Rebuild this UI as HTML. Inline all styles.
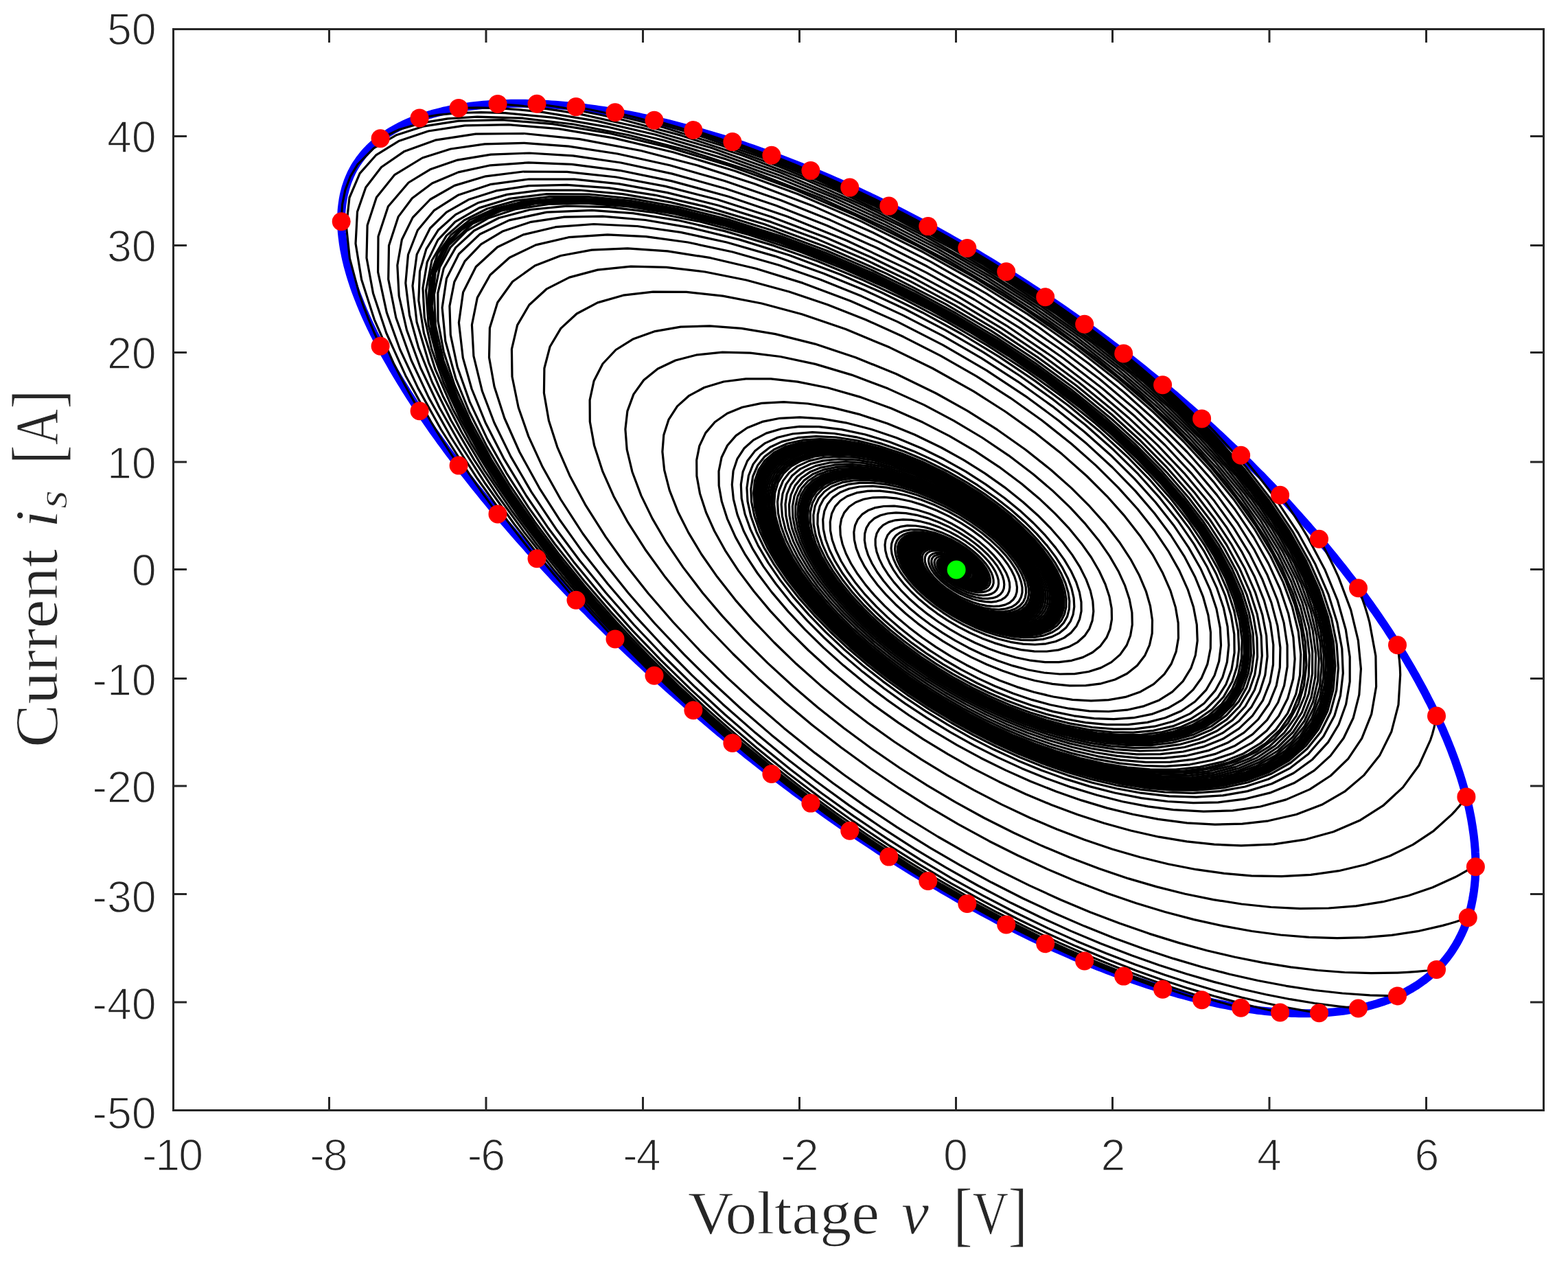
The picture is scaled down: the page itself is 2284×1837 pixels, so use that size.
<!DOCTYPE html>
<html lang="en"><head><meta charset="utf-8"><title>Phase portrait</title>
<style>html,body{margin:0;padding:0;background:#fff}body{width:2284px;height:1837px;overflow:hidden}svg{display:block}.t{font-family:"Liberation Sans",sans-serif;font-size:64.5px;fill:#262626;stroke:#fff;stroke-width:1.5px}.l{font-family:"Liberation Serif",serif;font-size:89px;fill:#262626;stroke:#fff;stroke-width:1px}</style></head><body>
<svg xmlns="http://www.w3.org/2000/svg" width="2284" height="1837" viewBox="0 0 2284 1837">
<rect width="2284" height="1837" fill="#fff"/>
<path d="M497.1,320.6l.1,-3.6 .1,-3.5 .1,-3.4 .2,-3.5 .3,-3.4 .4,-3.3 .4,-3.3 .5,-3.3 .5,-3.3 .6,-3.2 .6,-3.1 .8,-3.2 .8,-3.1 .8,-3.1 .9,-3 1,-3 1,-2.9 1.1,-2.9 1.2,-2.9 1.2,-2.9 1.3,-2.8 1.3,-2.8 1.4,-2.7 1.5,-2.7 1.5,-2.7 1.6,-2.6 1.7,-2.6 1.7,-2.5 1.8,-2.6 1.8,-2.4 1.9,-2.5 1.9,-2.4 2.1,-2.4 2,-2.3 2.2,-2.3 2.2,-2.3 2.2,-2.2 2.4,-2.2 2.3,-2.1 2.5,-2.1 2.5,-2.1 2.5,-2.1 2.6,-2 2.7,-1.9 2.7,-1.9 2.8,-1.9 2.9,-1.9 2.9,-1.8 2.9,-1.8 3,-1.7 3.1,-1.7 3.2,-1.7 3.1,-1.6 3.3,-1.6 3.3,-1.5 3.3,-1.5 3.5,-1.5 3.4,-1.4 3.5,-1.4 3.6,-1.4 3.7,-1.3 3.6,-1.3 3.8,-1.2 3.8,-1.2 3.8,-1.2 3.9,-1.1 4,-1.1 4,-1 4,-1 4.2,-1 4.1,-.9 4.2,-.9 4.3,-.8 4.3,-.9 4.4,-.7 4.4,-.7 4.4,-.7 4.6,-.7 4.5,-.6 4.6,-.5 4.7,-.6 4.7,-.4 4.7,-.5 4.8,-.4 4.9,-.3 4.9,-.3 4.9,-.3 5,-.2 5,-.2 5.1,-.2 5.1,-.1 5.2,-.1 5.2,0 5.3,0 5.3,.1 5.3,.1 5.4,.1 5.4,.2 5.5,.3 5.5,.2 5.5,.4 5.6,.3 5.6,.4 5.7,.5 5.7,.5 5.7,.5 5.8,.6 5.8,.6 5.8,.6 5.9,.7 6,.8 5.9,.8 6,.8 6,.9 6.1,.9 6.1,1 6.1,1 6.2,1.1 6.2,1.1 6.2,1.1 6.3,1.2 6.3,1.2 6.3,1.3 6.3,1.3 6.4,1.4 6.4,1.4 6.5,1.4 6.4,1.5 6.5,1.6 6.5,1.6 6.6,1.6 6.6,1.7 6.6,1.7 6.6,1.8 6.6,1.8 6.7,1.8 6.7,1.9 6.7,1.9 6.8,2 6.7,2 6.8,2.1 6.8,2.1 6.9,2.2 6.8,2.2 6.9,2.2 6.9,2.3 6.9,2.4 6.9,2.3 6.9,2.5 7,2.4 6.9,2.5 7,2.6 7,2.6 7.1,2.6 7,2.7 7,2.7 7.1,2.8 7.1,2.8 7,2.8 7.1,2.9 7.1,2.9 7.2,3 7.1,3 7.1,3.1 7.2,3.1 7.1,3.1 7.2,3.2 7.1,3.2 7.2,3.3 7.2,3.3 7.2,3.3 7.2,3.4 7.2,3.5 7.2,3.4 7.2,3.5 7.2,3.6 7.2,3.6 7.2,3.6 7.2,3.7 7.2,3.7 7.2,3.7 7.2,3.8 7.2,3.8 7.2,3.8 7.2,3.9 7.2,4 7.2,3.9 7.2,4 7.2,4.1 7.2,4.1 7.2,4.1 7.2,4.1 7.1,4.2 7.2,4.2 7.1,4.3 7.2,4.3 7.1,4.3 7.1,4.4 7.2,4.4 7.1,4.4 7.1,4.4 7,4.5 7.1,4.6 7.1,4.5 7,4.6 7,4.6 7.1,4.7 7,4.7 6.9,4.7 7,4.7 7,4.8 6.9,4.8 6.9,4.9 6.9,4.8 6.9,4.9 6.9,5 6.8,4.9 6.9,5 6.8,5 6.8,5 6.7,5.1 6.8,5.1 6.7,5.1 6.7,5.1 6.7,5.2 6.6,5.2 6.6,5.2 6.6,5.2 6.6,5.3 6.5,5.3 6.6,5.3 6.5,5.3 6.4,5.3 6.5,5.4 6.4,5.4 6.4,5.4 6.3,5.4 6.3,5.5 6.3,5.5 6.3,5.5 6.2,5.5 6.2,5.5 6.2,5.6 6.1,5.5 6.1,5.6 6.1,5.6 6,5.6 6,5.6 5.9,5.7 6,5.6 5.8,5.7 5.9,5.7 5.8,5.7 5.8,5.7 5.7,5.8 5.7,5.7 5.7,5.7 5.6,5.8 5.6,5.8 5.5,5.8 5.5,5.8 5.5,5.8 5.4,5.8 5.4,5.8 5.3,5.8 5.3,5.9 5.3,5.8 5.2,5.9 5.2,5.8 5.1,5.9 5.1,5.8 5,5.9 5,5.9 4.9,5.9 4.9,5.8 4.8,5.9 4.8,5.9 4.8,5.9 4.7,5.9 4.7,5.9 4.6,5.9 4.5,5.9 4.6,5.9 4.4,5.9 4.4,5.9 4.4,5.8 4.3,5.9 4.3,5.9 4.2,5.9 4.1,5.9 4.2,5.8 4,5.9 4,5.9 4,5.8 3.9,5.9 3.8,5.8 3.8,5.9 3.7,5.8 3.7,5.8 3.7,5.8 3.5,5.8 3.6,5.8 3.4,5.8 3.4,5.8 3.4,5.7 3.3,5.8 3.3,5.7 3.1,5.7 3.2,5.8 3,5.6 3.1,5.7 2.9,5.7 2.9,5.7 2.9,5.6 2.8,5.6 2.7,5.6 2.7,5.6 2.6,5.6 2.5,5.6 2.5,5.5 2.5,5.5 2.3,5.5 2.4,5.5 2.2,5.5 2.2,5.4 2.2,5.4 2,5.4 2,5.4 2,5.3 1.9,5.4 1.8,5.3 1.8,5.3 1.7,5.2 1.7,5.3 1.6,5.2 1.5,5.2 1.5,5.1 1.4,5.2 1.3,5.1 1.3,5 1.2,5.1 1.2,5 1.1,5 1,5 1,4.9 .9,4.9 .8,4.9 .8,4.9 .7,4.8 .7,4.8 .6,4.7 .5,4.7 .5,4.7 .4,4.7 .4,4.6 .2,4.6 .3,4.5 .1,4.6 .1,4.4 .1,4.5 -.1,4.4 -.1,4.4 -.1,4.3 -.3,4.3 -.2,4.3 -.4,4.2 -.4,4.2 -.5,4.2 -.5,4.1 -.6,4.1 -.7,4 -.7,4 -.8,3.9 -.8,4 -.9,3.8 -1,3.9 -1,3.7 -1.1,3.8 -1.2,3.7 -1.2,3.7 -1.3,3.6 -1.3,3.6 -1.4,3.5 -1.5,3.5 -1.5,3.4 -1.6,3.4 -1.7,3.4 -1.7,3.3 -1.8,3.3 -1.8,3.2 -1.9,3.2 -2,3.1 -2,3.1 -2,3 -2.2,3 -2.2,2.9 -2.2,2.9 -2.4,2.9 -2.3,2.8 -2.5,2.7 -2.5,2.7 -2.5,2.7 -2.6,2.6 -2.7,2.5 -2.7,2.5 -2.8,2.5 -2.9,2.4 -2.9,2.4 -2.9,2.3 -3.1,2.2 -3,2.2 -3.2,2.2 -3.1,2.1 -3.3,2 -3.3,2 -3.4,1.9 -3.4,1.9 -3.4,1.9 -3.6,1.8 -3.5,1.7 -3.7,1.7 -3.7,1.6 -3.7,1.6 -3.8,1.5 -3.8,1.5 -3.9,1.4 -4,1.3 -4,1.3 -4,1.3 -4.2,1.2 -4.1,1.1 -4.2,1.1 -4.3,1.1 -4.3,.9 -4.4,1 -4.4,.8 -4.4,.9 -4.6,.7 -4.5,.7 -4.6,.7 -4.7,.6 -4.7,.5 -4.8,.5 -4.8,.4 -4.8,.4 -4.9,.3 -4.9,.3 -5,.2 -5,.1 -5.1,.1 -5.1,.1 -5.2,0 -5.2,-.1 -5.3,-.1 -5.3,-.2 -5.3,-.3 -5.4,-.3 -5.4,-.3 -5.5,-.4 -5.5,-.5 -5.5,-.5 -5.6,-.6 -5.6,-.6 -5.7,-.7 -5.7,-.8 -5.7,-.8 -5.8,-.8 -5.8,-.9 -5.9,-1 -5.8,-1 -6,-1.1 -5.9,-1.1 -6,-1.2 -6,-1.2 -6.1,-1.3 -6.1,-1.4 -6.1,-1.4 -6.2,-1.5 -6.2,-1.5 -6.2,-1.5 -6.3,-1.7 -6.3,-1.7 -6.3,-1.7 -6.3,-1.8 -6.4,-1.8 -6.4,-1.9 -6.5,-2 -6.4,-2 -6.5,-2 -6.6,-2.1 -6.5,-2.2 -6.6,-2.2 -6.6,-2.3 -6.6,-2.3 -6.6,-2.4 -6.7,-2.4 -6.7,-2.5 -6.7,-2.5 -6.8,-2.6 -6.7,-2.6 -6.8,-2.7 -6.8,-2.7 -6.9,-2.8 -6.8,-2.9 -6.9,-2.9 -6.9,-2.9 -6.9,-3 -6.9,-3 -6.9,-3.1 -7,-3.1 -7,-3.2 -6.9,-3.2 -7,-3.3 -7.1,-3.3 -7,-3.4 -7,-3.4 -7.1,-3.5 -7.1,-3.5 -7,-3.6 -7.1,-3.6 -7.1,-3.6 -7.2,-3.7 -7.1,-3.8 -7.1,-3.8 -7.2,-3.8 -7.1,-3.9 -7.2,-3.9 -7.1,-4 -7.2,-4 -7.2,-4 -7.2,-4.1 -7.2,-4.2 -7.2,-4.1 -7.2,-4.3 -7.2,-4.2 -7.2,-4.3 -7.2,-4.3 -7.2,-4.4 -7.2,-4.4 -7.2,-4.5 -7.2,-4.5 -7.2,-4.5 -7.2,-4.6 -7.2,-4.6 -7.2,-4.7 -7.2,-4.6 -7.2,-4.8 -7.2,-4.7 -7.2,-4.8 -7.2,-4.8 -7.2,-4.9 -7.2,-4.9 -7.1,-4.9 -7.2,-5 -7.1,-5 -7.2,-5 -7.1,-5 -7.1,-5.1 -7.2,-5.2 -7.1,-5.1 -7.1,-5.2 -7,-5.2 -7.1,-5.2 -7.1,-5.3 -7,-5.3 -7,-5.3 -7.1,-5.3 -7,-5.4 -7,-5.4 -6.9,-5.4 -7,-5.5 -6.9,-5.5 -6.9,-5.4 -6.9,-5.6 -6.9,-5.5 -6.9,-5.6 -6.8,-5.6 -6.9,-5.6 -6.8,-5.6 -6.8,-5.6 -6.7,-5.7 -6.8,-5.7 -6.7,-5.7 -6.7,-5.7 -6.7,-5.8 -6.6,-5.7 -6.6,-5.8 -6.6,-5.8 -6.6,-5.8 -6.6,-5.8 -6.5,-5.8 -6.5,-5.9 -6.4,-5.8 -6.5,-5.9 -6.4,-5.9 -6.4,-5.9 -6.3,-5.9 -6.3,-5.9 -6.3,-5.9 -6.3,-5.9 -6.2,-6 -6.2,-5.9 -6.2,-6 -6.1,-5.9 -6.1,-6 -6.1,-6 -6,-5.9 -6,-6 -5.9,-6 -6,-6 -5.9,-6 -5.8,-6 -5.8,-6 -5.8,-6 -5.7,-6 -5.7,-6 -5.7,-5.9 -5.6,-6 -5.6,-6 -5.5,-6 -5.5,-6 -5.5,-6 -5.4,-6 -5.4,-5.9 -5.3,-6 -5.3,-5.9 -5.3,-6 -5.2,-5.9 -5.2,-6 -5.1,-5.9 -5.1,-5.9 -5,-5.9 -5,-6 -4.9,-5.8 -4.9,-5.9 -4.9,-5.9 -4.8,-5.9 -4.7,-5.8 -4.7,-5.8 -4.7,-5.8 -4.6,-5.9 -4.5,-5.7 -4.6,-5.8 -4.4,-5.8 -4.4,-5.7 -4.4,-5.7 -4.3,-5.8 -4.3,-5.6 -4.2,-5.7 -4.1,-5.7 -4.2,-5.6 -4,-5.6 -4,-5.6 -4,-5.6 -3.9,-5.6 -3.8,-5.5 -3.8,-5.5 -3.8,-5.5 -3.6,-5.5 -3.7,-5.4 -3.6,-5.4 -3.5,-5.4 -3.4,-5.4 -3.5,-5.4 -3.3,-5.3 -3.3,-5.3 -3.3,-5.3 -3.1,-5.2 -3.2,-5.3 -3.1,-5.2 -3,-5.1 -2.9,-5.2 -2.9,-5.1 -2.9,-5.1 -2.8,-5 -2.7,-5.1 -2.7,-5 -2.6,-4.9 -2.5,-5 -2.5,-4.9 -2.5,-4.9 -2.3,-4.8 -2.4,-4.8 -2.2,-4.8 -2.2,-4.8 -2.2,-4.7 -2,-4.7 -2.1,-4.7 -1.9,-4.6 -1.9,-4.6 -1.8,-4.6 -1.8,-4.5 -1.7,-4.5 -1.7,-4.5 -1.6,-4.4 -1.5,-4.4 -1.5,-4.4 -1.4,-4.4 -1.3,-4.3 -1.3,-4.2 -1.2,-4.3 -1.2,-4.2 -1.1,-4.1 -1,-4.2 -1,-4.1 -.9,-4 -.8,-4.1 -.8,-4 -.8,-3.9 -.6,-3.9 -.6,-3.9 -.5,-3.9 -.5,-3.8 -.4,-3.8 -.4,-3.7 -.3,-3.7 -.2,-3.7 -.1,-3.7 -.1,-3.6z" fill="none" stroke="#0000ff" stroke-width="12" stroke-linejoin="round"/>
<g fill="none" stroke="#000" stroke-width="3.2" stroke-linejoin="round" stroke-linecap="butt">
<path d="M497.1,320.6l1.5,-22.8 4.3,-21.2 7.4,-19.4 10.6,-17.5 23.5,-23.9 32.3,-18.7 41.1,-13.3 50.1,-7.6 64,-1.5 73,5.9 81,13.2 87,20.6 89.7,27 91.9,33.5 92.2,39.4 90.6,44.5 79.4,44.1 75.6,47.1 70.8,49.3 65.2,50.9 50.3,43.7 45.5,43.9 40.4,43.7 35.1,43.1 29.4,41.4 24.2,40.1 19,38.6 14,36.7 9.3,36.2 4.1,33.6 -.8,30.9 -5.5,28.1 -11.7,28.4 -16.9,24.3 -21.5,20.3 -25.7,16.1 -29.7,12.1 -32.8,8 -35.3,4.1 -37.3,.2 -33.5,-2.6 -34.2,-5.3 -34.6,-7.5 -34.7,-9.8 -32.7,-11.1 -32.3,-12.7 -31.7,-14.1 -30.9,-15.4 -30.9,-17.1 -29.7,-18.1 -28.5,-18.8 -26.9,-19.6 -26.9,-21.2 -24.9,-21.6 -22.9,-21.7 -20.7,-21.6 -19.8,-23.1 -17.2,-22.5 -14.3,-21.9 -11.6,-20.9 -9.4,-21.5 -6.1,-20.1 -2.8,-18.5 .3,-16.7 4,-15.9 7.4,-13.7 10.8,-11.2 13.8,-8.6 19,-6.7 22,-3.5 24.5,-.2 26.4,2.7 27.9,5.7 28.6,8.3 28.8,10.7 28.3,12.7 24.7,13 23.5,14.2 21.9,15 20.1,15.6 16.5,14.5 14.7,14.5 12.7,14.4 10.6,14.1 8.5,13.6 6.4,12.9 4.3,12.2 2.2,11.2 .3,10.8 -1.9,9.5 -3.9,8.3 -5.6,6.8 -8.8,6.2 -10.8,4.3 -12.4,2.2 -13.7,.4 -14.3,-1.4 -14.8,-3.1 -15.1,-4.4 -14.9,-5.8 -13.3,-6.1 -12.8,-7 -12.1,-7.5 -11.2,-7.9 -10,-8 -8.9,-8.1 -7.8,-8.1 -6.6,-7.9 -5.5,-8 -4.2,-7.5 -2.9,-7.1 -1.6,-6.5 -.3,-6.3 1.2,-5.4 2.4,-4.5 3.7,-3.6 5.5,-3 6.8,-1.7 7.7,-.4 8.4,.7 9.2,1.9 9.5,3 9.3,3.9 9,4.6 7.7,4.7 7,5 6.3,5.2 5.4,5.3 4.2,4.9 3.3,4.7 2.4,4.4 1.5,4.2 .6,3.8 -.3,3.4 -1,2.8 -1.9,2.3 -3,1.9 -3.7,1.1 -4.3,.3 -4.6,-.4 -5.4,-1.1 -5.4,-1.8 -5.3,-2.4 -5.1,-2.8 -4.2,-2.8 -3.7,-2.9 -3.2,-3.1 -2.6,-3 -1.9,-2.7 -1.3,-2.6 -.8,-2.3 -.1,-2.1 .4,-1.8 1,-1.5 1.5,-1.1 1.9,-.6 2.8,-.2 3.1,.3 3.2,.9 3.2,1.3 3.1,1.6 2.7,1.8 2.4,1.9 2,2 1.3,1.6 .9,1.6 .5,1.4 .1,1.3 -.3,1 -.7,.8"/>
<path d="M554.1,201.7l27.4,-12.9 32.7,-9.7 38,-6.3 43.1,-2.7 65.9,2.1 73.9,8.8 80.4,15.7 85.5,22.3 95.6,31.1 97.3,37.9 96.7,44.1 94.1,49.5 75.5,44.8 71.4,47.3 66.4,49 60.8,50.2 47.5,43.8 42.6,43.7 37.5,43.3 32.3,42.6 26.8,41.1 21.5,39.6 16.5,37.9 11.3,35.9 6.7,35.5 1.4,32.7 -3.5,29.8 -8.1,26.8 -15,27.5 -20.3,23.1 -25,18.6 -29.1,14.1 -31.8,9.6 -34.5,5.6 -36.6,1.7 -38.3,-1.9 -33.5,-4.4 -34,-6.7 -34.2,-8.9 -34.1,-10.8 -32.6,-12.2 -32.1,-13.8 -31.4,-15 -30.5,-16.3 -30.5,-17.9 -29.3,-18.9 -27.8,-19.5 -26.3,-20.1 -26.1,-21.8 -24,-22.1 -21.9,-22 -19.5,-21.8 -18.6,-23.2 -15.7,-22.5 -12.8,-21.7 -10,-20.7 -7.5,-21 -4.2,-19.4 -.8,-17.7 2.5,-15.8 6.1,-14.9 9.7,-12.3 13,-9.8 16,-7.2 21.5,-4.9 24.5,-1.5 26.9,1.8 28.5,4.9 28.3,7.5 28.6,9.9 28.3,12 27.5,13.8 23.4,13.6 22.1,14.5 20.3,15.1 18.5,15.5 15.3,14.6 13.4,14.4 11.3,14.2 9.2,13.8 7.2,13.3 5.1,12.6 3,11.7 .9,10.6 -1.1,10.3 -3.3,8.9 -5.1,7.5 -7,5.9 -10.4,5.3 -12.2,3.1 -13.7,1 -14.7,-.9 -14.7,-2.5 -15.1,-4.1 -15,-5.3 -14.7,-6.5 -12.8,-6.7 -12.2,-7.3 -11.5,-7.8 -10.4,-8.1 -9.3,-8.1 -8.2,-8.2 -7,-8 -5.8,-7.9 -4.7,-7.8 -3.4,-7.4 -2,-6.7 -.6,-6.2 .7,-5.8 2.1,-4.9 3.4,-4 4.6,-2.9 6.6,-2.3 7.9,-.8 8.6,.4 9.2,1.7 9.4,2.7 9.4,3.7 9.1,4.4 8.5,5.1 7.1,4.9 6.3,5 5.5,5.2 4.6,5.2 3.5,4.7 2.7,4.6 1.7,4.2 .9,3.9 -.1,3.6 -.9,3 -1.7,2.5 -2.4,1.8 -3.7,1.4 -4.4,.6 -4.9,-.3 -5.2,-1 -5.4,-1.7 -5.3,-2.2 -5.1,-2.7 -4.7,-3 -3.7,-2.9 -3.3,-3 -2.7,-3 -2.1,-2.8 -1.4,-2.7 -.9,-2.4 -.2,-2.2 .2,-1.8 .9,-1.6 1.5,-1.2 1.9,-.7 2.2,-.3 3.2,.2 3.3,.8 3.4,1.3 3.3,1.6 2.8,1.8 2.5,1.9 2,2 1.5,1.9 .9,1.6 .5,1.4 .1,1.3 -.2,1 -.7,.8"/>
<path d="M611.1,171.9l27.2,-4.6 29.9,-2.8 32.6,-.9 35.1,1 70.8,6.8 77.8,13.4 83.3,20 87.1,26.3 78.2,28 78.7,32.3 78.1,36.2 76.4,39.6 73.7,42.5 70.1,45 65.8,46.7 60.8,48.1 50.4,44.2 45.4,44.3 40.4,44.1 35.1,43.4 29.4,41.9 24.2,40.6 19,39 13.8,37.1 9.1,36.5 3.9,34 -1.2,31.2 -5.8,28.3 -12.2,28.7 -17.4,24.6 -22.2,20.3 -26.4,16.2 -30.2,12 -33.3,8 -35.8,3.9 -37.8,.1 -33.7,-2.8 -34.4,-5.3 -34.9,-7.7 -34.9,-9.8 -33,-11.2 -32.5,-12.8 -32,-14.3 -31.2,-15.5 -31.2,-17.2 -30.1,-18.3 -28.7,-19 -27.2,-19.7 -27.3,-21.5 -25.2,-21.8 -23.2,-21.9 -21.1,-21.9 -20.2,-23.3 -17.4,-22.9 -14.8,-22.1 -11.9,-21.3 -9.7,-21.8 -6.4,-20.4 -3,-18.8 .1,-17 3.8,-16.3 7.2,-14 10.7,-11.5 13.8,-8.9 18.8,-7 22,-3.8 24.5,-.5 26.6,2.5 28.2,5.5 29.1,8.2 29.2,10.6 28.8,12.8 25.3,13.1 24,14.4 22.5,15.2 20.7,15.8 17,14.7 15,14.8 13.1,14.6 11,14.3 8.8,13.8 6.7,13.2 4.7,12.4 2.5,11.4 .5,11.1 -1.7,9.8 -3.6,8.5 -5.5,7.1 -8.6,6.5 -10.6,4.6 -12.2,2.5 -13.5,.7 -14.4,-1.2 -15,-2.8 -15.2,-4.3 -15.2,-5.6 -13.6,-6.1 -13.1,-6.9 -12.4,-7.5 -11.6,-8 -10.2,-8 -9.3,-8.2 -8.1,-8.2 -6.9,-8 -5.9,-8.1 -4.6,-7.8 -3.2,-7.3 -1.9,-6.7 -.6,-6.5 .8,-5.6 2.2,-4.8 3.4,-3.8 5.2,-3.3 6.5,-2 7.5,-.7 8.3,.4 9.3,1.6 9.6,2.8 9.5,3.7 9.3,4.5 8,4.7 7.4,5.1 6.6,5.3 5.8,5.4 4.5,4.9 3.5,4.9 2.7,4.6 1.8,4.2 .9,4.1 0,3.5 -.8,3 -1.7,2.5 -2.7,2.1 -3.5,1.3 -4.1,.6 -4.6,-.2 -5.4,-.9 -5.5,-1.6 -5.4,-2.3 -5.2,-2.7 -4.5,-2.8 -4,-3 -3.4,-3.1 -2.9,-3.1 -2.1,-2.8 -1.6,-2.7 -.9,-2.4 -.3,-2.2 .2,-2 .8,-1.6 1.4,-1.2 1.7,-.8 2.6,-.4 3,.2 3.1,.6 3.2,1.1 3.2,1.5 2.9,1.8 2.6,1.9 2.2,2 1.5,1.7 1.1,1.7 .7,1.5 .3,1.4 -.1,1.1 -.5,1 -.8,.6"/>
<path d="M668.1,157.4l27.9,-.5 29.7,.8 31.5,2.1 33,3.6 79.5,13 85.4,19.9 89.7,26.7 92.2,33 76.2,31.5 75.6,35.1 74,38.3 71.6,41 68.3,43.3 64.3,45.1 59.8,46.3 54.8,47.1 46.3,44.3 41.3,44.1 36.1,43.6 30.9,42.7 25.4,41.4 20.2,39.8 15,37.9 9.9,35.9 5,35.4 -.1,32.5 -5.2,29.6 -9.8,26.4 -16.9,26.7 -22.2,22.2 -26.7,17.7 -30.8,13.2 -33,8.5 -35.7,4.5 -37.6,.7 -39.1,-2.9 -33.8,-5.2 -34.1,-7.3 -34.3,-9.5 -34.1,-11.4 -32.9,-12.8 -32.3,-14.2 -31.5,-15.6 -30.7,-16.7 -30.7,-18.5 -29.4,-19.3 -27.9,-20 -26.3,-20.5 -26.1,-22.3 -24,-22.4 -21.8,-22.4 -19.4,-22.2 -18.4,-23.5 -15.4,-22.8 -12.6,-21.9 -9.6,-20.8 -7,-21.2 -3.6,-19.5 -.3,-17.7 3.1,-15.7 6.9,-14.8 10.5,-12.1 13.8,-9.5 16.8,-6.8 22.6,-4.5 25.6,-1 27.8,2.4 29.4,5.6 28.9,8 29,10.5 28.6,12.6 27.8,14.3 23.4,13.9 22,14.7 20.3,15.4 18.3,15.7 15.2,14.8 13.2,14.7 11.2,14.3 9.1,13.9 7,13.5 4.8,12.6 2.8,11.8 .6,10.7 -1.4,10.3 -3.6,8.8 -5.6,7.5 -7.3,5.9 -10.7,5 -12.5,2.9 -14,.9 -15,-1.1 -15,-2.7 -15.2,-4.2 -15.2,-5.5 -14.9,-6.7 -13,-6.8 -12.3,-7.4 -11.5,-7.9 -10.6,-8.2 -9.4,-8.3 -8.2,-8.3 -7.1,-8.2 -5.8,-7.9 -4.8,-8 -3.3,-7.4 -2,-6.9 -.6,-6.2 .7,-5.9 2.2,-5 3.5,-4 4.6,-3 6.8,-2.2 8,-.9 8.8,.5 9.3,1.7 9.6,2.7 9.5,3.8 9.2,4.5 8.7,5.1 7.2,4.9 6.4,5.2 5.7,5.3 4.7,5.2 3.6,4.8 2.7,4.7 1.8,4.3 .9,3.9 0,3.7 -.9,3.1 -1.7,2.5 -2.4,1.9 -3.7,1.5 -4.4,.6 -5,-.2 -5.2,-1 -5.5,-1.6 -5.4,-2.3 -5.2,-2.7 -4.8,-3 -3.9,-3 -3.3,-3 -2.8,-3 -2.2,-2.9 -1.5,-2.7 -1,-2.5 -.3,-2.2 .2,-1.9 .8,-1.7 1.4,-1.2 1.9,-.8 2.2,-.4 3.2,.1 3.4,.8 3.5,1.2 3.3,1.6 2.9,1.8 2.6,2 2.1,2 1.6,1.9 1,1.6 .5,1.5 .2,1.3 -.2,1.1 -.5,.9 -1,.6"/>
<path d="M725,151.4l28.9,2.2 30.1,3.3 31.4,4.4 32.6,5.6 91.6,20.4 96.8,28.2 99.9,35.7 100.5,42.5 73.4,35.2 71.6,38.1 69.1,40.7 65.8,42.6 62.1,44.2 57.6,45.4 52.9,46 47.6,46.2 40.7,44.1 35.5,43.6 30.3,42.6 24.9,41.3 20,40.3 14.5,38.4 9.4,36.2 4.4,33.7 -.7,33.6 -6,30.3 -10.9,26.9 -15.5,23.4 -22.1,22 -26.6,17.6 -30.5,13.2 -33.9,8.8 -34.5,4.5 -36.5,.8 -37.9,-2.5 -38.8,-5.7 -33.6,-7.2 -33.8,-9.3 -33.6,-11.1 -33.3,-12.8 -32.7,-14.3 -32,-15.7 -31.1,-16.9 -29.9,-17.8 -30.1,-19.7 -28.6,-20.3 -26.9,-20.9 -25.1,-21.3 -24.8,-23 -22.5,-22.9 -20.1,-22.7 -17.7,-22.4 -16.2,-23.5 -13.1,-22.5 -10.1,-21.5 -7,-20.2 -4.2,-20.2 -.6,-18.4 2.9,-16.3 6.2,-14.1 10.4,-12.9 13.8,-10.1 17.1,-7.2 19.9,-4.4 25.9,-1.6 28.5,2 30.2,5.4 31.3,8.6 28.9,10.3 28.5,12.4 27.7,14.1 26.3,15.5 21.5,14.5 20,15.1 18.1,15.4 16,15.6 13.4,14.7 11.3,14.5 9.2,14 7,13.3 5.1,13 2.9,12 .7,10.9 -1.3,9.8 -3.6,9.4 -5.7,7.8 -7.6,6.1 -9.2,4.5 -12.2,3.2 -13.7,1.2 -14.7,-.7 -15.4,-2.6 -15.3,-3.9 -15.3,-5.4 -15,-6.5 -14.6,-7.5 -12.3,-7.3 -11.6,-7.9 -10.7,-8.1 -9.6,-8.4 -8.5,-8.4 -7.3,-8.3 -6.1,-8.1 -4.8,-7.7 -3.6,-7.7 -2.2,-7.1 -.8,-6.5 .5,-5.7 2,-5.3 3.4,-4.2 4.7,-3.2 5.8,-2.2 8.2,-1.2 9.2,.3 9.9,1.7 10.2,2.9 9.5,3.7 9.3,4.5 8.7,5.1 7.9,5.5 6.4,5.1 5.5,5.2 4.6,5.2 3.7,5 2.8,4.7 1.8,4.3 .9,4 0,3.5 -.9,3.3 -1.8,2.6 -2.6,1.9 -3.2,1.3 -4.8,.7 -5.4,-.2 -5.7,-1.2 -5.8,-1.8 -5.4,-2.4 -5.2,-2.8 -4.7,-3.1 -4.1,-3.3 -3.2,-3 -2.6,-3 -2,-2.8 -1.4,-2.7 -.8,-2.5 -.2,-2.2 .4,-1.8 .9,-1.5 1.6,-1.2 2.1,-.7 2.4,-.2 2.7,.2 3.4,.7 3.4,1.3 3.3,1.6 3,1.8 2.4,1.9 2,1.9 1.6,1.8 1.1,1.8 .6,1.5 .2,1.3 -.1,1.1 -.5,.9 -.9,.7"/>
<path d="M782,151.3l29.8,4.3 30.9,5.3 31.8,6.3 32.6,7.3 85.3,22.9 88.5,28.9 90,34.6 89.9,39.8 88.2,44.4 85,48.2 80.6,51.5 75,53.7 57.1,45.6 52.2,46.1 47,46.3 41.6,46 34.8,43.7 29.5,42.6 24.2,41.3 18.9,39.7 14.1,38.9 8.6,36.6 3.6,34 -1.4,31.3 -7.1,31.4 -12.3,27.7 -17.2,23.8 -21.6,20 -27.2,16.8 -30.9,12.6 -34.1,8.3 -36.7,4.1 -34.4,.5 -35.5,-2.6 -36.3,-5.3 -36.9,-7.9 -33.6,-9.2 -33.4,-11.1 -33.2,-12.8 -32.5,-14.2 -32.5,-15.9 -31.5,-17.1 -30.4,-18.1 -29.1,-18.9 -29.3,-20.8 -27.5,-21.4 -25.7,-21.7 -23.7,-21.9 -23.2,-23.5 -20.7,-23.3 -18.1,-22.9 -15.5,-22.3 -13.7,-23.3 -10.5,-22.1 -7.3,-20.7 -4.1,-19.3 -.8,-18.9 2.8,-16.9 6.2,-14.6 9.6,-12.2 14.1,-10.6 17.5,-7.7 20.5,-4.6 23.1,-1.6 27.7,1.5 29.4,4.9 30.6,7.8 30.9,10.6 28.6,12.1 27.8,13.8 26.5,15.2 24.8,16.4 19.9,14.9 18.2,15.2 16.1,15.4 14.1,15.3 11.7,14.6 9.5,14.2 7.4,13.6 5.2,12.8 3.3,12.4 1,11.3 -1.1,10.2 -3,8.8 -5.6,8.4 -7.7,6.7 -9.6,4.9 -11,3.1 -13.4,1.5 -14.5,-.4 -15.3,-2.2 -15.6,-3.8 -14.9,-5 -14.6,-6 -14.2,-7 -13.6,-7.8 -11.8,-7.7 -10.9,-8.1 -10,-8.3 -8.8,-8.4 -7.8,-8.4 -6.5,-8.3 -5.3,-8 -3.9,-7.5 -2.6,-7.5 -1.3,-6.8 .1,-6 1.5,-5.2 3.1,-4.7 4.4,-3.7 5.7,-2.5 6.6,-1.4 8.8,-.3 9.6,1.1 10,2.4 10.1,3.5 9.4,4.2 9,4.9 8.4,5.4 7.5,5.7 5.8,5.1 5,5.2 4,5 3.2,4.9 2.2,4.6 1.3,4.2 .3,3.7 -.5,3.3 -1.4,2.9 -2.4,2.3 -3,1.6 -3.7,.9 -5.1,.2 -5.5,-.7 -5.8,-1.5 -5.8,-2.1 -5.3,-2.6 -5,-3 -4.5,-3.2 -3.8,-3.4 -2.9,-3 -2.4,-2.9 -1.7,-2.8 -1.1,-2.6 -.5,-2.3 .1,-2.1 .7,-1.7 1.2,-1.3 1.9,-1 2.3,-.5 2.7,0 2.9,.5 3.4,1 3.4,1.4 3.1,1.7 2.9,1.9 2.2,1.9 1.8,1.9 1.3,1.8 1,1.6 .4,1.5 .1,1.3 -.3,1 -.7,.8 -1,.6"/>
<path d="M839,155.6l30.8,6.2 31.7,7.1 32.3,8 33,8.9 82.9,25.7 84.7,30.9 85.2,35.6 84.2,40 82.2,43.7 78.8,46.9 74.4,49.4 69.3,51.3 55.6,45.6 50.7,46.2 45.4,46.1 40.1,45.7 33.6,43.8 28.3,42.6 22.9,41.2 17.7,39.4 12.8,38.8 7.4,36.3 2.2,33.7 -2.7,30.9 -8.6,31.1 -13.9,27.2 -18.8,23.2 -23.1,19.2 -28.4,15.8 -31.9,11.4 -35,7.3 -37.4,3.1 -34.4,-.4 -35.5,-3.2 -36.2,-5.9 -36.6,-8.4 -33.7,-9.8 -33.5,-11.5 -33.1,-13.2 -32.6,-14.6 -32.5,-16.3 -31.5,-17.4 -30.3,-18.5 -29,-19.2 -29.2,-21.2 -27.4,-21.6 -25.5,-22 -23.4,-22 -23,-23.8 -20.3,-23.5 -17.8,-23 -15,-22.4 -13.3,-23.3 -9.9,-22 -6.7,-20.7 -3.5,-19.1 -.1,-18.8 3.5,-16.6 7,-14.2 10.4,-11.9 14.9,-10.2 18.4,-7.1 21.3,-4.1 23.9,-1 28.1,2.2 29.7,5.4 30.8,8.4 31,11 28.6,12.5 27.8,14.2 26.4,15.5 24.6,16.7 19.6,15 17.9,15.3 15.8,15.4 13.8,15.3 11.3,14.7 9.2,14.2 7.1,13.5 4.9,12.8 2.8,12.3 .7,11.3 -1.4,10 -3.5,8.7 -6,8.2 -8.2,6.5 -10,4.6 -11.5,2.9 -13.6,1.1 -14.8,-.7 -15.3,-2.5 -15.8,-4.1 -14.8,-5.1 -14.6,-6.2 -14.1,-7.1 -13.4,-7.8 -11.8,-7.9 -10.8,-8.1 -9.9,-8.4 -8.7,-8.4 -7.7,-8.5 -6.4,-8.3 -5.1,-8 -3.7,-7.6 -2.6,-7.4 -1.1,-6.8 .4,-5.9 1.6,-5.2 3.3,-4.7 4.6,-3.5 5.9,-2.4 6.8,-1.3 9,-.1 9.6,1.3 10.1,2.5 10.1,3.6 9.5,4.3 9,4.9 8.3,5.5 7.5,5.7 5.7,5.2 4.9,5.2 4,5.1 3.1,4.8 2.2,4.6 1.1,4.2 .3,3.8 -.6,3.2 -1.5,2.9 -2.4,2.3 -3.2,1.5 -3.8,.8 -5.1,.2 -5.6,-.8 -5.8,-1.5 -5.8,-2.2 -5.3,-2.7 -5,-3 -4.5,-3.2 -3.8,-3.4 -2.9,-3 -2.3,-3 -1.7,-2.7 -1.1,-2.6 -.4,-2.4 .1,-2.1 .7,-1.6 1.2,-1.3 1.9,-1 2.4,-.5 2.8,0 2.9,.5 3.4,1 3.4,1.5 3.2,1.7 2.8,2 2.2,1.8 1.8,1.9 1.4,1.8 .9,1.7 .4,1.5 .1,1.2 -.3,1.1 -.7,.7 -1.1,.6"/>
<path d="M896,163.7l31.9,7.9 32.5,8.8 33,9.6 33.5,10.5 81.9,28.7 82.8,33.3 82.2,37.5 80.7,41.2 78,44.4 74.3,47 69.8,49 64.5,50.5 52.8,45.8 47.8,46 42.5,45.8 37,45.2 31.1,43.5 25.7,42.2 20.3,40.6 15,38.8 10.1,38 4.8,35.6 -.4,32.7 -5.3,29.7 -11.7,30.2 -17,26 -22,21.7 -26.3,17.5 -30.5,13.4 -33.8,9.1 -36.5,5 -38.5,1 -34.5,-2.1 -35.3,-4.7 -35.7,-7.2 -36,-9.5 -33.7,-10.8 -33.5,-12.5 -32.9,-14 -32.2,-15.4 -32.3,-17.1 -31.3,-18.2 -29.9,-19.2 -28.5,-19.8 -28.7,-21.7 -26.7,-22.2 -24.8,-22.4 -22.6,-22.4 -22,-24 -19.3,-23.6 -16.5,-23.1 -13.8,-22.3 -11.7,-23 -8.4,-21.7 -5.1,-20.2 -1.7,-18.5 1.8,-18 5.4,-15.6 9,-13.2 12.2,-10.7 17.1,-8.8 20.5,-5.7 23.3,-2.5 25.6,.7 28.9,3.8 30.1,6.9 30.8,9.7 30.7,12.1 27.8,13.1 26.6,14.6 25.2,15.8 23.3,16.6 18.9,15.2 16.9,15.4 14.9,15.3 12.8,15.2 10.5,14.6 8.3,14 6.2,13.3 3.9,12.5 2,12.1 -.3,10.8 -2.3,9.6 -4.3,8.2 -7.2,7.8 -9.3,5.8 -11,4 -12.5,2 -14.2,.3 -15.1,-1.5 -15.6,-3.2 -15.8,-4.8 -14.6,-5.5 -14.2,-6.6 -13.7,-7.3 -13,-8 -11.4,-8 -10.5,-8.4 -9.4,-8.4 -8.3,-8.5 -7.3,-8.5 -5.9,-8.3 -4.6,-7.9 -3.2,-7.4 -2,-7.2 -.5,-6.6 .9,-5.7 2.2,-4.8 3.9,-4.4 5.2,-3.1 6.5,-2 7.3,-.8 9.2,.4 9.9,1.7 10.1,2.9 10,3.9 9.3,4.6 8.7,5.1 8.1,5.5 7.1,5.8 5.5,5.2 4.6,5.2 3.7,5 2.8,4.8 1.8,4.5 .9,4.1 0,3.6 -.9,3.1 -1.9,2.8 -2.7,2 -3.4,1.3 -4.1,.6 -5.2,-.1 -5.7,-1 -5.8,-1.7 -5.7,-2.4 -5.2,-2.7 -4.9,-3.1 -4.3,-3.2 -3.7,-3.4 -2.7,-3 -2.2,-2.9 -1.5,-2.8 -1,-2.5 -.3,-2.3 .3,-2 .8,-1.6 1.3,-1.3 2.1,-.9 2.5,-.3 2.9,.1 3,.6 3.4,1.1 3.4,1.5 3.1,1.8 2.8,2 2.1,1.9 1.7,1.9 1.2,1.7 .9,1.7 .3,1.4 0,1.3 -.4,1 -.7,.7 -1.2,.5"/>
<path d="M953,175.2l32.9,9.5 33.4,10.3 33.7,11.2 34.1,12 94.4,37.2 93.9,42.6 91.8,47.4 88.2,51.4 71.2,46.4 66.7,48.1 61.7,49.4 56,50 45.8,45.6 40.6,45.3 35.3,44.6 29.8,43.5 24.5,42.3 19,40.6 13.6,38.6 8.4,36.3 3.5,36 -1.9,32.9 -7,29.7 -11.8,26.4 -18.8,26.2 -24,21.5 -28.6,17 -32.4,12.4 -34.6,7.9 -37.1,3.7 -39,0 -40.5,-3.8 -34.3,-5.7 -34.7,-7.9 -34.8,-10 -34.5,-11.8 -33.6,-13.3 -32.9,-14.8 -32.2,-16.1 -31.2,-17.2 -31.4,-19 -30.1,-19.9 -28.5,-20.6 -26.8,-21.1 -26.8,-22.9 -24.6,-23.1 -22.4,-23.1 -20,-22.8 -18.8,-24.2 -16,-23.5 -13,-22.6 -9.9,-21.5 -7.4,-21.9 -3.8,-20.2 -.4,-18.3 3.1,-16.3 7,-15.2 10.7,-12.7 14.1,-9.9 17.1,-7.1 23.1,-4.8 26.1,-1.2 28.5,2.2 30.2,5.6 29.8,8.1 30.1,10.6 29.8,12.8 28.8,14.7 24.5,14.3 23,15.3 21.3,15.8 19.2,16.3 16,15.3 14,15.2 11.8,14.9 9.7,14.4 7.6,14 5.4,13.2 3.1,12.3 1.1,11.2 -1.1,10.8 -3.3,9.4 -5.3,7.9 -7.1,6.4 -10.7,5.7 -12.7,3.4 -14.1,1.3 -15.3,-.7 -15.4,-2.4 -15.7,-4 -15.7,-5.4 -15.4,-6.6 -13.6,-6.9 -12.9,-7.5 -12.1,-8 -11.2,-8.4 -10,-8.5 -8.9,-8.5 -7.7,-8.5 -6.4,-8.3 -5.4,-8.2 -3.9,-7.9 -2.5,-7.2 -1.2,-6.7 .2,-6.4 1.7,-5.4 3.1,-4.5 4.3,-3.5 6.4,-2.7 7.6,-1.4 8.5,-.1 9.2,1.1 9.9,2.4 9.9,3.4 9.7,4.3 9.3,5.1 7.9,5 7.1,5.3 6.4,5.4 5.4,5.5 4.2,5.1 3.3,5 2.4,4.6 1.4,4.3 .5,4 -.3,3.5 -1.3,2.9 -2.1,2.3 -3.2,2 -4,1.1 -4.6,.2 -5,-.4 -5.7,-1.3 -5.7,-1.9 -5.5,-2.5 -5.3,-3 -4.4,-2.9 -3.9,-3.1 -3.4,-3.2 -2.7,-3.1 -2.1,-2.9 -1.4,-2.8 -.8,-2.5 -.2,-2.2 .4,-1.9 1,-1.6 1.5,-1.2 1.9,-.7 2.8,-.3 3.2,.3 3.4,.8 3.4,1.2 3.2,1.7 3,1.8 2.6,2 2.2,2.1 1.5,1.8 1.1,1.7 .6,1.6 .2,1.3 -.1,1.2 -.6,.9 -.9,.7 -1.1,.4"/>
<path d="M1009.9,189.5l34,11.1 34.3,12 34.6,12.8 34.6,13.5 88.5,38.2 87.3,42.5 84.7,46.4 80.9,49.7 67.8,46.2 63.3,47.7 58.3,48.6 52.7,49.1 43.9,45.6 38.7,45.1 33.2,44.3 27.8,43.1 22.5,42.1 17.1,40.1 11.8,38 6.5,35.7 1.5,35.3 -4,32.2 -9,28.9 -13.7,25.4 -20.7,24.6 -25.6,20 -29.9,15.4 -33.5,10.9 -35.3,6.5 -37.6,2.5 -39.3,-1.3 -40.5,-4.7 -34.3,-6.5 -34.6,-8.6 -34.5,-10.5 -34.3,-12.4 -33.5,-13.8 -32.9,-15.3 -32,-16.5 -31,-17.7 -31.3,-19.5 -29.8,-20.3 -28.3,-20.9 -26.4,-21.4 -26.4,-23.2 -24.2,-23.3 -21.8,-23.2 -19.4,-22.9 -18.2,-24.3 -15.2,-23.5 -12.1,-22.5 -9.1,-21.4 -6.4,-21.6 -2.8,-19.8 .7,-17.9 4.1,-15.8 8.2,-14.6 11.9,-12 15.2,-9.1 18.3,-6.4 24.5,-3.8 27.5,-.2 29.7,3.4 31.3,6.7 30,9.1 30,11.4 29.5,13.5 28.4,15.2 23.8,14.6 22.2,15.4 20.5,15.9 18.4,16.3 15.3,15.3 13.3,15.1 11.1,14.8 8.9,14.3 6.9,13.8 4.6,13 2.5,12 .3,10.9 -1.9,10.5 -4,9.1 -6.1,7.5 -7.9,5.9 -11.3,4.9 -13.1,2.8 -14.5,.7 -15.5,-1.2 -15.5,-2.9 -15.7,-4.4 -15.8,-5.8 -15.3,-6.9 -13.4,-7.1 -12.7,-7.7 -11.9,-8.1 -10.9,-8.5 -9.7,-8.5 -8.6,-8.6 -7.3,-8.5 -6.1,-8.2 -5,-8.3 -3.5,-7.7 -2.2,-7.2 -.8,-6.5 .7,-6.1 2.1,-5.3 3.5,-4.2 4.7,-3.2 6.9,-2.5 8,-1 9,.3 9.6,1.6 9.9,2.7 9.9,3.7 9.6,4.6 9.2,5.2 7.6,5.1 6.8,5.3 6,5.5 5.1,5.4 4,5.1 3,4.9 2.1,4.5 1.2,4.2 .2,3.9 -.7,3.4 -1.5,2.7 -2.3,2.2 -3.6,1.7 -4.3,.8 -4.8,.1 -5.3,-.7 -5.7,-1.5 -5.6,-2.2 -5.5,-2.6 -5.2,-3.1 -4.2,-3 -3.7,-3.1 -3.2,-3.2 -2.5,-3.1 -1.9,-2.8 -1.2,-2.7 -.6,-2.4 -.1,-2.1 .6,-1.9 1.2,-1.5 1.7,-1 2.1,-.6 3,-.1 3.4,.4 3.5,1 3.5,1.5 3.1,1.7 2.9,2 2.5,2 1.9,2.1 1.3,1.7 .9,1.7 .5,1.5 .1,1.2 -.4,1.1 -.7,.9 -1,.5 -1.2,.3"/>
<path d="M1066.9,206.6l35.1,12.8 35.2,13.6 35.3,14.4 35.2,15.1 84.1,39.4 82.2,43.1 79.1,46.3 75,48.8 64.3,46.3 59.7,47.4 54.5,48.1 49,48.2 41.3,45.5 35.9,44.8 30.5,43.8 25,42.4 20,41.5 14.4,39.4 9.1,37.1 3.9,34.7 -1.2,34.4 -6.7,31.1 -11.8,27.6 -16.3,23.9 -23.1,22.4 -27.7,17.7 -31.6,13.3 -34.9,8.9 -35,4.5 -37,.9 -38.3,-2.5 -39.3,-5.6 -34.3,-7.3 -34.3,-9.2 -34.3,-11.2 -33.9,-12.8 -33.5,-14.4 -32.8,-15.8 -31.8,-17.1 -30.8,-18 -31,-19.9 -29.6,-20.7 -27.8,-21.3 -26.1,-21.7 -25.9,-23.4 -23.6,-23.6 -21.2,-23.3 -18.7,-23 -17.5,-24.3 -14.3,-23.4 -11.3,-22.4 -8.1,-21.1 -5.3,-21.2 -1.6,-19.4 1.8,-17.4 5.3,-15.2 9.5,-14 13.1,-11.1 16.5,-8.4 19.4,-5.4 26.2,-2.8 29,1.1 31.2,4.7 32.4,8.1 30,10 29.9,12.3 29,14.2 27.9,15.8 22.9,14.8 21.4,15.5 19.5,16 17.4,16.1 14.5,15.3 12.4,15.1 10.2,14.6 8.1,14 6,13.7 3.8,12.7 1.5,11.6 -.5,10.6 -2.8,10.1 -5,8.5 -6.9,7 -8.8,5.3 -11.9,4.1 -13.6,2.1 -14.8,0 -15.7,-1.9 -15.7,-3.5 -15.8,-4.9 -15.7,-6.2 -15.2,-7.3 -13.1,-7.3 -12.4,-7.9 -11.5,-8.3 -10.5,-8.5 -9.4,-8.6 -8.1,-8.6 -7,-8.5 -5.6,-8.1 -4.5,-8.2 -3.1,-7.6 -1.6,-7 -.3,-6.2 1.2,-6 2.7,-4.9 4,-3.9 5.1,-2.9 7.6,-2 8.7,-.6 9.5,.9 10.1,2.1 9.9,3.2 9.8,4.1 9.4,4.8 8.9,5.5 7.2,5.2 6.5,5.3 5.5,5.4 4.7,5.4 3.6,5 2.6,4.8 1.7,4.4 .7,4 -.1,3.8 -1.1,3.1 -1.9,2.5 -2.7,1.9 -4,1.4 -4.7,.6 -5.2,-.4 -5.5,-1.1 -5.8,-1.8 -5.6,-2.4 -5.3,-2.8 -4.9,-3.2 -4,-3.1 -3.4,-3.1 -2.8,-3.1 -2.3,-3.1 -1.5,-2.8 -1,-2.5 -.3,-2.3 .2,-2 .9,-1.7 1.5,-1.3 1.9,-.8 2.3,-.4 3.3,.1 3.6,.8 3.6,1.3 3.5,1.6 3,1.9 2.7,2 2.2,2.1 1.7,2 1.1,1.7 .6,1.6 .2,1.3 -.1,1.2 -.6,1 -.9,.6 -1.2,.4"/>
<path d="M1123.9,226.3l36.1,14.5 36.1,15.3 36.1,16 35.8,16.8 80.2,40.7 77.7,43.8 74.2,46.5 69.9,48.4 60.6,46.4 55.8,47.3 50.6,47.5 45.1,47.4 38.1,45.3 32.7,44.3 27.3,43 21.8,41.6 16.9,40.6 11.3,38.5 6,36 1,33.3 -4.6,33.3 -10,29.7 -15,25.9 -19.5,22.2 -25.8,19.6 -29.9,15.2 -33.4,10.7 -36.4,6.4 -35,2.3 -36.4,-.9 -37.5,-4 -38.2,-6.8 -34.2,-8.2 -34.2,-10.2 -34,-12 -33.5,-13.6 -33.4,-15.2 -32.5,-16.6 -31.6,-17.6 -30.3,-18.7 -30.6,-20.5 -29,-21.2 -27.3,-21.7 -25.4,-22 -25.1,-23.8 -22.7,-23.8 -20.2,-23.4 -17.6,-23 -16.2,-24.2 -13,-23.2 -9.8,-22 -6.6,-20.7 -3.6,-20.6 0,-18.7 3.7,-16.5 7,-14.3 11.4,-12.8 15,-9.9 18.3,-7 21.1,-4.1 27.3,-1 29.8,2.6 31.5,6.1 32.5,9.3 29.8,11 29.5,13 28.5,14.8 27,16.3 22.1,15 20.4,15.7 18.4,15.9 16.4,16 13.6,15.2 11.5,15 9.3,14.4 7.1,13.8 5.1,13.3 2.8,12.4 .7,11.3 -1.4,10 -3.8,9.7 -6,8 -7.9,6.3 -9.7,4.7 -12.6,3.2 -14.1,1.2 -15.1,-.7 -15.9,-2.6 -15.8,-4 -15.8,-5.5 -15.5,-6.7 -15,-7.6 -12.8,-7.6 -12,-8 -11.1,-8.4 -10.1,-8.6 -8.9,-8.7 -7.7,-8.6 -6.4,-8.4 -5.1,-8 -4,-8 -2.5,-7.4 -1,-6.8 .3,-6 1.8,-5.6 3.3,-4.6 4.6,-3.5 5.7,-2.4 8.3,-1.5 9.5,0 10.2,1.5 10.5,2.9 9.9,3.6 9.7,4.5 9.1,5.2 8.4,5.6 6.8,5.3 5.9,5.4 5.1,5.3 4,5.2 3.1,5 2.1,4.6 1.2,4.2 .3,3.8 -.7,3.5 -1.5,2.8 -2.4,2.2 -3.1,1.6 -4.6,1 -5.3,0 -5.7,-.8 -5.9,-1.7 -5.7,-2.2 -5.4,-2.7 -5.1,-3.1 -4.6,-3.3 -3.5,-3.1 -3,-3.1 -2.4,-3 -1.8,-2.9 -1.1,-2.7 -.5,-2.4 .1,-2.1 .6,-1.7 1.3,-1.5 1.9,-1 2.2,-.5 2.7,0 3.4,.5 3.5,1 3.5,1.5 3.3,1.8 2.8,1.9 2.3,2 2,2 1.4,2 .9,1.6 .4,1.5 0,1.2 -.3,1.1 -.7,.8 -1.1,.6 -1.3,.2"/>
<path d="M1180.9,248.5l37.1,16.2 37.1,17.1 36.7,17.8 36.4,18.5 76.5,42 73.4,44.5 69.6,46.7 65,48.3 56.7,46.5 51.8,47 46.5,47 41,46.6 34.6,44.7 29.2,43.6 23.7,42.2 18.4,40.4 13.3,39.7 7.9,37.3 2.6,34.6 -2.4,31.7 -8.3,32 -13.8,28.1 -18.8,24 -23.2,19.9 -28.6,16.6 -32.2,12.1 -35.4,7.8 -37.9,3.7 -34.9,0 -35.9,-2.9 -36.8,-5.7 -37.1,-8.1 -34.2,-9.6 -34,-11.4 -33.7,-13 -33.1,-14.5 -33.1,-16.2 -32.2,-17.5 -31,-18.4 -29.7,-19.4 -30,-21.2 -28.2,-21.8 -26.4,-22.2 -24.3,-22.4 -24,-24.1 -21.4,-24 -18.8,-23.5 -16.1,-22.9 -14.4,-23.9 -11.1,-22.8 -7.8,-21.5 -4.6,-19.9 -1.3,-19.7 2.4,-17.6 6,-15.2 9.4,-12.9 14,-11.2 17.5,-8.2 20.6,-5.1 23.3,-2.1 28.3,1.1 30.4,4.5 31.5,7.8 32.2,10.7 29.5,12.1 28.8,14 27.6,15.6 25.9,16.7 20.8,15.3 19.1,15.7 17.1,15.9 14.9,15.8 12.4,15.1 10.2,14.6 8,14.1 5.9,13.4 3.8,12.9 1.5,11.9 -.6,10.7 -2.7,9.4 -5.2,8.9 -7.4,7.2 -9.2,5.4 -10.9,3.7 -13.4,2.1 -14.7,0 -15.5,-1.7 -16,-3.5 -15.4,-4.7 -15.3,-6 -14.8,-7 -14.3,-7.8 -12.4,-7.8 -11.5,-8.2 -10.6,-8.5 -9.5,-8.6 -8.4,-8.7 -7.1,-8.5 -5.8,-8.3 -4.5,-7.9 -3.3,-7.9 -1.8,-7.1 -.4,-6.5 1,-5.6 2.5,-5.3 4,-4.1 5.3,-3.1 6.3,-1.9 8.8,-.8 9.6,.6 10.3,2.1 10.5,3.2 9.8,4 9.4,4.8 8.9,5.3 8.1,5.8 6.4,5.3 5.5,5.3 4.7,5.3 3.7,5.2 2.7,4.8 1.7,4.5 .8,4 -.1,3.6 -1,3.3 -2,2.7 -2.7,1.9 -3.4,1.3 -5,.7 -5.6,-.3 -5.9,-1.2 -6,-2 -5.6,-2.5 -5.3,-2.9 -4.8,-3.2 -4.3,-3.4 -3.3,-3.1 -2.7,-3 -2.1,-3 -1.5,-2.8 -.9,-2.5 -.2,-2.3 .3,-2 1,-1.5 1.5,-1.3 2.2,-.8 2.5,-.3 2.8,.2 3.4,.7 3.6,1.3 3.4,1.6 3.1,1.9 2.6,1.9 2.1,1.9 1.7,2 1.3,1.8 .7,1.6 .3,1.4 -.1,1.2 -.5,1 -.8,.8 -1.2,.4"/>
<path d="M1237.8,273.1l38.3,18.1 37.8,18.9 37.5,19.6 36.8,20.3 72.7,43.2 69.3,45.3 65,47 60.2,48 52.7,46.5 47.6,46.7 42.2,46.3 36.7,45.7 30.8,44.1 25.3,42.8 19.9,41 14.5,39.1 9.6,38.5 4.1,35.9 -1.1,33 -6,29.9 -12.7,30.5 -18.1,26.1 -23.2,21.8 -27.6,17.3 -31.4,13 -34.7,8.7 -37.2,4.6 -39.4,.6 -34.8,-2.5 -35.5,-5 -36,-7.5 -36.2,-9.7 -34.1,-11.1 -33.7,-12.7 -33.3,-14.3 -32.5,-15.6 -32.7,-17.5 -31.6,-18.5 -30.2,-19.4 -28.9,-20.1 -29,-22.1 -27.1,-22.5 -25.1,-22.7 -23,-22.7 -22.3,-24.4 -19.6,-24 -16.8,-23.5 -14.1,-22.6 -11.9,-23.4 -8.6,-22.1 -5.2,-20.6 -1.9,-18.9 1.7,-18.3 5.5,-15.9 9,-13.5 12.3,-10.9 17.3,-9.1 20.7,-5.8 23.5,-2.6 26,.5 29.4,3.7 30.7,7 31.4,9.7 31.4,12.3 28.3,13.3 27.3,14.8 25.8,16.1 23.9,17 19.3,15.4 17.4,15.7 15.3,15.6 13.1,15.5 10.8,14.8 8.6,14.4 6.4,13.5 4.2,12.8 2.2,12.3 -.1,11.2 -2.2,9.8 -4.2,8.5 -7.1,8 -9.2,6.1 -11,4.2 -12.5,2.3 -14.3,.5 -15.2,-1.4 -15.9,-3 -16,-4.7 -14.9,-5.5 -14.6,-6.5 -14,-7.4 -13.3,-8.1 -11.8,-8.1 -10.8,-8.4 -9.8,-8.5 -8.6,-8.6 -7.6,-8.7 -6.2,-8.5 -4.9,-8 -3.6,-7.7 -2.2,-7.5 -.8,-6.7 .6,-6 2,-5.1 3.6,-4.6 5.1,-3.4 6.2,-2.3 7.3,-1 9.2,.1 9.9,1.5 10.3,2.7 10.3,3.9 9.6,4.5 9.1,5.1 8.5,5.6 7.5,6 5.7,5.3 4.9,5.2 4,5.2 3,4.9 2.1,4.7 1.1,4.2 .2,3.8 -.7,3.3 -1.7,2.9 -2.5,2.2 -3.3,1.5 -3.9,.9 -5.3,0 -5.7,-.8 -5.9,-1.6 -5.9,-2.3 -5.5,-2.7 -5,-3.1 -4.6,-3.3 -4,-3.5 -2.9,-3 -2.3,-3 -1.7,-2.9 -1.1,-2.6 -.5,-2.5 .1,-2.1 .7,-1.7 1.3,-1.3 1.9,-1 2.5,-.5 2.7,0 3.1,.4 3.4,1.1 3.5,1.4 3.2,1.8 3,2 2.2,1.9 1.9,1.9 1.4,1.9 1,1.7 .5,1.5 .1,1.3 -.3,1.1 -.6,.8 -1.1,.7 -1.4,.3"/>
<path d="M1294.8,300.1l39.3,20.2 38.7,20.8 38,21.6 37.2,22.2 68.9,44.3 64.9,45.9 60.4,47.1 55.4,47.8 48.3,46.3 43.2,46.2 37.7,45.5 32.3,44.6 26.7,43.3 21.2,41.7 15.7,39.8 10.5,37.5 5.5,37.2 0,34.2 -5.1,31.1 -10,27.8 -17.2,28.2 -22.7,23.5 -27.5,18.8 -31.6,14.2 -34.1,9.5 -36.7,5.2 -38.9,1.3 -40.5,-2.4 -34.7,-4.8 -35.1,-7.1 -35.3,-9.3 -35.2,-11.2 -34,-12.7 -33.4,-14.2 -32.7,-15.6 -31.9,-16.8 -32.1,-18.6 -30.8,-19.6 -29.3,-20.3 -27.8,-21 -27.8,-22.8 -25.7,-23.1 -23.5,-23.1 -21.2,-23 -20.3,-24.6 -17.5,-23.9 -14.5,-23.1 -11.5,-22.2 -9.2,-22.7 -5.6,-21.1 -2.1,-19.3 1.2,-17.4 5.2,-16.6 8.8,-14 12.4,-11.3 15.6,-8.7 21,-6.4 24.2,-3 26.9,.4 28.9,3.6 30,6.6 30.8,9.4 30.7,11.9 30.3,13.9 26.1,14.1 24.8,15.2 23.2,16.1 21.2,16.7 17.5,15.5 15.4,15.5 13.4,15.4 11.2,14.9 9,14.5 6.7,13.8 4.6,13 2.4,12 .3,11.5 -2,10.3 -4,8.8 -6,7.4 -9.3,6.8 -11.4,4.7 -13.2,2.6 -14.4,.6 -15.2,-1.3 -15.7,-3 -16,-4.6 -15.9,-5.8 -14.2,-6.4 -13.7,-7.2 -13,-7.9 -12.2,-8.3 -10.9,-8.4 -9.8,-8.6 -8.6,-8.6 -7.5,-8.5 -6.4,-8.6 -5,-8.2 -3.6,-7.7 -2.2,-7.1 -.9,-7 .6,-6.1 2,-5.2 3.3,-4.3 5.2,-3.6 6.5,-2.4 7.6,-1.1 8.4,.1 9.7,1.4 10.1,2.6 10.2,3.7 9.9,4.6 8.7,4.8 8.1,5.3 7.4,5.6 6.4,5.7 5,5.3 4.2,5.1 3.1,5 2.3,4.6 1.3,4.4 .4,3.9 -.6,3.4 -1.3,2.9 -2.5,2.4 -3.3,1.8 -4,.9 -4.5,.2 -5.5,-.6 -5.8,-1.4 -5.8,-2 -5.7,-2.7 -5,-2.8 -4.5,-3.2 -4,-3.2 -3.4,-3.4 -2.6,-3 -1.9,-2.9 -1.4,-2.7 -.7,-2.5 -.1,-2.3 .5,-1.9 1,-1.5 1.6,-1.1 2.3,-.7 2.8,-.2 3,.3 3.2,.8 3.5,1.3 3.3,1.7 3,1.9 2.7,2 2,1.9 1.5,1.9 1.2,1.7 .7,1.6 .2,1.4 -.1,1.2 -.6,1 -.8,.6 -1.3,.5"/>
<path d="M1351.8,329.6l40.3,22.2 39.5,23.1 38.5,23.7 37.5,24.2 64.7,45.2 60.3,46.3 55.6,47.2 50.4,47.4 43.8,46 38.5,45.5 33.1,44.6 27.5,43.3 22.3,42.3 16.8,40.4 11.4,38.2 6.2,35.8 1,35.5 -4.4,32.3 -9.5,28.9 -14.2,25.5 -21.2,24.4 -26.1,19.8 -30.3,15.3 -34,10.7 -35.4,6.3 -37.6,2.3 -39.3,-1.3 -40.5,-4.8 -34.4,-6.5 -34.7,-8.7 -34.7,-10.6 -34.4,-12.4 -33.8,-13.9 -33.1,-15.3 -32.2,-16.6 -31.2,-17.8 -31.5,-19.5 -30.1,-20.5 -28.4,-21 -26.7,-21.5 -26.7,-23.4 -24.4,-23.5 -22.1,-23.4 -19.6,-23.1 -18.5,-24.5 -15.5,-23.7 -12.4,-22.7 -9.3,-21.6 -6.7,-21.9 -3,-20 .5,-18.2 4,-16 8,-15 11.7,-12.2 15.2,-9.4 18.2,-6.5 24.4,-4.1 27.4,-.4 29.8,3.2 31.3,6.5 30.2,8.9 30.4,11.3 29.9,13.5 28.9,15.3 24.2,14.6 22.7,15.5 20.8,16.1 18.9,16.4 15.6,15.5 13.6,15.3 11.5,15 9.3,14.4 7.1,14.1 4.9,13.2 2.7,12.2 .6,11.1 -1.6,10.7 -3.9,9.3 -5.9,7.7 -7.7,6.2 -11.1,5.2 -13.1,3.1 -14.5,.9 -15.6,-1 -15.6,-2.8 -15.9,-4.3 -15.8,-5.6 -15.6,-6.9 -13.6,-7 -12.9,-7.7 -12.1,-8.2 -11.1,-8.5 -10,-8.6 -8.8,-8.6 -7.6,-8.6 -6.4,-8.3 -5.2,-8.4 -3.8,-7.8 -2.4,-7.4 -1,-6.6 .5,-6.4 1.9,-5.4 3.2,-4.4 4.5,-3.4 6.7,-2.7 7.9,-1.3 8.8,.1 9.5,1.3 9.9,2.6 10.1,3.5 9.8,4.5 9.3,5.1 7.9,5.1 7.1,5.4 6.3,5.5 5.4,5.6 4.2,5.1 3.2,5 2.3,4.7 1.4,4.3 .5,4 -.5,3.5 -1.3,2.9 -2.2,2.3 -3.4,1.9 -4.1,1.1 -4.7,.2 -5.1,-.5 -5.7,-1.3 -5.8,-2 -5.6,-2.6 -5.3,-3 -4.4,-3 -4,-3.1 -3.3,-3.2 -2.8,-3.2 -2,-2.9 -1.5,-2.8 -.8,-2.5 -.2,-2.2 .5,-2 1,-1.6 1.5,-1.2 2,-.7 2.9,-.3 3.2,.3 3.4,.8 3.5,1.3 3.3,1.6 3,1.9 2.6,2.1 2.2,2.1 1.5,1.8 1.1,1.7 .7,1.6 .2,1.4 -.2,1.2 -.5,.9 -.9,.7 -1.1,.4"/>
<path d="M1408.8,361.4l38.7,23.1 37.8,23.8 36.7,24.3 35.6,24.7 60.9,45.7 56.3,46.6 51.3,47 46,47 39.8,45.5 34.3,44.8 28.9,43.6 23.4,42.2 18.4,41.2 12.8,39.1 7.5,36.7 2.3,34 -3,34 -8.5,30.5 -13.5,26.9 -18.2,23.1 -24.6,21 -28.9,16.5 -32.7,12 -35.9,7.6 -35,3.4 -36.8,-.1 -37.9,-3.2 -38.8,-6.2 -34.3,-7.8 -34.4,-9.7 -34.2,-11.6 -33.8,-13.2 -33.6,-14.8 -32.7,-16.2 -31.9,-17.4 -30.6,-18.3 -31,-20.3 -29.4,-21 -27.7,-21.6 -25.9,-21.9 -25.7,-23.7 -23.3,-23.7 -20.9,-23.5 -18.4,-23.1 -17,-24.4 -13.8,-23.4 -10.7,-22.4 -7.6,-21 -4.6,-21.1 -1,-19.2 2.6,-17.1 6,-14.9 10.3,-13.6 13.9,-10.7 17.3,-7.9 20.2,-4.9 26.9,-2.1 29.6,1.7 31.6,5.4 32.7,8.7 30.1,10.5 29.9,12.6 29,14.6 27.6,16 22.7,15 21.1,15.7 19.1,16 17.1,16.2 14.2,15.3 12.1,15.1 9.9,14.6 7.8,14 5.6,13.6 3.4,12.7 1.2,11.5 -.8,10.4 -3.2,10 -5.4,8.4 -7.4,6.8 -9.1,5.1 -12.3,3.8 -13.8,1.7 -15,-.3 -15.9,-2.1 -15.8,-3.7 -15.9,-5.2 -15.6,-6.4 -15.3,-7.4 -13,-7.4 -12.3,-8 -11.5,-8.4 -10.4,-8.6 -9.2,-8.6 -8.1,-8.7 -6.8,-8.4 -5.5,-8.2 -4.3,-8.2 -2.9,-7.6 -1.5,-6.9 -.1,-6.2 1.4,-5.9 2.9,-4.8 4.2,-3.9 5.4,-2.7 7.8,-1.9 8.9,-.4 9.8,1.1 10.3,2.3 9.9,3.4 9.9,4.2 9.4,5 8.7,5.5 7.2,5.2 6.3,5.4 5.5,5.4 4.5,5.4 3.5,5 2.5,4.8 1.5,4.4 .7,3.9 -.3,3.7 -1.2,3.1 -2.1,2.5 -2.8,1.8 -4.1,1.3 -4.9,.4 -5.4,-.4 -5.6,-1.3 -5.8,-1.9 -5.6,-2.5 -5.3,-2.9 -4.9,-3.3 -3.8,-3 -3.4,-3.2 -2.7,-3.1 -2.2,-3 -1.5,-2.8 -.8,-2.5 -.3,-2.3 .4,-1.9 1,-1.7 1.5,-1.2 2,-.8 2.4,-.3 3.4,.2 3.5,.8 3.6,1.3 3.5,1.8 3,1.8 2.7,2.1 2.1,2.1 1.7,2 1,1.7 .6,1.5 .2,1.4 -.2,1.1 -.6,1 -.9,.6 -1.3,.4"/>
<path d="M1465.7,395.8l34.8,22.3 33.7,22.8 32.8,23.1 31.6,23.6 57.6,46 52.7,46.7 47.7,46.8 42.3,46.4 36.2,45.1 30.7,44.1 25.3,42.7 19.9,41 14.9,40.2 9.4,37.9 4,35.3 -1,32.5 -6.7,32.6 -12.1,28.9 -17.2,24.9 -21.7,21 -27.4,17.9 -31.4,13.4 -34.6,9.2 -37.3,4.9 -35,.9 -36.2,-2 -37.1,-4.9 -37.6,-7.6 -34.3,-9 -34.1,-10.8 -33.9,-12.6 -33.3,-14.1 -33.3,-15.8 -32.4,-17 -31.4,-18.1 -30,-19.1 -30.4,-20.9 -28.7,-21.6 -26.8,-22 -24.9,-22.3 -24.6,-24 -22.1,-23.9 -19.5,-23.6 -17,-23 -15.2,-24.2 -12.1,-23 -8.9,-21.8 -5.6,-20.4 -2.4,-20.2 1.2,-18.2 4.9,-15.9 8.3,-13.6 12.7,-12 16.3,-9.1 19.5,-6.1 22.3,-3.1 27.9,.1 30.2,3.6 31.7,7 32.4,10 29.8,11.6 29.2,13.6 28.1,15.2 26.6,16.6 21.5,15.2 19.8,15.7 17.8,15.9 15.7,16 13.1,15.2 10.9,14.9 8.7,14.3 6.5,13.6 4.5,13.2 2.2,12.1 0,11.1 -2,9.7 -4.5,9.4 -6.7,7.6 -8.5,6 -10.3,4.2 -13,2.6 -14.4,.7 -15.4,-1.2 -16,-3 -15.6,-4.4 -15.6,-5.7 -15.3,-6.8 -14.6,-7.8 -12.7,-7.7 -11.8,-8.1 -10.9,-8.5 -9.8,-8.6 -8.7,-8.7 -7.5,-8.6 -6.2,-8.4 -4.9,-8 -3.6,-7.9 -2.2,-7.4 -.8,-6.6 .6,-5.9 2.1,-5.5 3.6,-4.4 4.9,-3.3 6,-2.2 8.5,-1.2 9.6,.3 10.2,1.7 10.6,3 9.9,3.8 9.6,4.6 9.1,5.3 8.3,5.7 6.6,5.3 5.8,5.4 4.9,5.3 3.9,5.2 3,4.9 2,4.6 1,4.2 .1,3.7 -.8,3.4 -1.7,2.8 -2.5,2.1 -3.3,1.5 -4.8,.9 -5.4,-.1 -5.9,-1.1 -6,-1.8 -5.7,-2.3 -5.4,-2.8 -5,-3.2 -4.4,-3.3 -3.5,-3.1 -2.8,-3.1 -2.3,-3 -1.6,-2.9 -1.1,-2.6 -.4,-2.4 .3,-2 .7,-1.7 1.5,-1.4 1.9,-.9 2.4,-.4 2.7,.1 3.5,.6 3.5,1.1 3.5,1.5 3.2,1.9 2.7,1.9 2.3,2 1.8,2 1.4,1.9 .8,1.6 .4,1.5 0,1.2 -.4,1 -.8,.9 -1.1,.5"/>
<path d="M1522.7,432.7l31,21.5 30,21.8 28.9,22.1 28,22.3 54,46.4 49.1,46.7 43.7,46.5 38.3,45.9 32.3,44.5 26.9,43.2 21.4,41.6 16,39.7 11.1,39.1 5.6,36.4 .4,33.7 -4.7,30.7 -10.9,31.1 -16.4,27 -21.5,22.7 -25.8,18.4 -30.4,14.4 -33.8,10.1 -36.6,5.9 -38.8,1.8 -34.9,-1.5 -35.7,-4.2 -36.3,-6.7 -36.6,-9.1 -34.2,-10.4 -33.9,-12.2 -33.5,-13.8 -32.8,-15.2 -32.9,-16.9 -31.8,-18.1 -30.7,-19.1 -29.3,-19.8 -29.4,-21.8 -27.7,-22.2 -25.7,-22.5 -23.6,-22.7 -23,-24.3 -20.5,-24.1 -17.7,-23.5 -15,-22.8 -13,-23.7 -9.7,-22.5 -6.4,-21 -3,-19.3 .4,-19 4.1,-16.7 7.7,-14.3 11.1,-11.8 15.9,-10 19.3,-6.9 22.3,-3.7 24.9,-.7 29,2.7 30.7,5.9 31.5,8.9 31.8,11.6 29.3,13 28.3,14.7 26.9,16.1 25,17.1 19.9,15.4 18.1,15.7 16,15.8 13.9,15.6 11.4,15 9.3,14.5 7,13.8 4.9,13 2.7,12.7 .6,11.4 -1.6,10.2 -3.6,8.9 -6.4,8.4 -8.4,6.5 -10.4,4.7 -11.8,2.9 -14,1.1 -15.1,-.8 -15.7,-2.6 -16.1,-4.2 -15.1,-5.2 -14.9,-6.3 -14.4,-7.2 -13.7,-8 -12,-8 -11.2,-8.3 -10.1,-8.6 -9,-8.6 -7.9,-8.7 -6.7,-8.5 -5.3,-8.2 -3.9,-7.8 -2.7,-7.6 -1.3,-7 .2,-6.2 1.6,-5.3 3.2,-4.9 4.6,-3.8 5.8,-2.5 6.9,-1.5 9,-.3 9.9,1.2 10.3,2.4 10.4,3.6 9.7,4.3 9.3,5 8.6,5.5 7.8,5.9 6.1,5.3 5.2,5.3 4.3,5.3 3.3,5 2.3,4.7 1.4,4.4 .5,3.9 -.4,3.4 -1.4,3.1 -2.3,2.5 -3.1,1.7 -3.7,1 -5.1,.3 -5.7,-.6 -5.9,-1.4 -6,-2.1 -5.5,-2.6 -5.2,-3 -4.7,-3.3 -4.1,-3.5 -3.1,-3.1 -2.5,-3 -1.9,-2.9 -1.3,-2.7 -.7,-2.5 0,-2.2 .5,-1.8 1.1,-1.5 1.8,-1.1 2.3,-.7 2.7,-.1 2.9,.3 3.5,.9 3.5,1.4 3.3,1.7 3,1.9 2.4,1.9 2,2 1.6,1.9 1.1,1.8 .6,1.5 .2,1.4 -.2,1.1 -.5,.9 -1,.7 -1.3,.4"/>
<path d="M1579.7,472.3l27.3,20.7 26.4,20.9 25.5,21 24.5,21.1 50.2,46.7 45,46.6 39.6,46.2 34,45.2 28.1,43.7 22.7,42.2 17.2,40.3 11.9,38.2 6.9,37.7 1.5,34.8 -3.8,31.9 -8.6,28.6 -15.9,29.5 -21.6,24.7 -26.5,20.1 -30.9,15.3 -33.4,10.5 -36.3,6.2 -38.5,2.3 -40.3,-1.6 -34.8,-4.2 -35.3,-6.5 -35.5,-8.8 -35.6,-10.8 -34,-12.2 -33.6,-13.8 -32.9,-15.2 -32.1,-16.5 -32.4,-18.3 -31.1,-19.3 -29.6,-20.1 -28.2,-20.8 -28.2,-22.6 -26.2,-23 -24.1,-23 -21.8,-23 -21,-24.6 -18.2,-24 -15.2,-23.3 -12.4,-22.4 -10.1,-23 -6.5,-21.5 -3.2,-19.7 .3,-18 4.1,-17.1 7.8,-14.7 11.3,-12 14.6,-9.4 19.9,-7.3 23.2,-3.9 25.8,-.6 28.1,2.6 29.9,5.8 30.9,8.6 31.1,11.2 30.7,13.5 26.9,13.9 25.7,15.1 24,16.1 22.1,16.8 18.1,15.5 16.2,15.7 14,15.5 11.9,15.1 9.6,14.7 7.4,14 5.2,13.2 3.1,12.3 .9,11.9 -1.3,10.6 -3.5,9.2 -5.3,7.7 -8.6,7.3 -10.6,5.2 -12.4,3.2 -13.8,1.2 -14.9,-.7 -15.6,-2.4 -16,-4 -16,-5.5 -14.5,-6.1 -14.1,-7 -13.4,-7.7 -12.6,-8.2 -11.2,-8.3 -10.2,-8.6 -9.1,-8.6 -7.9,-8.6 -6.9,-8.6 -5.5,-8.3 -4.1,-7.9 -2.7,-7.4 -1.4,-7.2 0,-6.3 1.5,-5.6 2.8,-4.6 4.6,-4 6,-2.8 7.1,-1.5 8,-.4 9.6,.9 10.1,2.2 10.2,3.4 10.1,4.3 9.1,4.7 8.5,5.3 7.8,5.6 6.9,5.8 5.3,5.3 4.5,5.2 3.5,5.1 2.5,4.7 1.7,4.5 .7,4.1 -.3,3.6 -1.1,3 -2.1,2.7 -3,1.9 -3.7,1.2 -4.3,.5 -5.4,-.3 -5.8,-1.2 -5.9,-1.9 -5.8,-2.5 -5.2,-2.8 -4.7,-3.1 -4.3,-3.3 -3.6,-3.4 -2.8,-3 -2.1,-3 -1.5,-2.8 -.9,-2.5 -.3,-2.4 .3,-2 .9,-1.6 1.4,-1.2 2.2,-.9 2.6,-.3 3,.1 3.1,.7 3.5,1.2 3.3,1.5 3.2,1.9 2.8,2 2.1,1.9 1.7,1.9 1.3,1.8 .8,1.7 .4,1.4 0,1.3 -.4,1 -.8,.8 -1.2,.5"/>
<path d="M1636.7,514.9l23.8,19.8 23,19.8 22.1,20 21.2,19.9 46.1,46.9 40.7,46.5 35,45.7 29.4,44.5 23.6,42.7 18.1,40.9 12.7,38.8 7.4,36.5 2.4,36.2 -3.2,33 -8.2,29.7 -13.1,26.2 -20.1,25.7 -25.3,21 -29.6,16.3 -33.4,11.9 -35.6,7.2 -38,3.2 -39.9,-.6 -41.2,-4.3 -34.6,-6.2 -35,-8.3 -35,-10.3 -34.7,-12.2 -33.9,-13.6 -33.3,-15.2 -32.5,-16.4 -31.4,-17.5 -31.8,-19.4 -30.3,-20.3 -28.8,-21 -27.1,-21.4 -27.1,-23.3 -24.9,-23.5 -22.5,-23.4 -20.2,-23.2 -19.1,-24.6 -16,-23.9 -13.1,-23 -10,-21.8 -7.4,-22.2 -3.7,-20.5 -.3,-18.5 3.2,-16.6 7.3,-15.4 11,-12.8 14.4,-10 17.6,-7.2 23.5,-4.8 26.6,-1.1 29,2.3 30.7,5.7 30.4,8.3 30.7,10.9 30.3,13.1 29.5,14.9 24.9,14.6 23.4,15.5 21.7,16.2 19.6,16.5 16.3,15.6 14.2,15.4 12.1,15.2 9.9,14.7 7.8,14.2 5.5,13.5 3.3,12.5 1.1,11.4 -1,11.1 -3.3,9.6 -5.3,8.2 -7.1,6.5 -10.8,5.9 -12.8,3.6 -14.3,1.5 -15.5,-.7 -15.5,-2.3 -16,-4 -16,-5.4 -15.7,-6.6 -13.8,-6.9 -13.2,-7.5 -12.4,-8.2 -11.5,-8.5 -10.3,-8.5 -9.2,-8.7 -7.9,-8.6 -6.7,-8.5 -5.6,-8.4 -4.2,-8 -2.8,-7.5 -1.3,-6.9 0,-6.5 1.5,-5.7 2.9,-4.7 4.1,-3.7 6.3,-3 7.5,-1.6 8.4,-.3 9.2,.9 10,2.2 10.1,3.3 10,4.3 9.6,4.9 8.1,5.1 7.5,5.4 6.7,5.6 5.7,5.6 4.5,5.2 3.6,5.1 2.6,4.7 1.7,4.5 .8,4.2 -.2,3.6 -1.1,3.2 -1.9,2.5 -3.1,2.1 -3.8,1.3 -4.5,.5 -4.9,-.3 -5.7,-1.1 -5.8,-1.8 -5.7,-2.4 -5.5,-2.9 -4.7,-2.9 -4.1,-3.2 -3.7,-3.2 -3,-3.3 -2.2,-3 -1.6,-2.8 -1.1,-2.6 -.4,-2.3 .2,-2.2 .9,-1.7 1.3,-1.3 1.8,-.9 2.7,-.5 3.1,.1 3.3,.7 3.3,1.1 3.4,1.5 3.2,1.8 2.8,2 2.4,2.1 1.7,1.8 1.3,1.8 .9,1.7 .4,1.5 0,1.3 -.4,1 -.7,.8 -1,.6 -1.5,.2"/>
<path d="M1693.6,560.7l20.6,18.8 19.7,18.8 18.9,18.8 18,18.8 41.6,47.1 35.9,46.2 30.2,45.1 24.4,43.6 18.6,41.6 13.1,39.4 7.8,37 2.5,34.5 -2.8,34.4 -8.3,30.9 -13.4,27.2 -18,23.5 -24.6,21.4 -29,16.9 -32.8,12.3 -35.9,8 -35.3,3.6 -36.9,.1 -38.2,-3 -39.1,-6.1 -34.5,-7.6 -34.5,-9.6 -34.5,-11.5 -34,-13.1 -33.8,-14.8 -33,-16.2 -32.1,-17.3 -31,-18.4 -31.3,-20.2 -29.7,-21.1 -28.1,-21.6 -26.2,-22 -26.1,-23.8 -23.8,-23.9 -21.3,-23.6 -18.8,-23.3 -17.5,-24.6 -14.4,-23.8 -11.2,-22.6 -8,-21.3 -5.2,-21.5 -1.5,-19.6 2.1,-17.5 5.5,-15.4 9.9,-14 13.5,-11.2 16.8,-8.3 19.9,-5.4 26.7,-2.6 29.7,1.2 31.7,4.9 33,8.4 30.5,10.3 30.3,12.5 29.5,14.5 28.2,16.1 23.2,15.1 21.6,15.7 19.7,16.2 17.6,16.4 14.7,15.5 12.5,15.2 10.4,14.9 8.1,14.2 6.1,13.9 3.8,12.8 1.6,11.9 -.5,10.6 -2.9,10.3 -5,8.7 -7.1,7.1 -8.8,5.4 -12.1,4.2 -13.8,2.1 -15,.1 -15.9,-1.9 -15.8,-3.5 -16.1,-4.9 -15.9,-6.3 -15.4,-7.3 -13.3,-7.4 -12.6,-7.9 -11.7,-8.4 -10.7,-8.6 -9.6,-8.8 -8.4,-8.7 -7.1,-8.6 -5.8,-8.3 -4.7,-8.3 -3.2,-7.7 -1.8,-7.1 -.4,-6.5 1.1,-6.1 2.5,-5.1 3.9,-4 5.2,-3 7.4,-2.2 8.7,-.7 9.5,.7 10.1,2 10,3 10,4.1 9.7,4.8 9.1,5.4 7.4,5.3 6.7,5.4 5.9,5.5 4.9,5.5 3.7,5.1 2.9,4.9 1.8,4.6 1,4.1 0,3.9 -.9,3.3 -1.8,2.7 -2.5,2 -3.9,1.6 -4.6,.7 -5.2,-.2 -5.4,-.9 -5.8,-1.7 -5.8,-2.3 -5.5,-2.8 -5.1,-3.2 -4.1,-3.1 -3.7,-3.2 -3,-3.2 -2.5,-3.1 -1.7,-2.8 -1.2,-2.7 -.5,-2.4 .1,-2.1 .8,-1.9 1.3,-1.4 1.8,-.9 2.2,-.6 3.2,0 3.6,.6 3.7,1.2 3.5,1.6 3.2,1.8 2.8,2 2.4,2.1 1.9,2.1 1.2,1.8 .8,1.6 .4,1.4 0,1.3 -.5,1.1 -.8,.8 -1.1,.4 -1.3,.3"/>
<path d="M1750.6,609.9l17.3,17.8 16.5,17.8 15.8,17.6 15,17.6 36.6,47.2 30.8,45.9 24.8,44.4 18.9,42.4 13.2,40.2 7.6,37.7 2.3,34.9 -2.7,32.1 -8.8,32.5 -14.3,28.5 -19.5,24.3 -23.9,20.2 -29.2,16.6 -32.9,12.2 -36.1,7.8 -38.5,3.6 -35.2,-.1 -36.3,-2.9 -37.1,-5.7 -37.4,-8.2 -34.6,-9.6 -34.4,-11.5 -34,-13.1 -33.5,-14.6 -33.5,-16.3 -32.6,-17.6 -31.5,-18.6 -30.2,-19.5 -30.5,-21.5 -28.7,-22.1 -26.9,-22.4 -24.9,-22.7 -24.5,-24.5 -22,-24.3 -19.4,-23.9 -16.7,-23.3 -15,-24.4 -11.7,-23.3 -8.4,-22 -5.1,-20.4 -1.8,-20.3 1.9,-18.1 5.6,-15.8 9,-13.5 13.6,-11.8 17.3,-8.7 20.4,-5.7 23.2,-2.6 28.7,.7 30.9,4.2 32.2,7.5 32.9,10.6 30.2,12.1 29.6,14 28.4,15.7 26.7,16.9 21.6,15.6 19.7,15.9 17.8,16.2 15.6,16.1 13,15.5 10.8,15 8.6,14.5 6.3,13.7 4.3,13.3 2,12.3 -.2,11.1 -2.3,9.8 -4.8,9.3 -7,7.7 -8.9,5.8 -10.7,4.2 -13.3,2.5 -14.7,.5 -15.7,-1.4 -16.2,-3.2 -15.8,-4.5 -15.7,-5.8 -15.3,-6.9 -14.8,-7.9 -12.8,-7.8 -12,-8.2 -11,-8.6 -9.9,-8.8 -8.8,-8.8 -7.6,-8.7 -6.3,-8.5 -4.9,-8.2 -3.8,-8.1 -2.2,-7.4 -.8,-6.8 .6,-6 2.1,-5.5 3.6,-4.5 5,-3.4 6,-2.3 8.7,-1.3 9.7,.3 10.4,1.7 10.7,3 10.1,3.9 9.7,4.6 9.3,5.4 8.5,5.7 6.7,5.4 6,5.5 5,5.4 4.1,5.3 3,5 2.1,4.7 1.1,4.3 .3,3.8 -.8,3.5 -1.7,2.9 -2.5,2.2 -3.2,1.5 -4.8,1 -5.4,0 -5.9,-.9 -6,-1.8 -5.8,-2.3 -5.5,-2.7 -5.2,-3.2 -4.6,-3.4 -3.6,-3.2 -3,-3.1 -2.4,-3.1 -1.8,-2.9 -1.1,-2.7 -.5,-2.5 .1,-2.1 .6,-1.8 1.4,-1.5 1.9,-1 2.3,-.5 2.7,0 3.4,.5 3.7,1 3.5,1.5 3.4,1.9 2.8,1.9 2.4,2.1 2,2 1.5,2 .9,1.6 .4,1.6 .1,1.3 -.3,1 -.7,.9 -1.1,.6 -1.4,.3"/>
<path d="M1807.6,663.2l14.1,16.7 13.4,16.6 12.8,16.5 12,16.3 31.1,47.2 25,45.6 18.9,43.5 12.8,41.1 7.1,38.4 1.5,35.6 -3.8,32.5 -8.6,29.3 -16.1,30.3 -21.8,25.5 -26.9,20.8 -31.4,15.9 -34,11 -36.9,6.7 -39.2,2.6 -41.1,-1.3 -35.3,-3.9 -35.8,-6.3 -36.1,-8.6 -36.2,-10.7 -34.6,-12.2 -34.2,-13.7 -33.6,-15.2 -32.7,-16.5 -33.1,-18.4 -31.9,-19.4 -30.5,-20.2 -28.9,-21 -29.2,-22.9 -27.2,-23.3 -25,-23.4 -22.9,-23.4 -22.1,-25.2 -19.3,-24.6 -16.4,-24 -13.5,-23 -11.3,-23.9 -7.8,-22.4 -4.3,-20.7 -.8,-18.9 2.9,-18.2 6.8,-15.7 10.4,-13.2 13.8,-10.4 19,-8.5 22.4,-5 25.2,-1.7 27.7,1.5 30.5,4.8 31.8,7.9 32.2,10.8 32.1,13.2 28.5,14 27.4,15.3 25.8,16.6 23.8,17.4 19.3,15.9 17.4,16 15.2,16 13.1,15.8 10.7,15.2 8.4,14.6 6.1,13.9 4,12.9 1.8,12.5 -.5,11.3 -2.7,10 -4.6,8.5 -7.7,8 -9.8,6.1 -11.7,4 -13.2,2.1 -14.9,.2 -15.7,-1.6 -16.2,-3.4 -16.5,-4.9 -15.2,-5.7 -14.8,-6.8 -14.2,-7.6 -13.5,-8.3 -12,-8.3 -11,-8.6 -10,-8.8 -8.8,-8.8 -7.7,-8.9 -6.4,-8.7 -5,-8.3 -3.6,-7.9 -2.3,-7.6 -.8,-7 .6,-6.1 2.1,-5.3 3.7,-4.7 5.2,-3.5 6.4,-2.4 7.4,-1.1 9.5,.1 10.2,1.5 10.6,2.8 10.6,3.9 9.9,4.6 9.4,5.2 8.6,5.8 7.8,6.1 6,5.4 5.2,5.4 4.1,5.4 3.2,5.1 2.3,4.8 1.2,4.4 .3,3.9 -.6,3.4 -1.6,3.1 -2.5,2.4 -3.3,1.7 -3.9,.9 -5.3,.2 -5.9,-.7 -6,-1.5 -6.1,-2.3 -5.6,-2.7 -5.3,-3.1 -4.8,-3.4 -4.2,-3.6 -3.1,-3.1 -2.6,-3.1 -1.9,-3 -1.2,-2.8 -.7,-2.5 0,-2.3 .6,-1.8 1.1,-1.5 1.9,-1.2 2.3,-.6 2.8,-.1 3,.3 3.6,.9 3.6,1.4 3.4,1.8 3.1,2 2.5,1.9 2,2 1.7,2 1.1,1.8 .7,1.6 .2,1.4 -.2,1.2 -.5,1 -1,.7 -1.3,.4"/>
<path d="M1864.6,721.3l11,15.5 10.4,15.3 9.7,15.3 9.1,15 25,47.3 18.5,45 12,42.5 5.9,39.5 0,36.3 -5.6,33 -10.6,29.5 -15.5,25.9 -22.6,24.8 -27.6,20.1 -31.8,15.5 -35.4,10.8 -36.1,6.2 -38.2,2.3 -39.9,-1.2 -40.9,-4.7 -35.3,-6.4 -35.5,-8.6 -35.6,-10.6 -35.2,-12.4 -34.8,-14 -34.2,-15.4 -33.3,-16.8 -32.3,-18 -32.8,-19.9 -31.3,-20.8 -29.8,-21.5 -28.1,-22 -28.2,-24 -26,-24.3 -23.6,-24.2 -21.3,-23.9 -20.2,-25.6 -17.2,-24.9 -14.2,-23.9 -11,-22.8 -8.4,-23.4 -4.7,-21.5 -1.1,-19.7 2.5,-17.6 6.6,-16.6 10.5,-13.8 14.1,-11.1 17.4,-8.1 23.2,-5.7 26.5,-2.1 29.1,1.4 31,4.9 31.7,7.8 32.2,10.5 32,13.1 31.3,15.1 26.7,14.9 25.3,16.1 23.5,16.8 21.5,17.4 17.7,16.2 15.7,16.1 13.4,16 11.2,15.5 8.9,15 6.7,14.3 4.3,13.4 2.1,12.3 -.1,12 -2.4,10.5 -4.5,9 -6.5,7.6 -10.2,6.9 -12.4,4.7 -14.1,2.5 -15.5,.3 -15.8,-1.6 -16.4,-3.3 -16.6,-4.9 -16.6,-6.2 -14.7,-6.7 -14.1,-7.5 -13.5,-8.2 -12.5,-8.7 -11.3,-8.7 -10.2,-8.9 -9,-9 -7.8,-8.9 -6.7,-8.9 -5.2,-8.6 -3.8,-8.1 -2.4,-7.5 -1,-7.2 .5,-6.5 2,-5.5 3.3,-4.5 5.3,-3.9 6.6,-2.6 7.8,-1.3 8.7,0 10.1,1.3 10.5,2.6 10.7,3.7 10.4,4.6 9.2,5 8.7,5.5 7.8,5.8 6.9,6 5.5,5.6 4.5,5.4 3.5,5.2 2.6,4.9 1.6,4.7 .6,4.2 -.3,3.7 -1.3,3.1 -2.3,2.7 -3.1,2 -3.9,1.2 -4.5,.5 -5.7,-.4 -6,-1.2 -6.1,-2 -6,-2.6 -5.4,-2.9 -5,-3.2 -4.4,-3.4 -3.8,-3.5 -2.9,-3.2 -2.3,-3.1 -1.6,-2.9 -1,-2.7 -.4,-2.5 .3,-2.1 .8,-1.8 1.4,-1.3 2.2,-1 2.6,-.4 3,.1 3.2,.6 3.7,1.1 3.5,1.6 3.4,1.9 3,2.1 2.3,1.9 1.9,2 1.4,1.9 1,1.8 .5,1.6 .1,1.4 -.3,1.1 -.7,.9 -1.1,.6 -1.5,.3"/>
<path d="M1921.5,785.2l8,14.2 7.3,14 6.8,13.9 6.2,13.6 17.9,47.7 10.7,44.6 4,41.3 -2.6,37.6 -8.5,33.6 -14.1,29.6 -19.1,25.6 -23.6,21.5 -29.7,18.4 -33.6,13.8 -37,9.2 -39.7,5 -36.3,.8 -37.4,-2.1 -38.3,-4.9 -38.8,-7.6 -35.6,-9.1 -35.6,-11 -35.3,-12.7 -34.7,-14.3 -35,-16.1 -34.1,-17.5 -33.1,-18.6 -31.8,-19.6 -32.4,-21.6 -30.7,-22.4 -28.9,-22.9 -27.1,-23.3 -26.9,-25.3 -24.5,-25.2 -21.9,-25 -19.2,-24.6 -17.9,-25.9 -14.7,-25 -11.2,-23.8 -8,-22.4 -4.9,-22.6 -.9,-20.4 2.8,-18.3 6.5,-15.9 11,-14.4 14.9,-11.5 18.5,-8.3 21.6,-5.3 28.7,-2.3 31.8,1.8 33.9,5.7 35.3,9.2 32.4,11.2 32.2,13.5 31.3,15.6 29.9,17.2 24.6,16 22.8,16.8 20.8,17.1 18.6,17.4 15.5,16.5 13.3,16.1 11,15.8 8.7,15.1 6.5,14.7 4.1,13.7 1.8,12.6 -.4,11.4 -2.8,11 -5.2,9.3 -7.3,7.7 -9.1,5.9 -12.6,4.8 -14.3,2.5 -15.7,.3 -16.6,-1.6 -16.7,-3.4 -17,-4.9 -16.8,-6.3 -16.4,-7.5 -14.2,-7.6 -13.6,-8.2 -12.6,-8.8 -11.7,-9 -10.4,-9.2 -9.3,-9.2 -8,-9.1 -6.7,-8.9 -5.5,-8.9 -4,-8.4 -2.6,-7.8 -1,-7.1 .4,-6.8 2,-5.8 3.5,-4.8 4.7,-3.7 7,-2.9 8.4,-1.5 9.3,0 10.1,1.3 10.6,2.6 10.8,3.7 10.5,4.6 10.1,5.4 8.6,5.4 7.8,5.8 6.9,5.9 6,5.9 4.7,5.5 3.7,5.4 2.8,5.1 1.7,4.7 .8,4.4 -.2,4 -1.1,3.3 -2,2.6 -3.3,2.3 -4,1.4 -4.8,.6 -5.2,-.2 -6,-1.1 -6.2,-1.8 -6.1,-2.5 -5.8,-3 -5,-3.1 -4.6,-3.4 -3.9,-3.4 -3.3,-3.5 -2.6,-3.2 -1.9,-3 -1.2,-2.8 -.6,-2.6 0,-2.4 .7,-1.9 1.3,-1.5 1.8,-1.1 2.6,-.7 3.1,-.1 3.4,.5 3.5,.9 3.6,1.5 3.5,1.8 3.2,2.1 2.8,2.2 2,2 1.6,1.9 1.2,1.9 .7,1.7 .3,1.5 -.2,1.2 -.6,1 -.9,.8 -1.4,.4 -1.6,.2"/>
<path d="M1978.5,856.8l4.9,12.7 4.3,12.6 3.9,12.4 3.3,12.1 9,49 .7,44.7 -6.9,40.1 -14,35.3 -19.9,29.6 -25.5,24.7 -30.4,19.9 -34.6,15 -37.4,10.1 -40.3,5.8 -42.4,1.4 -44.1,-2.5 -36.8,-4.8 -37.1,-7.2 -37.4,-9.4 -37.3,-11.4 -36.2,-12.9 -35.8,-14.6 -35.1,-16 -34.3,-17.3 -34.9,-19.4 -33.6,-20.5 -32.2,-21.3 -30.7,-22.1 -31.2,-24.2 -29.1,-24.7 -26.9,-24.9 -24.7,-24.9 -24.2,-26.9 -21.3,-26.4 -18.3,-25.7 -15.2,-24.9 -13.2,-25.9 -9.5,-24.5 -5.7,-22.7 -2.1,-20.9 1.8,-20.2 5.9,-17.7 9.8,-15 13.6,-12.2 18.8,-10 22.5,-6.6 25.7,-3.1 28.4,.2 32.9,4 34.6,7.4 35.4,10.7 35.5,13.7 32.2,14.7 31,16.6 29.4,18 27.3,19 21.8,17.1 19.7,17.4 17.5,17.4 15.1,17.3 12.5,16.5 10.1,16 7.8,15.3 5.3,14.4 3.2,14 .7,12.7 -1.7,11.4 -3.8,9.9 -6.7,9.5 -9.2,7.5 -11.1,5.5 -12.8,3.5 -15.2,1.6 -16.3,-.4 -17.2,-2.4 -17.6,-4.1 -16.5,-5.3 -16.4,-6.6 -16,-7.5 -15.3,-8.5 -13.6,-8.5 -12.7,-9 -11.7,-9.3 -10.5,-9.4 -9.5,-9.6 -8.1,-9.5 -6.7,-9.2 -5.3,-8.8 -4,-8.8 -2.4,-8.1 -.9,-7.3 .6,-6.6 2.3,-6.1 3.9,-4.9 5.3,-3.8 6.5,-2.5 9.3,-1.6 10.5,.2 11.3,1.7 11.7,3.1 10.9,4 10.8,5 10.2,5.7 9.4,6.2 7.6,5.8 6.7,5.9 5.8,6 4.8,5.8 3.6,5.5 2.6,5.2 1.6,4.8 .6,4.4 -.4,4 -1.4,3.4 -2.3,2.7 -3.1,2 -4.7,1.5 -5.4,.5 -6,-.5 -6.3,-1.4 -6.3,-2 -6.2,-2.7 -5.9,-3.2 -5.4,-3.6 -4.3,-3.3 -3.9,-3.5 -3.1,-3.4 -2.6,-3.4 -1.8,-3.1 -1.1,-2.9 -.5,-2.6 .1,-2.3 .9,-2 1.4,-1.5 2,-1.1 2.5,-.5 3.6,0 3.9,.6 4,1.3 4,1.7 3.5,2 3.1,2.2 2.6,2.3 2.2,2.3 1.4,1.9 1,1.8 .5,1.7 0,1.4 -.3,1.2 -.8,1 -1.1,.6 -1.4,.3 -2,0"/>
<path d="M2035.5,939.7l1.7,11.1 1.2,10.9 .9,10.6 .4,10.5 -2.7,43.8 -10.1,39.1 -16.9,34.2 -23,29.2 -28.4,24.1 -33.2,19.1 -37.2,14.2 -40.7,9.3 -37.9,4.4 -39.7,.9 -40.9,-2.3 -41.9,-5.4 -37.1,-7.1 -37.4,-9.2 -37.3,-11.2 -37,-12.9 -37.2,-14.8 -36.6,-16.3 -35.8,-17.7 -34.8,-18.9 -35.6,-21.2 -34.3,-22.1 -32.6,-22.9 -31,-23.5 -31.6,-26 -29.3,-26.2 -26.9,-26.3 -24.5,-26.2 -24,-28.3 -20.8,-27.6 -17.6,-26.8 -14.4,-25.8 -12,-26.8 -8,-25 -4.1,-23.1 -.2,-21 4.1,-20.2 8.4,-17.3 12.5,-14.4 16.4,-11.3 21.9,-8.9 25.7,-5.1 29,-1.5 31.6,2.1 35.3,5.9 36.7,9.4 37.2,12.6 37,15.5 32.6,16 31.3,17.6 29.5,19 27.3,19.8 22,18 19.8,18.3 17.5,18.2 15,17.9 12.4,17.3 9.9,16.6 7.4,15.8 4.9,14.9 2.6,14.4 .1,13.1 -2.4,11.6 -4.6,10.1 -7.8,9.7 -10.2,7.5 -12.4,5.4 -14.1,3.3 -16.1,1.2 -17.3,-.9 -18,-2.8 -18.4,-4.6 -17.1,-5.7 -17,-7 -16.4,-7.9 -15.8,-8.8 -14.1,-9 -13.3,-9.4 -12.1,-9.7 -11,-9.8 -9.8,-10.1 -8.5,-9.9 -7.1,-9.7 -5.6,-9.3 -4.2,-9.2 -2.7,-8.5 -1,-7.8 .6,-6.9 2.3,-6.5 3.9,-5.3 5.4,-4 6.8,-2.9 9.6,-1.7 10.9,-.1 11.8,1.7 12.3,3.1 11.6,4.1 11.3,5.1 10.8,5.9 10.1,6.4 8.2,6.1 7.2,6.2 6.3,6.3 5.3,6.2 4.1,5.8 3,5.6 1.9,5.1 .9,4.7 -.1,4.4 -1.2,3.8 -2.1,3 -3,2.3 -4.5,1.8 -5.4,.9 -6,-.2 -6.3,-1.1 -6.7,-1.9 -6.5,-2.5 -6.4,-3.2 -5.9,-3.5 -4.9,-3.5 -4.3,-3.6 -3.7,-3.7 -3.1,-3.6 -2.2,-3.4 -1.6,-3.1 -.9,-2.9 -.2,-2.6 .4,-2.4 1.2,-1.8 1.7,-1.4 2.3,-.9 3.3,-.4 3.7,.2 4,.9 4,1.4 3.8,1.8 3.7,2.1 3.2,2.3 2.7,2.5 1.9,2.1 1.5,2 1,2 .5,1.7 .1,1.5 -.4,1.3 -.7,.9 -1.2,.7 -1.7,.4 -1.9,0"/>
<path d="M2092.5,1043l-1.7,9 -2.1,8.9 -2.3,8.6 -2.7,8.3 -16.8,37.2 -23.3,31.9 -29,26.8 -34.1,21.6 -38.3,16.4 -41.9,11.5 -45,6.6 -47.3,2 -39.3,-1.6 -40,-4.3 -40.6,-6.7 -40.9,-9.2 -38.8,-10.7 -38.6,-12.5 -38.3,-14.3 -37.7,-15.8 -38.7,-18 -37.8,-19.4 -36.6,-20.6 -35.5,-21.6 -36.6,-24.2 -35,-25 -33,-25.6 -31.2,-26 -31.7,-28.8 -29.1,-28.8 -26.5,-28.6 -23.7,-28.3 -22.8,-30.4 -19.3,-29.6 -15.7,-28.3 -12.1,-27 -9,-27.6 -4.6,-25.5 -.2,-23.2 4.1,-20.6 9,-19 13.6,-15.8 17.9,-12.5 22,-9 28.2,-5.9 32.1,-1.7 35,2.3 37.4,6.1 39,9.8 39.7,13.2 39.7,16.2 38.7,18.7 32.6,18.2 31,19.4 28.9,20.5 26.4,21.1 21.7,19.5 19.3,19.5 16.8,19.3 14.1,18.9 11.5,18.3 8.7,17.4 6.2,16.4 3.5,15.3 1,14.9 -1.7,13.4 -4.2,11.7 -6.5,9.9 -10.5,9.6 -13,7 -15.2,4.6 -17,2.1 -18.1,-.1 -19,-2.3 -19.5,-4.1 -19.8,-5.9 -17.8,-6.7 -17.5,-7.9 -17,-8.8 -16.1,-9.6 -14.7,-9.8 -13.7,-10.2 -12.6,-10.5 -11.2,-10.6 -10.2,-10.8 -8.6,-10.6 -7.2,-10.4 -5.5,-9.8 -4.2,-9.8 -2.3,-9.1 -.7,-8.2 1,-7.2 2.8,-6.8 4.6,-5.5 6.2,-4.1 7.6,-2.8 10.6,-1.7 11.9,.3 12.7,1.9 13.2,3.5 12.5,4.5 12.1,5.5 11.7,6.3 10.9,7 8.7,6.5 7.9,6.8 6.8,6.7 5.8,6.7 4.4,6.3 3.4,6 2.2,5.6 1.1,5.2 .1,4.8 -1.1,4.1 -2.2,3.4 -3,2.7 -4.7,2.1 -5.5,1.1 -6.3,.1 -6.7,-.9 -7.1,-1.8 -7.1,-2.6 -6.9,-3.2 -6.6,-3.7 -5.5,-3.6 -4.9,-3.9 -4.3,-4 -3.6,-3.9 -2.8,-3.7 -2,-3.5 -1.4,-3.3 -.6,-2.9 .1,-2.8 .9,-2.2 1.5,-1.8 2.1,-1.3 3.1,-.8 3.6,-.1 4,.5 4.1,1 4.3,1.7 4.1,2 3.8,2.4 3.4,2.5 2.6,2.4 2,2.3 1.6,2.2 1,2.1 .6,1.8 0,1.7 -.4,1.3 -.9,1 -1.3,.8 -1.7,.4 -2,0 -2.2,-.4"/>
<path d="M2135.9,1160.9l-4.9,6.7 -5.1,6.5 -5.4,6.2 -5.6,6.1 -26.5,23.9 -30.1,20.1 -33.4,16.4 -36.1,12.7 -38.8,9.2 -40.8,5.7 -42.5,2.3 -43.8,-.9 -39.9,-3.4 -40.5,-5.7 -40.9,-7.9 -40.9,-10 -40.7,-11.8 -40.5,-13.7 -40,-15.3 -39.5,-16.8 -41.1,-19.3 -40.1,-20.7 -38.9,-21.8 -37.8,-23 -39.5,-25.9 -37.7,-26.8 -35.9,-27.4 -33.9,-27.9 -35,-31.1 -32.4,-31.3 -29.7,-31.1 -26.8,-30.8 -26.5,-33.8 -22.9,-32.8 -19,-31.6 -15.2,-30.2 -12.4,-31.6 -7.5,-29.3 -2.8,-26.8 1.9,-24.2 7.3,-22.7 12.4,-19.2 17.4,-15.6 22,-11.8 28.2,-8.5 32.5,-4.2 36.1,.1 39.1,4.2 44.4,8.9 45.9,13.1 46.4,16.9 45.8,20.3 39,20 37.2,21.8 35,23.2 32.3,24.2 25.8,21.7 23.2,21.9 20.6,21.8 17.6,21.5 14.6,20.6 11.6,20 8.8,19 5.9,17.8 3.3,17.4 .3,15.9 -2.5,14.2 -5.1,12.5 -8.9,12.1 -11.7,9.6 -14.1,7.1 -16.3,4.7 -18.6,2.3 -20,0 -21,-2.4 -21.6,-4.5 -20.1,-5.8 -20,-7.2 -19.7,-8.5 -19.1,-9.6 -17.4,-10 -16.5,-10.6 -15.4,-11.1 -14.3,-11.4 -13.2,-11.8 -11.7,-11.9 -10.2,-11.7 -8.6,-11.4 -7.4,-11.6 -5.4,-11 -3.7,-10.2 -1.8,-9.5 -.1,-9.1 1.9,-8 3.8,-6.7 5.4,-5.4 8.1,-4.6 9.9,-2.8 11.2,-1 12.4,.6 13.6,2.3 14,3.7 14.1,5.2 13.9,6.3 12.1,6.6 11.5,7.2 10.4,7.6 9.4,7.9 7.5,7.4 6.4,7.2 5.2,7.1 4,6.7 2.8,6.5 1.6,5.9 .3,5.3 -.8,4.7 -2.1,4.3 -3.2,3.4 -4.3,2.4 -5.1,1.5 -6.9,.7 -7.6,-.5 -8,-1.6 -8.1,-2.5 -7.8,-3.3 -7.4,-3.8 -6.9,-4.3 -6.3,-4.5 -5,-4.3 -4.2,-4.2 -3.6,-4.2 -2.7,-4.1 -2,-3.8 -1.2,-3.6 -.4,-3.1 .4,-2.8 1.2,-2.4 2,-1.9 2.6,-1.2 3.2,-.7 4.4,0 4.9,.8 5,1.4 5,2.1 4.4,2.4 4.1,2.7 3.5,2.8 3,2.9 2,2.5 1.6,2.4 .9,2.2 .5,2 -.1,1.7 -.6,1.5 -1,1.1 -1.4,.7 -2.1,.4 -2.5,0 -2.6,-.5 -2.6,-.9"/>
<path d="M2149.5,1260.1l-7.2,4.7 -7.4,4.5 -7.5,4.3 -7.7,4.2 -32.9,15 -35.2,11.9 -37.2,9 -38.9,6.1 -40.2,3.2 -41.5,.6 -42.3,-2.1 -43.1,-4.5 -40.9,-6.4 -41.2,-8.4 -41.3,-10.3 -41.1,-12 -42.6,-14.3 -42.2,-16 -41.6,-17.5 -40.8,-18.8 -43.3,-21.8 -42,-23.1 -40.9,-24.2 -39.5,-25.2 -41.8,-28.7 -39.9,-29.5 -37.9,-30 -35.7,-30.5 -37.5,-34.4 -34.5,-34.3 -31.6,-34.2 -28.6,-33.7 -28.5,-37.3 -24.5,-36.2 -20.3,-34.8 -16.2,-33.3 -13.1,-34.9 -7.7,-32.4 -2.3,-29.5 3,-26.4 9,-24.5 14.8,-20.6 20.4,-16.5 25.8,-12.3 31.8,-8.2 36.6,-3.7 40.5,1 43.8,5.4 51,10.9 52.8,15.7 53.1,20 52.5,23.8 43.3,22.9 41.3,24.7 38.7,26.1 35.7,27.2 28.3,24.1 25.4,24.3 22.4,24.2 19.3,23.8 15.9,22.9 12.8,22.1 9.6,21 6.5,19.8 3.7,19.4 .4,17.7 -2.7,15.9 -5.4,14 -9.6,13.6 -12.7,11 -15.4,8.3 -17.8,5.6 -20.1,3.1 -21.8,.4 -22.8,-2 -23.6,-4.3 -22,-5.8 -21.9,-7.4 -21.6,-8.8 -21.1,-10 -19.4,-10.5 -18.5,-11.3 -17.5,-11.9 -16.3,-12.3 -15.4,-12.8 -13.8,-13 -12.3,-12.9 -10.6,-12.8 -9.4,-13 -7.4,-12.5 -5.6,-11.8 -3.5,-11.1 -1.8,-10.8 .4,-9.7 2.4,-8.5 4.4,-7.1 6.9,-6.4 9,-4.5 10.6,-2.8 12.1,-1.1 14.5,.8 15.4,2.6 15.8,4.3 15.9,5.9 14.8,6.7 14.2,7.7 13.3,8.4 12.2,8.9 9.6,8.1 8.5,8.2 7.2,8.1 6,7.9 4.5,7.6 3.3,7.1 1.9,6.6 .6,5.9 -.6,5.7 -2,4.7 -3.2,3.9 -4.3,2.9 -6.4,2.3 -7.5,1 -8.3,-.3 -8.7,-1.6 -8.7,-2.4 -8.6,-3.3 -8.4,-4.1 -7.9,-4.5 -6.5,-4.5 -6,-4.7 -5.2,-4.8 -4.4,-4.7 -3.5,-4.6 -2.7,-4.4 -1.9,-4 -1,-3.8 -.2,-3.5 .7,-3 1.6,-2.4 2.2,-1.8 3.4,-1.4 4,-.6 4.6,.1 4.9,.9 5.3,1.6 5.2,2.2 5.1,2.6 4.6,3 3.6,2.8 3.2,2.9 2.6,2.9 1.9,2.8 1.3,2.5 .8,2.3 .1,2 -.3,1.7 -1,1.5 -1.5,1.1 -1.8,.6 -2.2,.2 -3,-.3 -3.2,-.8 -3.2,-1.2"/>
<path d="M2138.3,1336.8l-9.1,3.2 -9.1,3 -9.3,2.8 -9.5,2.6 -36.4,8.3 -37.9,5.7 -39.1,3.3 -40.2,1 -40.8,-1.3 -41.5,-3.4 -41.9,-5.5 -42.2,-7.6 -42.1,-9.3 -42.2,-11.1 -42,-12.7 -41.6,-14.3 -44.2,-16.9 -43.6,-18.5 -42.9,-19.8 -42,-21.1 -45,-24.6 -43.8,-25.7 -42.3,-26.7 -40.9,-27.7 -43.7,-31.7 -41.6,-32.4 -39.4,-32.9 -37.1,-33.2 -39.2,-37.8 -36,-37.5 -32.8,-37.3 -29.6,-36.6 -29.6,-40.9 -25.2,-39.5 -20.6,-37.8 -16,-36 -12.3,-37.8 -6.3,-34.8 -.2,-31.5 6,-27.8 12.8,-25 19.3,-20.5 25.5,-15.8 31.5,-11.1 37.3,-6.4 42.2,-1.3 46.2,3.5 49.5,8.2 57.8,14.5 59.1,19.6 59.2,24.1 58,28.2 45.9,25.7 43.6,27.5 40.7,28.8 37.4,29.7 29.7,26.4 26.5,26.6 23.3,26.2 19.9,25.8 16.3,24.9 12.9,24 9.6,22.7 6.2,21.4 3,20.9 -.3,19.1 -3.7,17 -6.7,15 -11.3,14.8 -14.7,11.8 -17.7,8.7 -20.2,5.8 -22.2,2.9 -23.8,.1 -24.9,-2.4 -25.6,-4.9 -23.5,-6.3 -23.4,-7.9 -23.1,-9.3 -22.6,-10.6 -21,-11.3 -20.2,-12 -19.1,-12.8 -17.9,-13.2 -16.9,-13.9 -15.5,-14 -13.8,-14.1 -12.1,-13.9 -10.8,-14.3 -8.8,-13.8 -6.8,-13.2 -4.7,-12.3 -2.8,-12.3 -.6,-11 1.7,-9.8 3.8,-8.4 6.4,-7.7 8.7,-5.8 10.6,-4 12.2,-2.1 15.3,-.3 16.6,1.9 17.4,3.9 17.6,5.6 16.7,6.8 16.2,7.9 15.3,8.9 14.3,9.6 11.4,8.8 10.3,9 8.9,9 7.6,8.9 6,8.6 4.7,8.1 3.2,7.6 1.8,7 .4,6.8 -1,5.8 -2.3,5 -3.6,4 -5.5,3.5 -6.8,2.2 -7.7,1 -8.5,-.4 -9.3,-1.5 -9.5,-2.5 -9.5,-3.6 -9.2,-4.3 -8,-4.4 -7.5,-4.9 -6.8,-5.2 -6.1,-5.3 -5,-5.1 -4.2,-5 -3.3,-4.8 -2.4,-4.6 -1.5,-4.4 -.6,-3.9 .3,-3.5 1.2,-2.9 2.2,-2.5 3.1,-1.8 3.8,-1 4.3,-.3 5.6,.5 5.9,1.3 5.9,2.1 5.8,2.7 5.2,2.9 4.6,3.2 4.1,3.4 3.4,3.4 2.5,3 1.8,2.9 1.2,2.7 .6,2.4 0,2.1 -.7,1.8 -1.1,1.5 -1.6,1 -2.5,.6 -2.8,.1 -3.1,-.4 -3.2,-.9 -3.3,-1.4 -3.2,-1.6 -2.9,-1.9 -2.5,-2 -1.8,-1.9 -1.5,-1.7 -1,-1.7 -.6,-1.6 -.2,-1.3 .2,-1.2 .6,-.8 .9,-.6 1.4,-.4"/>
<path d="M2092.5,1412.4l-14.1,1.6 -14.3,1.3 -14.3,1 -14.5,.8 -38,.6 -38.7,-1.2 -39.1,-3 -39.5,-4.7 -40.5,-6.4 -40.7,-8.1 -40.6,-9.6 -40.6,-11.1 -43.7,-13.5 -43.2,-15 -42.9,-16.4 -42.3,-17.7 -46.2,-21.1 -45.4,-22.5 -44.3,-23.7 -43.2,-24.7 -47.2,-29 -45.5,-30.1 -43.9,-30.9 -42,-31.6 -45.6,-36.5 -43,-37.1 -40.5,-37.2 -37.8,-37.3 -40.2,-42.8 -36.6,-42.3 -32.8,-41.5 -29,-40.6 -29,-45.7 -23.5,-43.7 -18,-41.4 -12.4,-38.6 -7,-40.2 .5,-36 8.2,-31.5 15.8,-26.6 23.2,-21.4 30.4,-16.1 37.3,-10.7 43.5,-5.1 48.5,.3 53,5.7 56.5,10.9 58.8,15.8 63.8,21.8 63.9,26.5 62.5,30.4 60,33.7 46,29.3 43,30.6 39.7,31.5 36,31.9 29.4,29.3 25.9,29.1 22.2,28.5 18.5,27.7 14.8,27 11.2,25.6 7.4,24.2 3.8,22.5 .3,22.2 -3.4,19.8 -6.9,17.6 -10.2,15.1 -15.5,14.5 -19.1,11.1 -22.1,7.7 -24.6,4.3 -25.5,1.2 -27,-1.6 -27.8,-4.3 -28.3,-6.7 -25.1,-7.7 -25,-9.3 -24.5,-10.7 -23.8,-11.9 -22.7,-12.6 -21.6,-13.5 -20.5,-14.1 -19.1,-14.6 -18.3,-15.4 -16.7,-15.6 -14.9,-15.5 -13,-15.3 -11.7,-15.8 -9.6,-15.3 -7.3,-14.5 -5.1,-13.7 -3,-13.5 -.5,-12.3 1.9,-10.8 4.1,-9.3 7.2,-8.6 9.5,-6.5 11.7,-4.5 13.5,-2.5 17,-.4 18.4,1.8 19.3,4.1 19.8,6.1 18.6,7.3 18.1,8.7 17.3,9.7 16.2,10.5 13.1,9.8 11.8,10 10.4,10 9,10 7.2,9.6 5.7,9.2 4.2,8.6 2.6,8.1 1.2,7.8 -.4,6.9 -1.9,5.9 -3.3,5 -5.2,4.5 -6.7,3.1 -7.8,1.8 -8.7,.5 -9.9,-.8 -10.4,-2.1 -10.6,-3.2 -10.4,-4.2 -9.4,-4.5 -8.9,-5.2 -8.3,-5.5 -7.5,-5.8 -6.3,-5.7 -5.5,-5.6 -4.5,-5.5 -3.6,-5.4 -2.7,-5.2 -1.7,-4.8 -.7,-4.3 .3,-3.8 1.3,-3.5 2.4,-2.8 3.2,-2 3.9,-1.2 5.7,-.5 6.3,.5 6.7,1.5 6.8,2.4 6.2,2.8 5.9,3.3 5.3,3.7 4.7,3.8 3.5,3.4 2.9,3.4 2.2,3.3 1.6,3 .8,2.8 .2,2.5 -.5,2.1 -1,1.7 -1.8,1.4 -2.3,.8 -2.8,.4 -3,-.2 -3.8,-.8 -3.7,-1.2 -3.7,-1.7 -3.5,-2.1 -2.8,-2 -2.4,-2.1 -2,-2.1 -1.5,-2 -1,-1.8 -.5,-1.6 0,-1.5 .3,-1.1 .7,-1 1.2,-.6 1.4,-.4 1.7,0"/>
<path d="M2035.5,1450.9l-39.9,-1 -40.3,-2.9 -40.7,-4.5 -41,-6.2 -41.2,-7.8 -41.2,-9.3 -41.1,-10.7 -41,-12.1 -43.7,-14.4 -43.3,-15.8 -42.8,-17.1 -42.2,-18.3 -47.1,-22.1 -46.1,-23.4 -45.1,-24.6 -43.9,-25.6 -48.6,-30.2 -46.9,-31.3 -45.2,-32.1 -43.3,-32.8 -47.5,-38.3 -44.8,-38.7 -42.3,-39 -39.6,-39 -42.7,-45.2 -38.9,-44.7 -35.1,-44 -31.3,-42.8 -32,-49.5 -26.4,-47.2 -20.5,-44.7 -14.6,-41.9 -9.2,-44.9 -.6,-40.2 8.2,-35 17.2,-29.4 25.1,-23 33.4,-17.1 41.2,-11 48.4,-4.9 51.7,1.2 56.3,6.6 60.1,12 62.6,17 55.6,18.8 55.8,22 55.3,25 54,27.6 52.1,29.8 49.5,31.6 46.3,33 42.7,34 35.7,31.6 32.1,31.7 28.3,31.4 24.3,30.9 20.2,29.9 16.3,28.8 12.3,27.5 8.4,25.9 4.8,25.5 .9,23.4 -2.9,21.2 -6.5,18.8 -11.6,18.9 -15.6,15.5 -19,12.1 -22.1,8.7 -24.8,5.6 -26.8,2.3 -28.3,-.7 -29.5,-3.6 -27,-5.4 -27.1,-7.4 -27.1,-9.2 -26.8,-10.7 -25.1,-11.6 -24.4,-12.7 -23.4,-13.7 -22.4,-14.4 -21.7,-15.4 -20.2,-15.9 -18.7,-16.2 -16.9,-16.2 -15.9,-17 -13.9,-16.8 -11.7,-16.3 -9.6,-15.8 -7.7,-16 -5.3,-15 -2.7,-13.8 -.3,-12.5 2.3,-12 5,-10.3 7.5,-8.4 9.8,-6.5 13.8,-5.1 16.2,-2.6 18,-.2 19.4,2.3 20,4.3 20.5,6.3 20.4,8.1 19.9,9.4 17.2,9.7 16.3,10.4 15,10.9 13.5,11.3 11.2,10.5 9.6,10.5 8,10.3 6.5,9.9 4.9,9.6 3.2,9 1.6,8.2 0,7.3 -1.7,7 -3.2,5.9 -4.7,4.7 -6,3.6 -8.6,2.6 -9.9,1.1 -10.8,-.6 -11.4,-1.9 -11.1,-3.1 -11.1,-4.2 -10.8,-5 -10.2,-5.7 -8.7,-5.6 -8,-5.9 -7.1,-6 -6.2,-6.2 -5.3,-6 -4.3,-5.8 -3.2,-5.5 -2.2,-5.2 -1.2,-5 -.1,-4.5 .9,-3.8 1.8,-3.1 3.2,-2.7 4.1,-1.8 4.9,-1 5.5,0 6.7,.9 7,1.8 7,2.6 6.7,3.2 6,3.5 5.4,3.8 4.7,3.9 4,4 3,3.5 2.3,3.5 1.6,3.2 .9,2.9 .2,2.7 -.5,2.3 -1.2,1.8 -1.7,1.4 -2.6,1 -3.1,.4 -3.5,-.2 -3.6,-.7 -4,-1.3 -3.9,-1.8 -3.7,-2.1 -3.3,-2.3 -2.6,-2.1 -2.1,-2.2 -1.7,-2.2 -1.2,-2 -.6,-1.8 -.3,-1.6 .3,-1.3 .6,-1 1.1,-.9 1.5,-.4 1.8,-.2 2,.3"/>
<path d="M1978.5,1469l-7,-.6 -7.1,-.7 -7.1,-.8 -7.1,-.8 -35.3,-4.6 -35.4,-5.8 -35.6,-7 -35.5,-8 -40.2,-10.3 -40,-11.6 -39.8,-12.8 -39.5,-13.9 -45,-17.3 -44.4,-18.7 -43.8,-19.8 -43,-21 -48.4,-25.3 -47.2,-26.6 -45.9,-27.6 -44.6,-28.6 -49.6,-33.8 -47.5,-34.6 -45.6,-35.3 -43.5,-35.9 -47.7,-41.9 -44.8,-42.1 -41.8,-42.1 -38.8,-41.8 -41.9,-48.9 -37.7,-47.9 -33.2,-46.7 -28.8,-45.1 -28.9,-52.6 -22,-49.5 -14.8,-46 -7.5,-42.2 .9,-43.1 11.3,-37 21.9,-30.4 32.6,-23.3 37.5,-14.5 45.2,-8.4 52.2,-2.3 58.3,4 62.6,9.9 66.1,15.6 68.5,21.1 69.4,26.1 68.1,30.1 66.4,34 63.6,37.1 59.7,39.5 44.9,33.3 41.4,34.1 37.4,34.4 33.4,34.4 27.7,32.3 23.7,31.8 19.7,30.8 15.5,29.6 11.8,28.9 7.6,27.2 3.6,25.3 -.2,23.2 -4.5,23 -8.6,20.2 -12.3,17.2 -15.7,14.4 -20.8,12.3 -23.9,8.8 -26.5,5.3 -28.6,2 -28.6,-1.1 -29.5,-3.8 -30.1,-6.2 -30.4,-8.6 -27,-9.4 -26.7,-10.9 -26.2,-12.2 -25.3,-13.3 -24.6,-14.4 -23.4,-15.1 -22.1,-15.8 -20.6,-16.2 -20,-17.2 -18.1,-17.4 -16.2,-17.2 -14.2,-17.1 -12.8,-17.6 -10.4,-17 -8,-16.2 -5.6,-15.2 -3.3,-15.2 -.6,-13.7 2.1,-12.2 4.6,-10.5 7.9,-9.6 10.5,-7.4 12.9,-5.2 15,-3 19,-.8 20.7,1.9 21.8,4.3 22.3,6.6 21,8 20.6,9.5 19.7,10.7 18.6,11.7 15.1,10.8 13.8,11.2 12.3,11.4 10.6,11.3 8.7,10.8 7.1,10.5 5.4,9.9 3.7,9.4 2.1,9 .4,8.2 -1.3,7.2 -2.7,6.1 -4.9,5.7 -6.4,4.3 -7.8,2.8 -8.9,1.5 -10.6,.1 -11.3,-1.3 -11.7,-2.7 -11.8,-3.9 -11,-4.6 -10.5,-5.3 -10.1,-5.9 -9.2,-6.4 -7.9,-6.1 -7,-6.3 -6.1,-6.3 -5.1,-6.2 -4.1,-6.1 -3.1,-5.7 -1.9,-5.4 -.9,-4.8 .2,-4.6 1.3,-3.9 2.4,-3.2 3.2,-2.3 4.9,-1.8 5.7,-.7 6.4,.2 6.9,1.3 7.2,2.1 7.1,2.8 6.9,3.5 6.4,3.9 5.2,3.8 4.6,4 3.9,3.9 3.1,3.9 2.3,3.5 1.6,3.4 .8,3 .1,2.7 -.6,2.4 -1.3,1.9 -1.9,1.5 -2.4,.9 -3.5,.4 -4.1,-.3 -4.2,-.9 -4.3,-1.6 -4,-1.9 -3.7,-2.2 -3.4,-2.4 -2.8,-2.5 -2.1,-2.2 -1.6,-2.2 -1.1,-2 -.6,-1.8 -.1,-1.7 .3,-1.4 .8,-1 1.1,-.8 1.7,-.5 2,0 2.3,.3"/>
<path d="M1921.5,1475.8l-3.1,-.5 -3.1,-.5 -3.2,-.5 -3.1,-.5 -15.8,-2.7 -15.7,-2.9 -15.8,-3.1 -15.7,-3.3 -37.5,-8.8 -37.5,-9.8 -37.2,-10.9 -37.1,-12 -43.3,-15.2 -42.9,-16.5 -42.4,-17.7 -41.8,-18.8 -47.8,-23.1 -46.8,-24.3 -45.7,-25.4 -44.6,-26.5 -50.1,-31.6 -48.3,-32.6 -46.6,-33.4 -44.8,-34.1 -49.5,-40.2 -46.9,-40.6 -44.3,-40.9 -41.6,-40.9 -45.6,-48 -41.7,-47.5 -37.9,-46.7 -34,-45.6 -36.1,-54.1 -30.1,-51.7 -24,-49.1 -17.5,-46 -12.5,-51.1 -2.5,-45.5 7.9,-39.6 18.7,-33.1 28.2,-25.2 38.2,-18.4 47.8,-11.2 56.6,-3.9 56.1,2.8 61.1,8.4 65,14 67.6,19.3 60.3,20.9 60.4,24.4 59.8,27.5 58.5,30.2 56.2,32.5 53.5,34.5 50,35.8 46.2,36.9 38.5,34.2 34.7,34.4 30.5,34.1 26.4,33.5 21.8,32.4 17.7,31.2 13.4,29.8 9.4,28.2 5.4,27.8 1.2,25.5 -2.8,23.2 -6.6,20.7 -12,20.8 -16.3,17.2 -20.1,13.7 -23.4,10.1 -26.1,6.6 -28.4,3.3 -30.2,0 -31.4,-3.1 -28.5,-5.1 -28.9,-7.2 -28.9,-9 -28.6,-10.8 -27,-11.8 -26.3,-13 -25.4,-14 -24.4,-14.9 -23.9,-16.1 -22.4,-16.7 -20.9,-17 -19.2,-17.2 -18.4,-18.3 -16.3,-18.1 -14.1,-17.8 -11.8,-17.2 -10.3,-17.8 -7.6,-16.7 -5,-15.8 -2.4,-14.4 .3,-14.1 3,-12.4 5.8,-10.6 8.4,-8.6 12.1,-7.4 14.8,-4.9 17,-2.3 18.8,0 21.2,2.5 22.1,4.9 22.6,7 22.5,8.9 20.4,9.7 19.6,10.9 18.4,11.8 17,12.4 13.7,11.4 12.2,11.5 10.6,11.5 8.9,11.2 7.2,10.9 5.3,10.3 3.7,9.6 1.9,8.9 .3,8.6 -1.5,7.5 -3.1,6.4 -4.6,5.2 -7.2,4.7 -8.7,3 -10,1.4 -10.9,-.1 -11.6,-1.6 -12,-2.9 -12.1,-4.1 -11.8,-5.1 -10.5,-5.3 -9.9,-5.9 -9.2,-6.4 -8.4,-6.6 -7.2,-6.4 -6.2,-6.5 -5.3,-6.4 -4.2,-6.1 -3.2,-6.1 -2,-5.6 -1,-5.1 .2,-4.5 1.3,-4.2 2.5,-3.3 3.4,-2.6 4.4,-1.6 6.3,-1 7.1,.3 7.7,1.4 7.8,2.4 7.3,3.1 7,3.6 6.5,4 5.9,4.4 4.5,3.9 3.8,4 3.1,3.9 2.3,3.7 1.6,3.5 .8,3.1 0,2.7 -.6,2.4 -1.4,2 -2.1,1.5 -2.7,.9 -3,.4 -4.2,-.3 -4.3,-.9 -4.5,-1.5 -4.3,-2 -3.8,-2.2 -3.4,-2.5 -3,-2.5 -2.4,-2.6 -1.7,-2.2 -1.1,-2.1 -.7,-1.9 -.2,-1.7 .3,-1.5 .7,-1.1 1.2,-.9 1.5,-.4 2.2,-.2 2.4,.3"/>
<path d="M1864.6,1474.9l-2.4,-.5 -2.4,-.5 -2.4,-.5 -2.4,-.5 -11.9,-2.7 -12,-2.7 -11.9,-2.9 -12,-3 -38.2,-10.3 -38,-11.4 -37.8,-12.4 -37.5,-13.3 -44.4,-17.2 -43.8,-18.4 -43.2,-19.5 -42.5,-20.6 -48.8,-25.3 -47.6,-26.4 -46.4,-27.6 -45.1,-28.4 -50.7,-34.1 -48.8,-34.9 -46.8,-35.6 -44.8,-36.2 -49.7,-42.6 -46.8,-43 -43.9,-43 -41,-42.8 -45,-50.5 -40.8,-49.7 -36.6,-48.6 -32.2,-47.3 -33.2,-54.9 -26.6,-52.2 -19.9,-48.9 -12.8,-45.4 -5.9,-51.1 6.2,-44.3 18.6,-36.9 31.3,-28.8 37.7,-18.1 47.1,-11.2 55.7,-4.2 63.3,3 63.1,8.9 67.2,14.6 69.9,20.1 71.4,25.3 59.8,24.6 59.1,27.5 57.6,30.1 55.6,32.3 52.9,34.1 49.7,35.4 46,36.4 41.9,37 35.5,34.9 31.4,34.7 27.1,34.2 22.9,33.3 18.6,32.3 14.3,30.9 10,29.3 5.8,27.5 1.8,27 -2.5,24.6 -6.5,21.9 -10.4,19.2 -16.4,18.9 -20.6,15.1 -24.2,11.2 -27.3,7.4 -28.7,3.6 -30.5,.4 -31.9,-2.7 -32.7,-5.6 -28.8,-7.1 -28.8,-8.8 -28.6,-10.6 -28.1,-12.1 -27,-13.1 -26.1,-14.2 -25.1,-15.2 -23.9,-15.8 -23.4,-17.2 -21.8,-17.5 -20.1,-17.8 -18.3,-17.8 -17.4,-18.8 -15,-18.5 -12.8,-18 -10.4,-17.4 -8.6,-17.7 -5.8,-16.6 -3,-15.3 -.4,-13.9 2.4,-13.4 5.4,-11.4 8.2,-9.5 10.6,-7.4 15,-5.9 17.5,-3.1 19.6,-.5 21.3,2.1 22.2,4.4 22.8,6.7 22.9,8.6 22.4,10.2 19.7,10.6 18.5,11.4 17.3,12.1 15.7,12.6 12.9,11.7 11.4,11.7 9.6,11.6 7.9,11.2 6.1,10.8 4.3,10.2 2.6,9.4 .9,8.7 -.9,8.2 -2.7,7.1 -4.2,5.9 -5.8,4.6 -8.7,4 -10.3,2.1 -11.5,.4 -12.4,-1.3 -12.1,-2.6 -12.3,-3.9 -12.2,-4.9 -11.8,-5.8 -10.1,-5.8 -9.5,-6.3 -8.7,-6.6 -7.8,-6.8 -6.7,-6.6 -5.6,-6.6 -4.7,-6.4 -3.5,-6.1 -2.5,-6 -1.3,-5.4 -.2,-4.9 .9,-4.2 2.1,-3.8 3.3,-3 4.3,-2 5.1,-1.1 6.9,-.3 7.5,1 7.9,1.9 7.9,2.9 7.4,3.4 6.9,4 6.3,4.3 5.6,4.5 4.2,4.1 3.5,4 2.7,3.9 2,3.6 1.1,3.4 .5,3 -.4,2.7 -1,2.1 -1.8,1.9 -2.5,1.3 -3,.6 -3.4,.1 -4.4,-.6 -4.4,-1.2 -4.5,-1.7 -4.3,-2.2 -3.6,-2.3 -3.3,-2.5 -2.8,-2.6 -2.2,-2.5 -1.6,-2.2 -1,-2.1 -.6,-1.9 0,-1.6 .4,-1.5 .9,-1.1 1.3,-.8 1.6,-.4 2.4,0 2.6,.4"/>
<path d="M1807.6,1468.2l-2.5,-.7 -2.4,-.6 -2.5,-.6 -2.4,-.7 -12.3,-3.3 -12.2,-3.4 -12.2,-3.6 -12.3,-3.6 -40.4,-12.9 -40.1,-14 -39.8,-15 -39.4,-16.1 -46.2,-20.3 -45.6,-21.5 -44.7,-22.6 -43.8,-23.7 -50.1,-28.8 -48.6,-29.9 -47.1,-30.9 -45.7,-31.7 -51,-37.6 -48.8,-38.4 -46.6,-39 -44.2,-39.2 -48.9,-46.3 -45.7,-46.2 -42.3,-46 -39,-45.3 -42.8,-54.1 -37.8,-52.6 -32.7,-50.8 -27.5,-48.7 -25.8,-54.7 -18,-50.9 -9.9,-46.7 -1.4,-41.9 6.9,-35.1 15.2,-30.1 23.6,-24.8 32.2,-19.2 40.6,-13.4 48.6,-7.2 55.8,-.9 62.3,5.3 66.7,11.4 70.6,17.2 73,22.9 74.1,28 60,26.2 59,29 57.2,31.3 55,33.4 52,35 48.7,36.1 44.8,36.9 40.6,37.3 34.5,35.5 30.4,35.1 26,34.5 21.6,33.4 17.4,32.6 13,31 8.6,29.3 4.5,27.3 .3,27 -4.1,24.3 -8.1,21.6 -12,18.8 -17.9,17.9 -22,14.1 -25.5,10.3 -28.3,6.4 -29.7,2.8 -31.4,-.5 -32.6,-3.5 -33.4,-6.4 -29.1,-7.7 -29,-9.4 -28.8,-11.1 -28.2,-12.5 -27.2,-13.7 -26.3,-14.7 -25.2,-15.5 -24,-16.3 -23.5,-17.6 -21.9,-17.9 -20.1,-18.1 -18.2,-18.2 -17.3,-19.2 -14.9,-18.8 -12.6,-18.2 -10.2,-17.6 -8.2,-17.9 -5.4,-16.7 -2.7,-15.4 0,-14 3.1,-13.3 6,-11.4 8.7,-9.3 11.3,-7.2 15.8,-5.7 18.4,-2.8 20.5,0 22,2.5 22.7,5 23.3,7.1 23.2,9 22.7,10.6 19.8,10.9 18.6,11.7 17.3,12.3 15.7,12.8 12.9,11.9 11.3,12 9.6,11.7 7.8,11.3 6.1,11 4.2,10.3 2.4,9.6 .7,8.6 -1.1,8.3 -2.9,7.2 -4.5,5.9 -6,4.6 -9,3.9 -10.5,2 -11.8,.3 -12.5,-1.4 -12.4,-2.7 -12.5,-4 -12.4,-5 -11.9,-5.9 -10.3,-6 -9.6,-6.4 -8.8,-6.7 -7.9,-6.8 -6.8,-6.8 -5.8,-6.7 -4.7,-6.5 -3.6,-6.2 -2.6,-6.1 -1.4,-5.6 -.2,-4.9 .9,-4.3 2.2,-4 3.3,-3 4.3,-2.1 5.1,-1.2 7.1,-.3 7.6,.9 8,2 8.1,2.9 7.5,3.5 7,3.9 6.5,4.4 5.8,4.6 4.3,4.2 3.6,4 2.9,4 2,3.7 1.3,3.5 .5,3.1 -.2,2.8 -1,2.2 -1.8,2 -2.4,1.3 -3,.8 -3.5,.1 -4.3,-.5 -4.6,-1.2 -4.6,-1.7 -4.3,-2.2 -3.8,-2.3 -3.4,-2.5 -2.9,-2.6 -2.4,-2.6 -1.7,-2.3 -1.1,-2.2 -.7,-1.9 -.1,-1.7 .4,-1.6 .8,-1.1 1.3,-.9 1.6,-.5 2.3,-.1 2.5,.4 2.7,.8"/>
<path d="M1750.6,1456.7l-2.8,-.9 -2.9,-.9 -2.8,-.8 -2.8,-.9 -14.2,-4.5 -14.1,-4.7 -14.1,-4.7 -14.1,-5 -43.1,-15.9 -42.7,-17.2 -42.1,-18.2 -41.6,-19.2 -48.2,-24 -47.3,-25.1 -46.1,-26.2 -45.1,-27.1 -51,-32.8 -49.3,-33.7 -47.5,-34.5 -45.6,-35.2 -51,-41.7 -48.2,-42.1 -45.6,-42.3 -42.9,-42.4 -47.4,-50.2 -43.6,-49.6 -39.6,-48.8 -35.7,-47.6 -38,-56.2 -31.9,-53.7 -25.9,-51.1 -19.5,-48 -15.1,-54.5 -4.7,-48.8 6.4,-42.6 17.9,-35.6 30.4,-28.7 42.8,-20.4 54.7,-11.8 65.8,-2.8 59.8,4.3 64.9,10.2 68.8,15.8 71.6,21.3 63.6,22.7 63.8,26.3 63.1,29.4 61.5,32.3 59.2,34.7 56.2,36.5 52.6,38.1 48.4,38.9 40.5,36.3 36.4,36.4 32.1,36 27.7,35.5 22.9,34.2 18.6,33 14.1,31.6 9.8,29.9 5.8,29.4 1.3,27 -2.9,24.6 -6.9,22.1 -12.6,22.2 -17.1,18.5 -21.1,14.7 -24.5,11 -27.3,7.3 -29.7,3.8 -31.6,.4 -32.9,-2.8 -29.7,-5 -30,-7.1 -30.1,-9 -29.9,-10.8 -28.3,-11.9 -27.7,-13.2 -26.8,-14.3 -25.8,-15.3 -25.4,-16.6 -24,-17.2 -22.5,-17.7 -20.7,-17.9 -20.1,-19.1 -18,-19 -15.8,-18.8 -13.6,-18.4 -12,-18.9 -9.3,-18.1 -6.6,-17.1 -4,-15.8 -1.3,-15.7 1.6,-13.9 4.5,-12.1 7.3,-10.1 11,-9 13.8,-6.5 16.3,-3.9 18.4,-1.5 21.8,1.1 23.2,3.7 24,6.2 24.4,8.4 22.7,9.7 22,11.2 20.9,12.3 19.5,13.2 15.6,12.1 14.1,12.2 12.4,12.3 10.6,12.2 8.7,11.7 6.9,11.2 5,10.7 3.3,9.9 1.5,9.6 -.3,8.6 -2,7.5 -3.7,6.3 -6,5.9 -7.7,4.3 -9.1,2.6 -10.3,1.2 -11.8,-.4 -12.4,-1.8 -12.7,-3.3 -12.8,-4.4 -11.6,-5.1 -11.3,-5.8 -10.6,-6.3 -9.9,-6.9 -8.5,-6.7 -7.6,-6.8 -6.6,-6.9 -5.6,-6.7 -4.5,-6.6 -3.4,-6.3 -2.3,-5.9 -1.1,-5.4 .1,-5.1 1.2,-4.3 2.4,-3.6 3.4,-2.7 5.1,-2.2 6.1,-1 6.8,.1 7.3,1 7.8,2.1 7.9,2.9 7.6,3.6 7.2,4.2 6,4.1 5.3,4.3 4.6,4.3 3.8,4.3 2.9,4 2.1,3.7 1.3,3.5 .5,3.1 -.2,2.9 -1,2.4 -1.7,1.9 -2.3,1.3 -3.4,.9 -3.9,.1 -4.3,-.6 -4.5,-1.1 -4.5,-1.7 -4.3,-2.2 -4,-2.5 -3.6,-2.6 -2.8,-2.5 -2.2,-2.4 -1.8,-2.4 -1.2,-2.2 -.7,-2.1 -.2,-1.8 .4,-1.5 .7,-1.1 1.4,-1 1.7,-.5 2,-.1 2.3,.2 2.7,.7"/>
<path d="M1693.6,1441.2l-3.3,-1.2 -3.4,-1.2 -3.4,-1.2 -3.3,-1.2 -16.9,-6.1 -16.7,-6.3 -16.7,-6.5 -16.6,-6.6 -45.7,-19.4 -45.1,-20.5 -44.3,-21.6 -43.5,-22.7 -49.9,-27.7 -48.5,-28.8 -47.2,-29.9 -45.8,-30.6 -51.5,-36.7 -49.5,-37.5 -47.3,-38.1 -45.1,-38.6 -50.1,-45.6 -47.1,-45.6 -43.9,-45.6 -40.8,-45.1 -45.1,-54 -40.5,-52.7 -35.7,-51.2 -30.9,-49.4 -30.3,-55.9 -23.3,-52.5 -15.9,-48.8 -8.3,-44.7 -.2,-40.9 8.5,-35.8 17.5,-30.4 26.8,-24.6 36.1,-18.5 45.3,-12 53.8,-5.3 61.6,1.5 63.6,7.6 68.1,13.5 71.6,19.1 73.5,24.4 63.2,24.7 62.8,27.9 61.6,30.8 59.7,33.3 57.1,35.3 53.9,37 50.1,38.1 45.9,38.9 38.7,36.5 34.5,36.4 30.1,36 25.7,35.2 21.1,34.1 16.7,32.8 12.2,31.2 7.9,29.4 3.8,28.9 -.8,26.5 -4.9,23.8 -8.9,21.2 -15.2,21.4 -19.8,17.5 -23.7,13.4 -27.2,9.4 -28.8,5.5 -31,1.9 -32.5,-1.3 -33.6,-4.4 -29.7,-6.1 -29.9,-8.2 -29.8,-9.9 -29.5,-11.7 -28.2,-12.7 -27.5,-13.9 -26.5,-15 -25.4,-15.9 -25.1,-17.1 -23.5,-17.7 -22,-18.1 -20.1,-18.3 -19.4,-19.4 -17.2,-19.3 -14.9,-18.9 -12.6,-18.3 -10.9,-18.9 -8.1,-18 -5.4,-16.7 -2.6,-15.5 .1,-15.1 3.1,-13.3 6,-11.4 8.8,-9.3 12.7,-8 15.5,-5.4 17.9,-2.8 19.9,-.2 22.5,2.4 23.7,4.9 24.2,7.3 24.3,9.3 22.1,10.3 21.4,11.5 20.1,12.6 18.6,13.3 15,12.2 13.4,12.3 11.7,12.3 10,12.1 8,11.7 6.2,11.1 4.4,10.5 2.6,9.8 .8,9.3 -1,8.4 -2.8,7.1 -4.3,6 -6.9,5.5 -8.6,3.8 -10,2.1 -11,.5 -12.2,-1 -12.6,-2.5 -12.9,-3.7 -12.7,-5 -11.5,-5.3 -11,-6.1 -10.3,-6.5 -9.5,-6.9 -8.2,-6.9 -7.3,-6.9 -6.3,-6.8 -5.2,-6.7 -4.2,-6.7 -3,-6.2 -1.8,-5.8 -.7,-5.2 .5,-4.9 1.8,-4.2 2.8,-3.3 3.8,-2.5 5.7,-1.8 6.5,-.6 7.3,.5 7.7,1.5 8,2.4 7.8,3.3 7.5,3.8 7,4.4 5.7,4.2 5.1,4.3 4.3,4.3 3.4,4.2 2.6,4 1.8,3.7 1,3.4 .2,3 -.5,2.7 -1.3,2.2 -2,1.7 -2.5,1.2 -3.8,.6 -4.2,-.1 -4.6,-.9 -4.7,-1.5 -4.5,-1.9 -4.2,-2.3 -3.9,-2.6 -3.3,-2.8 -2.5,-2.4 -2.1,-2.5 -1.5,-2.3 -1,-2.1 -.4,-2 .1,-1.7 .5,-1.3 1,-1.1 1.6,-.8 1.9,-.3 2.2,0 2.4,.5 2.8,.9"/>
<path d="M1636.7,1422.1l-4,-1.6 -4,-1.5 -4,-1.6 -4,-1.6 -19.8,-8.1 -19.7,-8.3 -19.5,-8.6 -19.5,-8.7 -48,-22.8 -47,-24.1 -46.1,-25.1 -45,-26.1 -51,-31.4 -49.3,-32.5 -47.7,-33.4 -46,-34.1 -51.5,-40.5 -49.1,-41.1 -46.5,-41.4 -43.9,-41.6 -48.9,-49.2 -45.1,-49 -41.5,-48.3 -37.9,-47.5 -41.2,-56.6 -35.6,-54.7 -29.9,-52.3 -24,-49.6 -20.9,-55.6 -11.7,-50.7 -2,-45.5 8.1,-39.6 15.5,-29 23.7,-24 31.9,-18.7 40,-13.1 47.7,-7.2 55,-1.3 61.3,4.7 66.6,10.7 75.1,17.7 78,24 79.4,29.7 79,34.9 72.1,36.6 69.3,39.9 65.3,42.5 60.4,44.4 45.3,37.2 41.1,37.5 36.9,37.5 32.2,37.2 26.9,35.4 22.5,34.4 17.9,33.2 13.6,31.7 9.4,31.1 5,29 .6,26.6 -3.6,24.3 -8.5,24.2 -13.1,20.9 -17.1,17.5 -20.8,13.9 -25.1,11 -28,7.2 -30.4,3.6 -32.3,.2 -30.2,-2.6 -31,-5.1 -31.4,-7.4 -31.5,-9.5 -29,-10.5 -28.6,-12 -28,-13.3 -27.1,-14.5 -26.7,-15.8 -25.5,-16.5 -24.1,-17.2 -22.5,-17.7 -22.1,-19 -20.1,-19 -18,-19 -16,-18.8 -14.6,-19.6 -12.1,-18.9 -9.5,-18.1 -6.8,-17.1 -4.5,-17.1 -1.5,-15.6 1.4,-14 4.2,-12.2 7.6,-11.3 10.6,-8.9 13.3,-6.6 15.7,-4.2 20.6,-1.9 22.8,1 24.2,3.9 25.2,6.6 23.6,8.2 23.3,9.9 22.6,11.5 21.4,12.6 17.7,12 16.3,12.4 14.7,12.6 13,12.8 10.7,12.1 9,11.9 7.1,11.4 5.4,10.8 3.6,10.5 1.7,9.7 -.1,8.6 -1.8,7.6 -3.8,7.2 -5.7,5.8 -7.2,4.3 -8.5,2.9 -10.9,1.6 -12,-.1 -12.7,-1.7 -13,-3.2 -12.7,-4.2 -12.4,-5.3 -12.1,-6.1 -11.3,-6.7 -9.6,-6.6 -8.8,-6.8 -7.8,-7 -6.8,-7 -5.8,-6.9 -4.7,-6.7 -3.6,-6.4 -2.4,-5.9 -1.2,-5.8 -.1,-5.1 1.1,-4.4 2.2,-3.7 3.7,-3.1 4.8,-2.2 5.7,-1.1 6.4,-.1 7.7,.9 8,2 8.2,2.8 7.9,3.7 7,3.9 6.5,4.3 5.8,4.5 4.9,4.6 3.8,4.2 3,4.1 2.3,3.8 1.4,3.6 .6,3.3 -.1,3 -.9,2.4 -1.5,1.9 -2.5,1.6 -3.1,.9 -3.7,.3 -3.9,-.4 -4.6,-1 -4.7,-1.6 -4.5,-2.1 -4.2,-2.5 -3.5,-2.4 -3,-2.6 -2.6,-2.6 -2,-2.5 -1.4,-2.3 -.8,-2.1 -.4,-1.9 .2,-1.6 .7,-1.4 1.1,-1 1.6,-.6 1.8,-.3 2.7,.1 2.9,.7"/>
<path d="M1579.7,1399.9l-4.6,-2 -4.7,-2 -4.6,-2.1 -4.6,-2 -23,-10.4 -22.7,-10.7 -22.6,-11 -22.4,-11.2 -49.7,-26.3 -48.6,-27.5 -47.3,-28.6 -46,-29.4 -51.6,-35.1 -49.7,-36 -47.7,-36.7 -45.7,-37.3 -50.9,-44.1 -48.1,-44.4 -45.1,-44.5 -42.2,-44.2 -46.9,-52.8 -42.5,-51.9 -38.3,-50.7 -33.8,-49.2 -34.6,-56.4 -28.1,-53.6 -21.5,-50.5 -14.7,-46.9 -8.4,-56.4 5.1,-48.7 19.5,-40.2 34.3,-31 41.6,-18.8 52.4,-11 62.4,-2.9 71.2,5.2 66.6,10.8 70.6,16.7 73.3,22.1 74.6,27.3 62.7,26.5 61.8,29.5 60.2,32 58,34.3 55.1,36 51.7,37.4 47.7,38.3 43.5,38.8 36.8,36.8 32.6,36.5 28.1,35.8 23.7,35 19.2,34 14.7,32.5 10.2,30.7 5.9,28.8 1.6,28.4 -2.8,25.8 -7,23.1 -11,20.2 -17.3,19.8 -21.5,15.8 -25.3,11.9 -28.3,7.9 -30,4.1 -31.9,.6 -33.2,-2.5 -34.1,-5.6 -29.9,-7 -29.9,-8.9 -29.7,-10.7 -29.2,-12.2 -28.2,-13.4 -27.4,-14.5 -26.4,-15.5 -25.2,-16.3 -24.8,-17.6 -23.2,-18.2 -21.6,-18.4 -19.7,-18.6 -18.9,-19.7 -16.6,-19.4 -14.2,-19 -11.9,-18.4 -10.1,-18.9 -7.2,-17.8 -4.5,-16.6 -1.7,-15.2 1.2,-14.7 4.3,-12.9 7.1,-10.8 9.9,-8.7 14,-7.3 16.8,-4.6 19.2,-1.9 21,.8 23.1,3.3 24,5.8 24.4,8.1 24.3,10 21.7,10.6 20.8,11.9 19.5,12.7 18,13.3 14.6,12.3 13,12.5 11.3,12.3 9.5,12.1 7.6,11.7 5.7,11.1 3.9,10.4 2.1,9.6 .3,9.2 -1.6,8.2 -3.2,6.9 -4.9,5.7 -7.6,5.2 -9.3,3.4 -10.6,1.7 -11.7,.1 -12.4,-1.5 -12.9,-2.9 -12.9,-4.2 -12.8,-5.2 -11.3,-5.6 -10.8,-6.3 -10.1,-6.7 -9.3,-7 -8,-6.9 -7.1,-7 -6,-6.9 -5,-6.7 -3.9,-6.6 -2.7,-6.2 -1.5,-5.7 -.4,-5.1 .9,-4.8 2,-4 3.2,-3.2 4.2,-2.2 6,-1.6 7,-.3 7.7,.8 8,1.8 8,2.8 7.8,3.4 7.5,4.1 6.9,4.5 5.5,4.2 4.8,4.4 4.1,4.3 3.2,4.2 2.4,3.9 1.6,3.7 .7,3.3 .1,2.9 -.8,2.7 -1.5,2.1 -2.2,1.5 -2.8,1 -4.1,.5 -4.5,-.4 -4.8,-1.1 -4.9,-1.8 -4.4,-2.1 -4.2,-2.4 -3.7,-2.7 -3.2,-2.8 -2.3,-2.5 -1.9,-2.4 -1.3,-2.2 -.8,-2.1 -.2,-1.9 .2,-1.6 .7,-1.3 1.2,-.9 1.8,-.7 2.1,-.2 2.4,.2 2.5,.6"/>
<path d="M1522.7,1374.8l-5.3,-2.6 -5.3,-2.5 -5.2,-2.5 -5.3,-2.6 -26.1,-13 -25.9,-13.3 -25.5,-13.7 -25.2,-14 -51.1,-29.8 -49.6,-30.9 -48,-31.9 -46.5,-32.6 -51.8,-38.7 -49.5,-39.3 -47.1,-39.8 -44.9,-40.2 -49.9,-47.5 -46.5,-47.5 -43.2,-47.1 -39.8,-46.6 -44.2,-56.1 -39,-54.4 -33.8,-52.6 -28.5,-50.4 -26.6,-56 -18.7,-52.1 -10.5,-47.7 -2,-43 6.3,-35.2 14.5,-30.4 22.9,-25.3 31.5,-19.7 39.9,-14 48.1,-8 55.6,-1.7 62.4,4.4 67.1,10.6 71.4,16.5 74.3,22.2 75.6,27.4 62.9,26.5 62.1,29.4 60.5,32.1 58.3,34.2 55.4,36.1 52,37.5 48,38.4 43.8,38.9 37.2,36.9 32.8,36.6 28.4,35.9 23.8,35.1 19.5,34.1 14.9,32.6 10.4,30.9 6.1,28.9 1.9,28.6 -2.7,25.9 -6.9,23.2 -10.8,20.4 -17.1,20 -21.4,16.1 -25.2,12 -28.3,8.1 -29.9,4.2 -31.9,.8 -33.2,-2.4 -34.2,-5.4 -29.9,-7 -29.9,-8.8 -29.8,-10.6 -29.4,-12.2 -28.2,-13.3 -27.5,-14.5 -26.5,-15.4 -25.2,-16.3 -25,-17.6 -23.3,-18.2 -21.7,-18.4 -19.9,-18.6 -19,-19.7 -16.7,-19.5 -14.5,-19 -12,-18.5 -10.2,-19 -7.5,-17.9 -4.6,-16.6 -1.9,-15.3 1,-14.9 4.1,-13 7,-10.9 9.7,-8.9 13.8,-7.5 16.7,-4.7 18.9,-2.1 20.9,.6 23.1,3.2 24.1,5.7 24.5,7.9 24.3,9.9 21.9,10.6 21,11.8 19.7,12.8 18.2,13.3 14.7,12.4 13.2,12.5 11.4,12.3 9.6,12.2 7.8,11.7 5.8,11.2 4.1,10.4 2.2,9.7 .4,9.3 -1.4,8.2 -3.2,7.1 -4.7,5.8 -7.5,5.3 -9.1,3.5 -10.5,1.8 -11.6,.2 -12.4,-1.4 -12.9,-2.8 -13,-4.1 -12.8,-5.1 -11.4,-5.6 -10.9,-6.2 -10.2,-6.7 -9.4,-7 -8.1,-6.9 -7.2,-7 -6.1,-6.9 -5.1,-6.8 -4,-6.6 -2.8,-6.3 -1.7,-5.7 -.4,-5.2 .7,-4.9 2,-4.1 3,-3.2 4.1,-2.3 5.9,-1.7 6.9,-.4 7.6,.7 8,1.7 8,2.6 7.8,3.4 7.6,4 6.9,4.5 5.6,4.2 5,4.4 4.2,4.4 3.3,4.2 2.5,4 1.7,3.7 .9,3.3 .1,3 -.7,2.7 -1.4,2.2 -2.1,1.6 -2.7,1.1 -4,.5 -4.4,-.3 -4.8,-1 -4.8,-1.6 -4.5,-2 -4.2,-2.5 -3.8,-2.6 -3.3,-2.8 -2.5,-2.5 -1.9,-2.4 -1.4,-2.3 -.9,-2.2 -.4,-1.9 .2,-1.6 .6,-1.4 1.1,-1 1.7,-.7 2,-.3 2.3,.1 2.5,.6 2.8,.9"/>
<path d="M1465.7,1346.9l-5.9,-3.1 -5.9,-3.1 -5.9,-3.1 -5.9,-3.1 -29.3,-15.9 -28.8,-16.2 -28.4,-16.7 -27.9,-17 -51.9,-33.2 -50.2,-34.2 -48.3,-35.1 -46.5,-35.7 -51.4,-42 -48.8,-42.5 -46.2,-42.7 -43.5,-42.7 -48.3,-50.8 -44.5,-50.3 -40.5,-49.5 -36.6,-48.4 -39,-56.7 -33.1,-54.4 -27.1,-51.8 -21,-48.9 -17.2,-56.1 -6.8,-50.4 4.3,-44.2 15.8,-37.4 21.8,-24.9 29.8,-19.7 37.9,-14.3 45.6,-8.6 52.9,-2.8 59.4,3.1 65,9 69.3,14.9 83.6,23.9 85.6,30.7 85.6,36.9 83.5,42.1 65.6,37.8 62.2,40.1 57.9,41.8 53,43 41,37.2 36.8,37.1 32.4,36.9 27.9,36.2 23.1,34.9 18.5,33.7 14,32.2 9.7,30.4 5.5,29.9 1,27.6 -3.3,25 -7.3,22.4 -13.3,22.6 -17.9,18.8 -21.9,14.9 -25.4,11.1 -28.1,7.2 -30.4,3.6 -32.3,.3 -33.6,-3 -30.1,-5.1 -30.4,-7.2 -30.6,-9.2 -30.3,-11 -28.7,-12.1 -28.1,-13.4 -27.3,-14.5 -26.3,-15.5 -25.9,-16.9 -24.5,-17.5 -23,-17.9 -21.3,-18.3 -20.6,-19.5 -18.5,-19.4 -16.3,-19.2 -14,-18.7 -12.5,-19.4 -9.8,-18.6 -7,-17.5 -4.4,-16.3 -1.6,-16.1 1.3,-14.4 4.3,-12.6 7,-10.6 10.9,-9.4 13.7,-6.9 16.3,-4.4 18.4,-1.8 22.2,.7 23.7,3.5 24.6,6.1 25,8.3 23.3,9.8 22.7,11.2 21.6,12.5 20.2,13.4 16.3,12.2 14.7,12.6 13,12.6 11.2,12.5 9.2,12 7.4,11.6 5.5,11 3.8,10.3 1.9,9.9 .1,9 -1.7,7.9 -3.3,6.7 -5.7,6.3 -7.4,4.7 -9,3.1 -10.1,1.6 -11.8,0 -12.6,-1.5 -12.9,-3 -13.1,-4.2 -12.1,-4.9 -11.7,-5.8 -11.1,-6.4 -10.4,-6.9 -9,-6.8 -8,-7 -7.1,-7 -6,-6.9 -5.1,-6.9 -3.8,-6.5 -2.7,-6.2 -1.5,-5.6 -.4,-5.4 .9,-4.7 2,-3.9 3.1,-3.1 4.7,-2.5 5.8,-1.4 6.5,-.4 7.2,.7 7.9,1.7 8.1,2.7 8,3.4 7.6,4.1 6.4,4.1 5.9,4.4 5.1,4.4 4.3,4.5 3.2,4.2 2.5,3.9 1.7,3.7 .9,3.3 .1,3.2 -.7,2.6 -1.4,2.1 -2,1.6 -3,1.2 -3.7,.5 -4.1,-.2 -4.3,-.8 -4.7,-1.5 -4.5,-2 -4.3,-2.3 -4,-2.6 -3.1,-2.6 -2.7,-2.5 -2.1,-2.5 -1.6,-2.4 -1,-2.2 -.5,-2 0,-1.7 .5,-1.4 1,-1.2 1.5,-.8 1.8,-.4 2.1,0 2.8,.5 2.9,.9"/>
<path d="M1408.8,1316.4l-6.6,-3.6 -6.6,-3.7 -6.5,-3.8 -6.5,-3.7 -32.3,-19 -31.6,-19.4 -31.1,-19.9 -30.4,-20.2 -52.3,-36.6 -50.2,-37.4 -48.2,-38.1 -45.9,-38.5 -50.8,-45.3 -47.6,-45.4 -44.7,-45.3 -41.6,-45.1 -46.2,-53.9 -41.7,-52.8 -37.1,-51.4 -32.5,-49.8 -32.4,-56.3 -25.6,-53.3 -18.7,-49.8 -11.3,-45.9 -3.8,-44.5 5.5,-39.1 15,-33.5 25,-27.4 35.2,-20.9 45.1,-14 54.7,-6.9 63.3,.6 63.2,6.7 68,12.7 71.7,18.4 73.9,23.7 64.4,24.5 64.3,27.8 63.2,30.9 61.4,33.5 58.8,35.7 55.6,37.5 51.9,38.8 47.6,39.5 40,37.1 35.8,37 31.4,36.6 26.9,35.9 22.2,34.8 17.7,33.4 13.2,31.9 8.9,30.1 4.6,29.6 .2,27.2 -4.1,24.7 -8.2,21.9 -14.3,22.2 -19,18.3 -23,14.3 -26.5,10.4 -28.7,6.4 -30.8,2.8 -32.6,-.5 -33.8,-3.7 -30.1,-5.6 -30.3,-7.7 -30.3,-9.6 -30,-11.3 -28.7,-12.4 -27.9,-13.7 -27.1,-14.8 -26,-15.8 -25.7,-17 -24.2,-17.7 -22.6,-18.1 -20.9,-18.4 -20.2,-19.6 -18.1,-19.4 -15.8,-19.2 -13.5,-18.7 -11.9,-19.3 -9.2,-18.4 -6.4,-17.3 -3.7,-16.1 -.9,-15.8 2,-14 5,-12.1 7.8,-10.2 11.6,-8.9 14.5,-6.4 17.1,-3.7 19.1,-1.2 22.4,1.4 23.9,4.1 24.6,6.5 24.8,8.8 23.2,10.1 22.5,11.6 21.3,12.7 19.8,13.5 15.8,12.3 14.2,12.6 12.6,12.5 10.7,12.4 8.8,12 6.9,11.4 5.1,10.9 3.2,10.1 1.5,9.8 -.3,8.7 -2.2,7.7 -3.8,6.4 -6.2,6 -7.9,4.4 -9.4,2.7 -10.6,1.1 -12,-.3 -12.7,-1.9 -13,-3.3 -13,-4.6 -11.9,-5.1 -11.5,-5.9 -10.8,-6.5 -10.1,-7 -8.8,-6.8 -7.8,-7 -6.8,-7 -5.7,-6.8 -4.8,-6.9 -3.5,-6.4 -2.4,-6.1 -1.2,-5.5 -.1,-5.3 1.2,-4.5 2.3,-3.7 3.4,-2.9 5,-2.3 6.1,-1.1 6.9,-.1 7.4,1 8,2 8,2.8 7.9,3.7 7.4,4.1 6.2,4.2 5.6,4.4 4.9,4.4 4,4.4 3.1,4.1 2.2,3.9 1.5,3.6 .7,3.3 -.1,3 -.9,2.5 -1.5,2 -2.2,1.5 -3.3,1 -3.9,.3 -4.3,-.4 -4.4,-1 -4.7,-1.6 -4.4,-2.1 -4.3,-2.5 -3.7,-2.6 -3,-2.6 -2.5,-2.5 -2,-2.5 -1.4,-2.3 -.8,-2.1 -.4,-1.9 .2,-1.7 .6,-1.3 1.2,-1.1 1.6,-.6 2,-.3 2.2,.1 2.8,.6"/>
<path d="M1351.8,1283.5l-7.2,-4.4 -7.2,-4.3 -7.1,-4.4 -7.1,-4.4 -35.1,-22.3 -34.2,-22.8 -33.5,-23.3 -32.7,-23.6 -52.3,-39.8 -49.9,-40.5 -47.5,-40.9 -45,-41.2 -49.5,-48.4 -46.1,-48.2 -42.6,-47.7 -39.1,-47 -43.5,-56.9 -38,-55 -32.6,-53 -26.9,-50.5 -24.4,-56 -16,-51.7 -7.3,-46.9 1.9,-41.8 10,-32.7 18.2,-27.8 26.5,-22.7 34.9,-17 43.2,-11.3 50.9,-5.4 58,.9 64.3,6.9 70,13.2 73.8,19.2 76.1,24.9 76.9,30.1 61.8,27.8 60.6,30.5 58.7,32.8 56.3,34.8 53.1,36.4 49.6,37.5 45.6,38.3 41.2,38.5 35.1,36.7 30.7,36.3 26.3,35.6 21.8,34.5 17.4,33.6 12.9,32 8.4,30.2 4.1,28.1 -.2,27.8 -4.7,25 -8.9,22.2 -12.8,19.2 -18.9,18.3 -22.9,14.3 -26.4,10.3 -29.3,6.6 -30.8,2.8 -32.5,-.6 -33.6,-3.7 -34.5,-6.6 -29.8,-7.8 -29.7,-9.6 -29.5,-11.3 -29,-12.8 -28,-13.9 -27.1,-15 -26.1,-15.9 -24.8,-16.7 -24.4,-18 -22.8,-18.4 -20.9,-18.7 -19.1,-18.7 -18.2,-19.8 -15.9,-19.5 -13.4,-18.9 -11,-18.3 -9.1,-18.7 -6.2,-17.5 -3.4,-16.2 -.6,-14.8 2.4,-14.2 5.5,-12.2 8.3,-10.1 11,-8 15.5,-6.4 18.2,-3.6 20.3,-.8 22.2,1.9 23.4,4.4 24.2,6.7 24.3,8.8 23.9,10.6 21.1,11.1 20,12 18.7,12.8 17.1,13.3 14,12.3 12.3,12.4 10.6,12.3 8.8,12 6.9,11.5 5.1,10.9 3.2,10.2 1.4,9.3 -.3,9 -2.3,7.8 -3.9,6.6 -5.5,5.3 -8.5,4.7 -10.2,2.8 -11.4,1.1 -12.5,-.7 -12.6,-2.1 -13,-3.5 -12.9,-4.7 -12.6,-5.6 -11.1,-5.9 -10.4,-6.4 -9.7,-6.8 -8.8,-7.1 -7.6,-7 -6.6,-7 -5.6,-6.8 -4.4,-6.6 -3.4,-6.6 -2.2,-6 -1,-5.5 .1,-4.9 1.4,-4.5 2.6,-3.7 3.7,-2.8 4.7,-1.8 6.7,-1.1 7.7,.2 8.2,1.4 8.5,2.5 7.9,3.1 7.6,3.8 7.2,4.3 6.5,4.7 5,4.3 4.4,4.3 3.5,4.2 2.8,4.1 1.9,3.8 1.1,3.5 .3,3.1 -.4,2.7 -1.2,2.4 -2,1.8 -2.6,1.3 -3.1,.6 -4.3,.1 -4.6,-.8 -4.9,-1.4 -4.7,-2 -4.3,-2.2 -4,-2.6 -3.5,-2.8 -2.9,-2.8 -2.1,-2.4 -1.6,-2.4 -1,-2.1 -.5,-2 0,-1.8 .5,-1.4 1,-1.2 1.3,-.7 2,-.5 2.4,.1 2.5,.4 2.7,.8"/>
<path d="M1294.8,1248.1l-7.8,-5 -7.7,-5.1 -7.7,-5.1 -7.7,-5.1 -37.7,-25.9 -36.6,-26.4 -35.6,-26.8 -34.5,-27.1 -52,-43 -49.1,-43.4 -46.4,-43.7 -43.6,-43.5 -48,-51.4 -44,-50.8 -40,-49.8 -35.9,-48.7 -37.9,-56.7 -31.8,-54.2 -25.8,-51.5 -19.4,-48.4 -15.2,-56.3 -4,-50.1 7.7,-43.5 20.2,-36 24.9,-22.8 33.1,-17.5 40.9,-12 48.5,-6.3 55.5,-.5 61.6,5.4 66.6,11.3 70.6,17 67.1,20.4 68.2,24.6 68.3,28.6 67.4,32 65.4,35.2 62.7,37.6 59.2,39.7 54.9,41.1 44.7,37.2 40.6,37.6 36.3,37.5 31.7,37.1 26.6,35.6 22.1,34.6 17.6,33.3 13.1,31.7 9,31.2 4.5,29 .1,26.7 -4,24.1 -9.2,24.3 -13.7,20.7 -17.8,17.3 -21.4,13.7 -25.6,10.6 -28.5,6.9 -30.8,3.3 -32.6,-.2 -30.4,-2.8 -31.1,-5.4 -31.4,-7.6 -31.4,-9.6 -29.2,-10.8 -28.7,-12.1 -28,-13.5 -27.2,-14.6 -26.8,-16 -25.5,-16.7 -24.2,-17.4 -22.6,-17.8 -22.1,-19.1 -20.1,-19.2 -18.1,-19.1 -15.9,-18.9 -14.6,-19.7 -12.1,-19.1 -9.4,-18.2 -6.8,-17.1 -4.3,-17.2 -1.4,-15.7 1.5,-14 4.4,-12.2 7.8,-11.3 10.9,-8.9 13.5,-6.5 15.9,-4.2 20.8,-1.8 23,1.2 24.5,4 25.3,6.7 23.8,8.3 23.4,10.1 22.7,11.6 21.6,12.7 17.8,12 16.4,12.5 14.7,12.8 13.1,12.9 10.7,12.2 9,11.9 7.2,11.5 5.3,10.9 3.6,10.6 1.7,9.7 -.1,8.7 -1.8,7.6 -3.9,7.3 -5.7,5.8 -7.3,4.3 -8.6,2.9 -11,1.6 -12,-.1 -12.8,-1.8 -13.2,-3.1 -12.7,-4.3 -12.5,-5.3 -12.1,-6.1 -11.5,-6.8 -9.6,-6.6 -8.8,-6.9 -7.9,-7 -6.9,-7 -5.9,-7 -4.8,-6.7 -3.6,-6.5 -2.4,-6 -1.3,-5.8 -.1,-5.2 1.1,-4.4 2.1,-3.7 3.7,-3.2 4.8,-2.2 5.7,-1.2 6.4,-.2 7.7,.9 8.1,2 8.2,2.8 8,3.7 7.1,3.9 6.6,4.3 5.8,4.6 5.1,4.6 3.9,4.3 3,4.1 2.3,3.9 1.5,3.6 .7,3.3 -.1,3 -.8,2.5 -1.5,2 -2.5,1.6 -3.1,.9 -3.6,.3 -4,-.3 -4.6,-1 -4.7,-1.6 -4.5,-2 -4.3,-2.5 -3.6,-2.5 -3.1,-2.6 -2.6,-2.6 -2.1,-2.5 -1.4,-2.3 -.9,-2.2 -.4,-1.9 .1,-1.6 .7,-1.4 1.1,-1.1 1.5,-.7 1.8,-.3 2.7,.1 2.9,.7"/>
<path d="M1237.8,1210.3l-8.3,-5.8 -8.3,-5.8 -8.2,-5.9 -8.2,-5.8 -40.1,-29.7 -38.7,-30.1 -37.4,-30.5 -36.1,-30.7 -51.1,-46.1 -48.1,-46.2 -44.8,-46.1 -41.7,-45.8 -46,-54.3 -41.2,-53.2 -36.7,-51.7 -31.8,-50 -31.5,-56.3 -24.6,-53.2 -17.4,-49.5 -9.9,-45.5 -2,-42.6 6.8,-37.5 16.2,-32 25.7,-26.1 35.5,-19.8 45.1,-13.2 54.1,-6.2 62.5,.8 63.5,7.1 68.3,12.9 72,18.6 74.2,24 64.5,24.6 64.2,28 63.1,31 61.4,33.6 58.7,35.8 55.5,37.6 51.7,38.8 47.5,39.6 40,37.1 35.7,37 31.3,36.7 26.7,35.9 22.2,34.8 17.6,33.4 13,31.9 8.7,30.1 4.6,29.6 0,27.2 -4.3,24.6 -8.3,21.9 -14.5,22.3 -19.2,18.2 -23.2,14.2 -26.7,10.3 -28.8,6.3 -30.9,2.7 -32.7,-.6 -33.9,-3.8 -30.1,-5.7 -30.3,-7.8 -30.3,-9.6 -30,-11.4 -28.7,-12.5 -28,-13.8 -27,-14.8 -26.1,-15.8 -25.6,-17.1 -24.2,-17.7 -22.7,-18.2 -20.9,-18.4 -20.1,-19.6 -18.1,-19.5 -15.7,-19.2 -13.5,-18.7 -11.9,-19.3 -9.1,-18.4 -6.3,-17.4 -3.7,-16 -.8,-15.8 2.1,-14 5.1,-12.1 7.8,-10.2 11.8,-8.9 14.6,-6.2 17.1,-3.8 19.2,-1.1 22.5,1.5 23.9,4.1 24.7,6.7 24.9,8.8 23.2,10.1 22.5,11.6 21.3,12.8 19.7,13.5 15.8,12.4 14.3,12.5 12.5,12.6 10.7,12.4 8.7,12 6.9,11.4 5.1,10.9 3.2,10.1 1.5,9.8 -.4,8.7 -2.2,7.7 -3.8,6.4 -6.3,6 -8,4.3 -9.4,2.8 -10.6,1.1 -12.1,-.4 -12.7,-2 -13,-3.3 -13,-4.5 -11.9,-5.2 -11.5,-5.9 -10.9,-6.5 -10.1,-7 -8.7,-6.8 -7.8,-7 -6.8,-7 -5.8,-6.9 -4.7,-6.8 -3.6,-6.5 -2.3,-6.1 -1.3,-5.5 0,-5.3 1.2,-4.5 2.3,-3.7 3.4,-2.9 5.1,-2.3 6.1,-1.1 6.9,-.1 7.4,1 8,2 8.1,2.9 7.8,3.6 7.5,4.2 6.2,4.2 5.6,4.4 4.8,4.4 4.1,4.5 3,4.1 2.3,3.8 1.5,3.7 .6,3.2 0,3 -.9,2.6 -1.6,2 -2.2,1.4 -3.3,1.1 -3.9,.3 -4.2,-.4 -4.5,-1.1 -4.6,-1.6 -4.6,-2.1 -4.2,-2.4 -3.8,-2.7 -2.9,-2.6 -2.5,-2.5 -2,-2.5 -1.4,-2.3 -.9,-2.1 -.3,-1.9 .1,-1.7 .7,-1.3 1.2,-1.1 1.6,-.7 1.9,-.2 2.2,.1 2.9,.6"/>
<path d="M1180.9,1170.1l-8.9,-6.6 -8.8,-6.6 -8.7,-6.6 -8.6,-6.7 -42.2,-33.6 -40.6,-34 -38.8,-34.3 -37.2,-34.3 -50,-49.2 -46.5,-48.9 -42.9,-48.5 -39.2,-47.6 -43.1,-56.9 -37.6,-55.1 -32,-52.9 -26.5,-50.4 -23.9,-56.2 -15.3,-51.8 -6.5,-46.9 3.1,-41.5 10.9,-32 19.2,-27.2 27.4,-21.9 35.8,-16.3 43.9,-10.7 51.6,-4.6 58.7,1.4 64.7,7.6 70.9,13.8 74.5,19.9 76.8,25.6 77.5,30.8 61.8,28.2 60.5,30.8 58.5,33.2 56,35 52.9,36.6 49.2,37.7 45.3,38.3 40.8,38.6 34.8,36.9 30.4,36.3 25.9,35.6 21.4,34.5 17.1,33.7 12.5,32 8,30.1 3.7,28 -.6,27.8 -5.2,24.9 -9.3,22.1 -13.3,19 -19.3,18 -23.3,14 -26.7,10 -29.6,6.3 -31,2.5 -32.7,-.8 -33.9,-3.9 -34.5,-6.9 -29.9,-8 -29.8,-9.8 -29.5,-11.4 -29,-12.9 -28.1,-14 -27.1,-15.2 -26,-16 -24.8,-16.8 -24.4,-18.1 -22.8,-18.5 -20.9,-18.8 -19.1,-18.8 -18.1,-19.9 -15.8,-19.5 -13.3,-19 -10.9,-18.3 -9,-18.7 -6,-17.6 -3.3,-16.2 -.4,-14.7 2.6,-14.2 5.7,-12.1 8.6,-10.1 11.2,-7.9 15.7,-6.2 18.4,-3.5 20.7,-.6 22.4,2 23.6,4.6 24.2,6.8 24.4,9 24,10.8 21,11.1 20,12.1 18.6,12.8 17,13.3 14,12.5 12.3,12.4 10.5,12.3 8.7,12 6.9,11.5 5,11 3.2,10.2 1.3,9.3 -.5,9 -2.3,7.8 -4,6.5 -5.6,5.3 -8.7,4.7 -10.2,2.8 -11.7,.9 -12.5,-.7 -12.8,-2.2 -12.9,-3.6 -13,-4.7 -12.7,-5.8 -11,-5.9 -10.4,-6.5 -9.7,-6.8 -8.8,-7.1 -7.6,-7 -6.6,-7 -5.5,-6.9 -4.4,-6.6 -3.4,-6.5 -2.2,-6.1 -.9,-5.5 .2,-4.8 1.4,-4.6 2.7,-3.6 3.7,-2.8 4.7,-1.9 6.9,-1 7.7,.2 8.3,1.5 8.5,2.5 8,3.2 7.6,3.9 7.2,4.3 6.5,4.7 5,4.3 4.3,4.3 3.6,4.3 2.7,4.1 1.9,3.8 1.1,3.5 .3,3.1 -.4,2.6 -1.3,2.5 -2,1.8 -2.6,1.2 -3.2,.6 -4.3,0 -4.7,-.7 -4.8,-1.4 -4.8,-2 -4.3,-2.3 -4,-2.6 -3.5,-2.8 -2.9,-2.8 -2.1,-2.5 -1.6,-2.3 -1,-2.2 -.5,-2 0,-1.7 .5,-1.5 1,-1.1 1.4,-.8 2,-.4 2.4,0 2.5,.5 2.7,.8"/>
<path d="M1123.9,1127.5l-9.3,-7.4 -9.3,-7.5 -9.1,-7.5 -9.1,-7.5 -44.1,-37.8 -41.9,-38 -39.9,-38.1 -37.8,-38 -48.5,-52.2 -44.5,-51.5 -40.4,-50.6 -36.3,-49.3 -37.7,-56.8 -31.7,-54.4 -25.7,-51.6 -19.3,-48.5 -15.1,-57 -3.7,-50.6 8.5,-43.7 21.3,-36.1 25.7,-22.4 33.8,-17 41.7,-11.6 49.3,-5.8 56.2,0 62.3,6 67.4,11.8 71.2,17.5 67.5,20.7 68.5,25.1 68.5,28.9 67.6,32.4 65.6,35.4 62.9,37.9 59.2,39.9 55,41.4 44.9,37.5 40.7,37.9 36.4,37.7 31.8,37.4 26.6,35.8 22.1,34.8 17.5,33.5 13.1,32 9,31.3 4.3,29.2 0,26.8 -4.1,24.3 -9.4,24.4 -13.9,20.9 -18.1,17.3 -21.7,13.8 -25.8,10.6 -28.7,6.8 -31.1,3.3 -32.8,-.2 -30.5,-2.9 -31.2,-5.4 -31.6,-7.6 -31.5,-9.7 -29.4,-10.8 -28.8,-12.2 -28.2,-13.6 -27.4,-14.7 -26.9,-16 -25.8,-16.8 -24.3,-17.5 -22.8,-17.9 -22.2,-19.2 -20.4,-19.3 -18.2,-19.3 -16.1,-19 -14.8,-19.9 -12.2,-19.2 -9.6,-18.3 -7,-17.3 -4.5,-17.4 -1.5,-15.8 1.4,-14.2 4.3,-12.4 7.7,-11.4 10.8,-9.1 13.4,-6.7 15.9,-4.3 21,-2 23.1,1.1 24.6,3.9 25.6,6.7 23.9,8.3 23.7,10 23,11.6 21.8,12.9 18,12.1 16.6,12.5 15,12.9 13.3,13 10.9,12.3 9.2,12 7.3,11.6 5.5,11.1 3.8,10.7 1.8,9.8 0,8.8 -1.7,7.8 -3.8,7.4 -5.6,5.9 -7.2,4.5 -8.5,3 -11,1.8 -12.1,0 -12.8,-1.7 -13.2,-3 -12.9,-4.2 -12.7,-5.3 -12.3,-6.1 -11.6,-6.9 -9.8,-6.6 -8.9,-6.9 -8.1,-7 -7,-7.1 -6.1,-7.1 -4.9,-6.8 -3.7,-6.5 -2.5,-6.1 -1.5,-5.9 -.2,-5.3 .9,-4.5 2.1,-3.8 3.6,-3.4 4.7,-2.3 5.6,-1.2 6.3,-.3 7.8,.7 8.2,1.9 8.2,2.8 8.1,3.6 7.3,3.9 6.7,4.4 6,4.6 5.2,4.7 4,4.2 3.2,4.2 2.4,3.9 1.5,3.7 .9,3.5 0,3 -.8,2.5 -1.5,2.1 -2.3,1.7 -3.1,1 -3.5,.4 -4,-.2 -4.6,-.9 -4.7,-1.6 -4.7,-2 -4.3,-2.5 -3.7,-2.4 -3.2,-2.6 -2.7,-2.7 -2.2,-2.6 -1.5,-2.3 -1,-2.2 -.4,-2 0,-1.6 .6,-1.5 1.1,-1.1 1.4,-.8 1.8,-.4 2.7,.1 2.8,.6 2.9,1"/>
<path d="M1066.9,1082.4l-9.7,-8.3 -9.7,-8.4 -9.5,-8.4 -9.4,-8.4 -45.6,-42 -43.1,-42.2 -40.4,-41.9 -37.9,-41.7 -46.7,-55.3 -42.1,-54 -37.2,-52.6 -32.5,-50.8 -31.7,-56.7 -24.9,-53.5 -17.8,-49.8 -10.4,-45.9 -2.4,-42.8 6.3,-37.8 15.6,-32.3 25.2,-26.5 35,-20.2 44.6,-13.6 53.8,-6.7 62.2,.4 63.7,6.6 68.6,12.5 72.4,18.3 74.9,23.8 65.5,24.6 65.4,28.1 64.4,31.2 62.6,33.9 60.1,36.2 56.8,38 53.1,39.4 48.7,40.2 41,37.6 36.6,37.6 32.3,37.2 27.6,36.5 22.9,35.3 18.3,34 13.8,32.5 9.3,30.6 5.1,30.2 .6,27.8 -3.8,25.2 -7.9,22.5 -14,22.8 -18.6,18.8 -22.8,14.9 -26.3,10.9 -28.7,6.9 -31,3.4 -32.8,-.1 -34.1,-3.3 -30.4,-5.3 -30.7,-7.5 -30.7,-9.4 -30.5,-11.1 -29,-12.4 -28.3,-13.6 -27.6,-14.7 -26.5,-15.7 -26.1,-17.1 -24.8,-17.7 -23.2,-18.2 -21.4,-18.5 -20.9,-19.8 -18.7,-19.6 -16.5,-19.5 -14.2,-18.9 -12.6,-19.7 -9.9,-18.8 -7.1,-17.8 -4.5,-16.5 -1.7,-16.4 1.4,-14.6 4.3,-12.7 7.1,-10.8 11,-9.6 13.8,-7 16.5,-4.4 18.7,-1.9 22.5,.7 24,3.5 25,6.1 25.4,8.4 23.7,9.9 23,11.3 22,12.6 20.5,13.6 16.6,12.4 15,12.8 13.3,12.8 11.5,12.7 9.4,12.2 7.5,11.7 5.8,11.2 3.8,10.5 2.1,10.1 .2,9.2 -1.6,8 -3.3,7 -5.6,6.4 -7.4,4.9 -8.9,3.2 -10.1,1.7 -11.9,.2 -12.7,-1.4 -13.1,-2.8 -13.3,-4.2 -12.2,-4.9 -12,-5.8 -11.4,-6.5 -10.6,-6.9 -9.2,-6.9 -8.3,-7 -7.3,-7.1 -6.2,-7 -5.2,-7 -4.1,-6.7 -2.9,-6.3 -1.7,-5.8 -.5,-5.5 .7,-4.9 1.9,-4.1 2.9,-3.2 4.6,-2.7 5.6,-1.6 6.5,-.5 7.1,.5 8.1,1.6 8.2,2.5 8.1,3.4 7.8,4 6.7,4.1 6,4.4 5.4,4.6 4.5,4.6 3.5,4.2 2.7,4 1.8,3.8 1.1,3.5 .3,3.2 -.5,2.8 -1.3,2.3 -1.9,1.7 -2.9,1.4 -3.6,.6 -4,-.1 -4.3,-.6 -4.7,-1.4 -4.7,-1.9 -4.4,-2.3 -4.1,-2.6 -3.3,-2.5 -2.9,-2.6 -2.3,-2.6 -1.8,-2.5 -1.2,-2.3 -.6,-2 -.2,-1.8 .4,-1.5 .9,-1.3 1.4,-.9 1.7,-.5 2,-.2 2.8,.4 3,.8"/>
<path d="M1009.9,1034.7l-10.1,-9.3 -10,-9.3 -9.8,-9.3 -9.8,-9.3 -46.8,-46.5 -43.6,-46.4 -40.5,-45.8 -37.3,-45.2 -43.9,-57.7 -38.5,-55.8 -33,-53.7 -27.5,-51.2 -25,-57 -16.6,-52.6 -7.7,-47.9 1.7,-42.5 9.4,-32.3 17.3,-27.6 25.4,-22.7 33.5,-17.4 41.6,-11.8 49.2,-6.2 56.4,-.2 62.6,5.7 69.6,11.9 73.8,17.9 76.4,23.7 77.8,29.1 64,27.6 63,30.5 61.4,33.1 59,35.3 55.9,37 52.4,38.4 48.4,39.2 44,39.7 37.4,37.7 33,37.4 28.4,36.7 23.8,35.7 19.4,34.7 14.7,33.3 10.1,31.4 5.7,29.4 1.4,29 -3.2,26.4 -7.4,23.5 -11.5,20.6 -17.9,20.1 -22.1,16.1 -25.9,12 -29,8 -30.7,4.2 -32.6,.7 -33.9,-2.6 -34.9,-5.6 -30.3,-7.1 -30.4,-9.1 -30.3,-10.7 -29.8,-12.3 -28.7,-13.6 -28,-14.7 -26.9,-15.7 -25.8,-16.5 -25.5,-17.9 -23.9,-18.5 -22.2,-18.8 -20.3,-18.9 -19.6,-20.1 -17.3,-19.9 -15,-19.5 -12.5,-18.9 -10.7,-19.5 -7.9,-18.4 -5.1,-17.1 -2.2,-15.8 .6,-15.4 3.8,-13.5 6.8,-11.4 9.5,-9.4 13.7,-7.9 16.6,-5.2 19,-2.4 21,.2 23.5,2.8 24.6,5.5 25.2,7.8 25,9.9 22.8,10.8 21.9,12 20.5,13 19,13.7 15.4,12.7 13.8,12.7 12,12.8 10.2,12.5 8.2,12 6.4,11.5 4.5,10.9 2.6,10 .8,9.7 -1.1,8.6 -2.8,7.5 -4.5,6.2 -7.2,5.7 -8.8,3.9 -10.4,2.2 -11.4,.6 -12.5,-1 -13.1,-2.5 -13.3,-3.8 -13.2,-5 -11.8,-5.5 -11.4,-6.2 -10.7,-6.7 -9.9,-7.1 -8.7,-7 -7.6,-7.2 -6.6,-7.1 -5.6,-6.9 -4.5,-6.9 -3.3,-6.6 -2.1,-6 -.9,-5.5 .3,-5.2 1.6,-4.4 2.7,-3.6 3.7,-2.8 5.5,-2.1 6.6,-.9 7.3,.3 7.8,1.3 8.2,2.3 8.2,3.1 7.9,3.9 7.4,4.4 6.2,4.2 5.4,4.5 4.8,4.5 3.9,4.5 2.9,4.1 2.1,3.9 1.3,3.6 .6,3.3 -.3,3 -1,2.5 -1.8,1.9 -2.4,1.4 -3.5,1 -4.1,.1 -4.5,-.5 -4.7,-1.2 -4.7,-1.8 -4.5,-2.2 -4.2,-2.6 -3.8,-2.8 -2.9,-2.5 -2.4,-2.6 -1.9,-2.5 -1.4,-2.3 -.8,-2.2 -.2,-1.9 .2,-1.6 .7,-1.3 1.3,-1 1.8,-.7 2,-.2 2.3,.2 2.9,.7"/>
<path d="M953,984.3l-10.5,-10.3 -10.3,-10.3 -10.1,-10.3 -10,-10.3 -47.5,-51.1 -43.8,-50.6 -39.9,-49.7 -36.1,-48.5 -39,-57.6 -33.1,-55.3 -27.1,-52.5 -21,-49.5 -17.5,-59.1 -6.1,-52.8 6.2,-45.8 19.3,-38.1 23.9,-23.4 32.1,-18.3 40.1,-12.9 47.9,-7.2 55.2,-1.3 61.7,4.5 67.2,10.4 71.5,16.3 87,25.9 89,32.8 88.7,39.1 86.4,44.5 66.9,39.2 63.3,41.5 58.8,43.2 53.8,44.2 41.8,38.4 37.4,38.4 32.8,37.9 28.2,37.3 23.3,36 18.6,34.6 14.1,33.1 9.5,31.2 5.2,30.8 .7,28.3 -3.8,25.7 -8,23 -14.1,23.3 -19,19.3 -23.1,15.3 -26.7,11.2 -29,7.2 -31.5,3.6 -33.2,.1 -34.6,-3.2 -30.8,-5.3 -31.1,-7.4 -31.1,-9.3 -30.9,-11.2 -29.5,-12.3 -28.8,-13.7 -28,-14.8 -27,-15.8 -26.7,-17.2 -25.3,-17.9 -23.7,-18.4 -22,-18.7 -21.5,-20.1 -19.3,-19.9 -17.1,-19.8 -14.8,-19.3 -13.3,-20.2 -10.5,-19.2 -7.8,-18.2 -5,-17.1 -2.3,-16.8 .8,-15.2 3.8,-13.3 6.7,-11.3 10.4,-10.2 13.5,-7.6 16.2,-5 18.4,-2.5 22.7,.1 24.4,3.1 25.5,5.8 26,8.2 24.2,9.7 23.7,11.3 22.7,12.6 21.3,13.7 17.3,12.6 15.7,13 14,13.1 12.2,13 10.1,12.5 8.1,12.1 6.3,11.5 4.4,10.9 2.7,10.5 .7,9.5 -1.1,8.5 -2.9,7.3 -5.2,6.9 -6.9,5.4 -8.5,3.7 -9.9,2.2 -11.8,.7 -12.7,-.9 -13.3,-2.5 -13.5,-3.9 -12.7,-4.7 -12.5,-5.7 -11.8,-6.5 -11.2,-7 -9.7,-6.9 -8.7,-7.1 -7.8,-7.2 -6.7,-7.2 -5.7,-7.2 -4.5,-6.8 -3.4,-6.6 -2.1,-6 -1.1,-5.9 .3,-5.2 1.5,-4.4 2.6,-3.6 4.1,-3.1 5.3,-2 6.1,-.9 6.9,.1 8.1,1.2 8.4,2.2 8.4,3.2 8.1,3.8 7.1,4.1 6.6,4.5 5.9,4.7 5,4.7 3.8,4.4 3.1,4.2 2.2,4 1.4,3.6 .7,3.5 -.2,3 -1,2.5 -1.6,2 -2.6,1.6 -3.3,.9 -3.8,.3 -4.2,-.4 -4.7,-1.1 -4.8,-1.7 -4.7,-2.1 -4.4,-2.6 -3.6,-2.5 -3.2,-2.7 -2.7,-2.7 -2.1,-2.6 -1.5,-2.4 -.9,-2.2 -.4,-1.9 .1,-1.7 .6,-1.5 1.2,-1.1 1.5,-.7 1.9,-.4 2.8,.1 2.9,.7 3.1,1"/>
<path d="M896,930.9l-10.7,-11.3 -10.5,-11.4 -10.3,-11.3 -10.2,-11.3 -47.9,-55.9 -43.2,-54.8 -38.7,-53.4 -33.9,-51.6 -33.7,-57.7 -27.1,-54.7 -20.2,-51.1 -13.1,-47.4 -5.7,-46.7 3.7,-41.3 13.8,-35.5 24.3,-29.2 35.3,-22.4 46.1,-15.2 56.6,-7.7 66.3,.2 64.9,6.7 70.2,12.7 74.2,18.6 76.9,24.2 67.9,25.2 67.8,28.9 66.9,32.1 65.1,35 62.5,37.3 59.3,39.3 55.3,40.6 51,41.7 42.7,38.8 38.3,38.9 33.8,38.5 29,37.8 24.1,36.5 19.4,35.3 14.8,33.6 10.2,31.9 5.9,31.4 1.2,29 -3.3,26.3 -7.5,23.5 -13.6,24 -18.4,19.9 -22.7,15.9 -26.3,12 -28.9,7.9 -31.5,4.2 -33.4,.7 -34.8,-2.7 -31.1,-4.8 -31.4,-7.1 -31.6,-9.1 -31.3,-11 -29.9,-12.1 -29.2,-13.5 -28.4,-14.7 -27.5,-15.7 -27.2,-17.1 -25.8,-17.9 -24.3,-18.5 -22.7,-18.8 -22.1,-20.1 -20,-20.2 -17.8,-19.9 -15.6,-19.6 -14.1,-20.5 -11.4,-19.7 -8.6,-18.6 -5.8,-17.5 -3.2,-17.5 -.1,-15.7 3,-14 5.9,-12 9.6,-10.8 12.7,-8.4 15.5,-5.8 17.8,-3.3 22.6,-.7 24.5,2.3 25.8,5.2 26.5,7.8 24.7,9.3 24.3,11.1 23.4,12.5 22.1,13.7 18,12.6 16.5,13.1 14.8,13.3 13,13.4 10.7,12.7 8.9,12.3 7,11.9 5,11.3 3.3,10.8 1.3,10 -.5,8.9 -2.3,7.7 -4.5,7.4 -6.4,5.8 -8,4.3 -9.4,2.8 -11.6,1.3 -12.7,-.4 -13.3,-2 -13.7,-3.5 -13.1,-4.5 -12.9,-5.5 -12.4,-6.4 -11.7,-7 -10,-6.9 -9.2,-7.2 -8.2,-7.3 -7.2,-7.3 -6.2,-7.3 -5,-7 -3.8,-6.7 -2.6,-6.3 -1.5,-6.2 -.2,-5.4 1,-4.7 2.2,-4 3.7,-3.4 4.9,-2.4 5.8,-1.3 6.6,-.4 8,.8 8.5,1.9 8.6,2.9 8.4,3.7 7.5,4 7,4.5 6.3,4.8 5.5,4.9 4.2,4.4 3.4,4.3 2.6,4.1 1.7,3.9 .9,3.6 .1,3.2 -.6,2.7 -1.4,2.2 -2.4,1.9 -3,1.2 -3.6,.5 -4,-.2 -4.8,-.8 -4.9,-1.5 -4.8,-2 -4.6,-2.5 -3.9,-2.5 -3.4,-2.7 -3,-2.7 -2.4,-2.8 -1.7,-2.4 -1.2,-2.3 -.6,-2.1 -.1,-1.9 .5,-1.6 .9,-1.2 1.4,-.9 1.7,-.5 2.6,-.1 2.8,.4 2.9,.8"/>
<path d="M839,874.3l-10.9,-12.5 -10.6,-12.5 -10.5,-12.4 -10.2,-12.3 -47.6,-60.8 -42.1,-59 -36.3,-56.8 -30.7,-54.3 -27.8,-58.4 -19.8,-54.4 -11.3,-49.7 -2.4,-44.7 6.6,-37.5 15.8,-32.1 25.5,-26.4 35.3,-20.1 45.4,-13.6 54.8,-6.8 63.7,.4 71.5,7.6 71.8,13.4 76,19.4 78.5,25.1 79.8,30.4 66.3,29 65.3,32 63.5,34.6 61,36.8 57.8,38.5 54.2,40 49.9,40.7 45.4,41.3 38.6,39.1 34,38.8 29.3,38.1 24.5,37.1 20,36 15.1,34.5 10.4,32.6 5.9,30.6 1.4,30.2 -3.3,27.4 -7.8,24.5 -11.9,21.5 -18.4,20.9 -22.8,16.8 -26.6,12.6 -29.9,8.6 -31.6,4.5 -33.5,1 -35.1,-2.3 -36,-5.6 -31.1,-7 -31.2,-9 -31.1,-10.7 -30.7,-12.4 -29.7,-13.6 -28.9,-14.9 -28,-15.9 -26.8,-16.8 -26.6,-18.3 -25,-18.9 -23.3,-19.2 -21.6,-19.5 -20.8,-20.8 -18.6,-20.6 -16.2,-20.2 -13.7,-19.7 -12.1,-20.4 -9.2,-19.4 -6.3,-18.1 -3.4,-16.9 -.5,-16.5 2.7,-14.6 5.8,-12.6 8.7,-10.5 12.9,-9.2 15.8,-6.3 18.5,-3.7 20.6,-1 24.1,1.9 25.5,4.6 26.3,7.2 26.4,9.6 24.6,10.8 23.8,12.3 22.6,13.5 21,14.5 16.7,13 15.1,13.3 13.3,13.4 11.5,13.2 9.3,12.7 7.5,12.1 5.4,11.6 3.6,10.8 1.8,10.4 -.2,9.4 -2.1,8.3 -3.8,7 -6.4,6.5 -8.1,4.8 -9.7,3.2 -11,1.5 -12.6,-.1 -13.3,-1.7 -13.7,-3.2 -13.8,-4.5 -12.7,-5.2 -12.3,-6.1 -11.7,-6.7 -11,-7.3 -9.5,-7.1 -8.6,-7.4 -7.6,-7.4 -6.5,-7.3 -5.5,-7.3 -4.3,-7 -3,-6.6 -1.8,-6.1 -.6,-5.8 .6,-5.1 1.9,-4.3 3,-3.5 4.7,-2.9 5.8,-1.8 6.7,-.6 7.4,.4 8.4,1.6 8.6,2.5 8.5,3.4 8.2,4.2 7.1,4.2 6.5,4.6 5.8,4.8 4.9,4.8 3.8,4.5 3,4.2 2.1,4.1 1.3,3.7 .5,3.5 -.3,3 -1.1,2.5 -1.8,1.9 -2.9,1.6 -3.5,.9 -4,.1 -4.3,-.5 -4.9,-1.2 -5,-1.8 -4.7,-2.2 -4.5,-2.7 -3.6,-2.6 -3.2,-2.7 -2.7,-2.8 -2.1,-2.6 -1.5,-2.5 -.9,-2.2 -.4,-2 .1,-1.7 .7,-1.6 1.2,-1.1 1.6,-.7 2,-.3 2.8,.1 3.1,.6 3.1,1.2"/>
<path d="M782,813.8l-11,-13.7 -10.7,-13.6 -10.4,-13.5 -10.2,-13.4 -44.7,-62.8 -38.4,-60.3 -32.1,-57.4 -25.5,-54.3 -22.2,-62 -11.1,-55.9 .8,-49.2 13.6,-41.8 20.3,-27.1 29.1,-21.8 38.1,-16.1 46.8,-10.1 55.4,-3.9 63,2.4 69.8,9 75.2,15.3 83.1,22.6 85.6,29.1 86.4,34.9 85.5,40.2 75.4,40.4 72.1,43.5 67.7,45.9 62.4,47.6 47.5,40.4 43.1,40.6 38.3,40.5 33.5,40 27.9,38.4 23.1,37.2 18.3,35.7 13.6,34.1 9.2,33.5 4.3,31.2 -.3,28.7 -4.7,26 -10.3,26.2 -15.1,22.4 -19.6,18.7 -23.3,14.9 -27.6,11.3 -30.5,7.4 -32.9,3.7 -34.8,.1 -31.8,-2.8 -32.6,-5.3 -33,-7.6 -33.1,-9.7 -30.8,-10.9 -30.5,-12.4 -29.8,-13.9 -29,-15 -28.8,-16.5 -27.6,-17.4 -26.2,-18.1 -24.7,-18.7 -24.4,-20.2 -22.4,-20.3 -20.3,-20.4 -18.3,-20.3 -17,-21.3 -14.5,-20.7 -11.7,-20 -9,-19 -6.7,-19.2 -3.5,-17.8 -.5,-16.1 2.6,-14.3 6.1,-13.5 9.3,-11.1 12.4,-8.7 15,-6.2 20.6,-4.2 23.2,-.9 25.4,2.3 26.7,5.2 25.9,7.4 26,9.6 25.5,11.4 24.7,13 20.8,12.6 19.5,13.4 17.8,13.8 16.1,14.1 13.3,13.4 11.5,13.2 9.6,12.8 7.6,12.4 5.8,12 3.7,11.2 1.8,10.3 -.1,9.3 -2.1,8.9 -4,7.6 -5.8,6.1 -7.4,4.7 -10.4,3.7 -12,1.8 -13.1,-.1 -13.9,-1.8 -13.8,-3.2 -13.9,-4.5 -13.7,-5.7 -13.2,-6.6 -11.3,-6.6 -10.7,-7 -9.8,-7.4 -8.8,-7.6 -7.7,-7.6 -6.6,-7.4 -5.5,-7.3 -4.3,-7 -3.1,-6.9 -1.9,-6.3 -.6,-5.7 .6,-5.1 2,-4.6 3.3,-3.7 4.4,-2.7 5.4,-1.7 7.5,-.8 8.4,.5 9,1.8 9.1,2.8 8.5,3.6 8.1,4.2 7.6,4.7 6.9,5.1 5.3,4.6 4.6,4.6 3.8,4.6 2.9,4.3 2,4.1 1.2,3.8 .3,3.3 -.4,2.9 -1.4,2.6 -2.1,2 -2.7,1.4 -3.4,.7 -4.6,.1 -5,-.7 -5.1,-1.4 -5.2,-2.1 -4.7,-2.4 -4.3,-2.7 -3.9,-3 -3.3,-3 -2.4,-2.6 -1.8,-2.6 -1.3,-2.4 -.7,-2.2 -.2,-2 .4,-1.7 .9,-1.3 1.3,-1 2,-.6 2.3,-.2 2.6,.3 2.8,.7 3,1.1"/>
<path d="M725,748.9l-10.9,-15 -10.7,-14.8 -10.3,-14.8 -10,-14.5 -40.5,-63.8 -33.7,-60.6 -26.5,-56.9 -19.1,-53.1 -12.7,-59.1 .4,-51.8 14.4,-43.7 29.7,-34.8 31.5,-19.2 39.9,-13.7 48.4,-8 56.2,-2.1 63.5,3.9 69.8,10.1 74.7,16.1 78.5,21.9 73,24.6 73.8,28.9 73.3,32.7 72.1,36.2 69.6,39.1 66.5,41.6 62.5,43.4 57.9,44.8 47.7,41 43.1,41.2 38.4,41.1 33.5,40.5 28.1,39 23.1,37.8 18.2,36.3 13.5,34.6 9,34 4,31.7 -.6,29 -5.1,26.4 -10.8,26.6 -15.8,22.7 -20.3,18.9 -24.1,15 -28.2,11.3 -31.1,7.4 -33.6,3.6 -35.4,-.1 -32.2,-2.9 -33,-5.4 -33.3,-7.7 -33.3,-9.8 -31.3,-11 -30.8,-12.6 -30.3,-14 -29.4,-15.2 -29.2,-16.7 -28,-17.6 -26.7,-18.3 -25.1,-19 -24.9,-20.4 -22.9,-20.7 -20.9,-20.7 -18.6,-20.6 -17.6,-21.7 -14.9,-21.1 -12.2,-20.4 -9.5,-19.4 -7.1,-19.7 -3.9,-18.2 -.8,-16.6 2.2,-14.8 5.9,-13.9 9.1,-11.6 12.1,-9.1 15,-6.6 20.4,-4.6 23.2,-1.3 25.3,1.8 26.9,4.9 26.3,7.2 26.6,9.4 26.2,11.4 25.5,13 21.5,12.8 20.2,13.5 18.7,14.1 16.8,14.5 13.9,13.6 12.1,13.5 10.2,13.1 8.2,12.8 6.2,12.3 4.3,11.6 2.3,10.7 .3,9.7 -1.7,9.3 -3.6,7.9 -5.5,6.6 -7.1,5.1 -10.3,4.3 -11.9,2.2 -13.2,.3 -14,-1.5 -14,-2.9 -14.1,-4.3 -14,-5.5 -13.6,-6.5 -11.8,-6.6 -11.1,-7.1 -10.2,-7.4 -9.3,-7.7 -8.1,-7.7 -7.1,-7.7 -5.9,-7.4 -4.7,-7.2 -3.6,-7.2 -2.3,-6.6 -1,-6 .2,-5.3 1.6,-5 2.9,-4 4.1,-3.1 5.1,-2 7.4,-1.3 8.4,.2 9,1.5 9.4,2.6 8.7,3.4 8.4,4.1 8,4.7 7.3,5 5.7,4.7 4.9,4.8 4.2,4.7 3.3,4.5 2.3,4.3 1.5,3.9 .7,3.6 -.2,3.1 -1,2.8 -1.9,2.3 -2.5,1.6 -3.2,1 -4.5,.4 -5,-.5 -5.3,-1.3 -5.3,-1.9 -4.9,-2.3 -4.6,-2.7 -4.1,-2.9 -3.5,-3.1 -2.7,-2.7 -2.1,-2.7 -1.5,-2.5 -1,-2.3 -.4,-2.2 .2,-1.8 .6,-1.5 1.2,-1.1 1.8,-.9 2.2,-.3 2.5,.1 2.7,.5 3.1,1"/>
<path d="M668.1,678.1l-10.8,-16.4 -10.4,-16.2 -10,-15.9 -9.5,-15.8 -36.6,-66.6 -28.1,-62.2 -19.1,-57.4 -9.6,-51.9 1.1,-47.5 13.3,-40.6 26.5,-33 40.4,-24.6 41.1,-13 49.6,-7.2 57.5,-1.4 64.8,4.7 71.1,10.9 76.2,16.8 79.8,22.7 82,28.3 71.9,28.8 71.5,32.3 70.1,35.4 68,38.2 65,40.4 61.3,42.3 57.1,43.5 52.3,44.3 44.1,41.6 39.4,41.5 34.5,41 29.5,40.1 24.5,38.9 19.4,37.5 14.4,35.7 9.7,33.8 5,33.2 .1,30.6 -4.6,27.8 -9,24.8 -15.9,25.3 -21,20.9 -25.4,16.5 -29.3,12.2 -31.4,7.8 -33.8,3.9 -35.7,.2 -37.2,-3.2 -32.4,-5.3 -32.8,-7.5 -32.9,-9.5 -32.6,-11.4 -31.4,-12.7 -30.8,-14.1 -29.9,-15.3 -29,-16.4 -28.9,-18 -27.6,-18.8 -25.9,-19.4 -24.4,-19.8 -23.9,-21.3 -21.8,-21.4 -19.6,-21.2 -17.3,-21 -15.9,-22 -13.1,-21.2 -10.2,-20.2 -7.3,-19.1 -4.7,-19.2 -1.4,-17.5 1.9,-15.6 5,-13.6 8.8,-12.6 12.1,-9.9 15.1,-7.3 17.8,-4.7 23.6,-2.2 26,1.2 27.8,4.5 28.8,7.5 26.9,9.2 26.5,11.2 25.8,12.9 24.6,14.3 20.3,13.4 18.8,14 17,14.4 15.1,14.5 12.6,13.7 10.6,13.5 8.7,13 6.6,12.5 4.7,12.1 2.7,11.1 .6,10.2 -1.2,9.1 -3.5,8.6 -5.4,7.1 -7.2,5.6 -8.8,4.1 -11.5,2.8 -12.9,.8 -13.9,-.9 -14.5,-2.6 -14.4,-4 -14.3,-5.3 -13.9,-6.3 -13.5,-7.1 -11.3,-7.1 -10.6,-7.4 -9.7,-7.7 -8.7,-7.9 -7.5,-7.8 -6.4,-7.7 -5.2,-7.5 -4,-7.1 -2.8,-7 -1.4,-6.4 -.2,-5.7 1.1,-5 2.6,-4.5 3.8,-3.6 5,-2.5 6,-1.4 8,-.4 8.8,.9 9.3,2.1 9.4,3.2 8.7,3.8 8.4,4.5 7.7,5 6.9,5.3 5.4,4.7 4.6,4.8 3.7,4.7 2.8,4.5 2,4.2 1.1,3.8 .2,3.4 -.6,3 -1.5,2.6 -2.3,2 -3,1.4 -3.5,.7 -4.8,0 -5.2,-.8 -5.3,-1.6 -5.3,-2.1 -4.9,-2.5 -4.5,-2.9 -4,-3 -3.4,-3.2 -2.4,-2.7 -1.9,-2.7 -1.4,-2.5 -.7,-2.2 -.2,-2.1 .3,-1.8 .9,-1.4 1.4,-1 2,-.7 2.4,-.2 2.7,.3 2.9,.7 3.1,1.1"/>
<path d="M611.1,598.8l-10.3,-17.9 -9.8,-17.6 -9.1,-17.3 -8.7,-17 -27.9,-63.4 -18.7,-58.3 -8.6,-52.5 2.5,-46.3 12.3,-35.5 22.7,-29.5 33.6,-23.1 45,-16.2 58.9,-9.1 70.5,-.6 80.8,8.1 89.3,16.9 81.5,21.2 84.4,27.2 85.8,32.7 85.6,37.9 84.4,42.6 81.3,46.5 76.8,49.4 71.2,51.7 52.9,43 48.3,43.3 43.4,43.5 38.2,43.1 31.8,41 26.9,39.9 21.7,38.6 16.8,36.9 12.2,36.3 7.1,34 2.2,31.5 -2.4,28.9 -8,28.9 -13,25.3 -17.6,21.6 -21.8,17.7 -26.8,14.7 -30.3,10.4 -33.1,6.5 -35.5,2.6 -33.1,-.9 -34.1,-3.6 -34.8,-6.2 -35.1,-8.6 -32.3,-9.9 -32,-11.5 -31.5,-13.2 -30.9,-14.5 -30.8,-16 -29.6,-17.2 -28.5,-18 -27,-18.8 -27,-20.4 -25.2,-20.8 -23.2,-21 -21.2,-21.1 -20.3,-22.5 -17.9,-22.1 -15.1,-21.5 -12.6,-20.7 -10.4,-21.3 -7.3,-20.1 -4.2,-18.6 -1,-16.9 2.4,-16.4 5.7,-14.2 9.1,-11.9 12.1,-9.4 16.8,-7.7 19.9,-4.7 22.5,-1.5 24.6,1.3 26.9,4.3 27.9,7.1 28.2,9.5 28,11.7 25,12.4 23.9,13.6 22.5,14.7 20.7,15.3 16.8,14.1 15.1,14.3 13.1,14.2 11.1,13.9 9.1,13.4 6.9,12.8 4.9,12.1 2.9,11.3 .9,10.8 -1.1,9.7 -3.1,8.4 -4.9,7 -7.9,6.6 -9.7,4.6 -11.4,2.7 -12.6,1 -13.7,-.8 -14.4,-2.4 -14.7,-3.9 -14.7,-5.3 -13.3,-5.8 -12.8,-6.6 -12.2,-7.2 -11.4,-7.7 -10,-7.8 -9,-7.9 -7.9,-7.9 -6.8,-7.8 -5.8,-7.8 -4.4,-7.5 -3.2,-7 -1.8,-6.5 -.6,-6.3 .7,-5.4 2.1,-4.7 3.3,-3.7 5,-3.1 6.3,-1.9 7.2,-.7 7.9,.4 9,1.6 9.3,2.7 9.2,3.6 8.9,4.4 7.7,4.5 7,4.9 6.4,5.2 5.4,5.2 4.3,4.7 3.3,4.7 2.5,4.4 1.6,4.1 .8,3.8 -.1,3.4 -1,2.8 -1.7,2.3 -2.8,1.9 -3.5,1.1 -4.1,.5 -4.5,-.3 -5.2,-1 -5.3,-1.7 -5.2,-2.3 -5,-2.7 -4.1,-2.7 -3.8,-3 -3.1,-2.9 -2.6,-3 -1.9,-2.7 -1.3,-2.5 -.8,-2.3 -.1,-2 .4,-1.8 .9,-1.5 1.4,-1 1.9,-.6 2.7,-.3 3,.4 3.1,.8 3.2,1.2"/>
<path d="M554.1,504.2l-9,-19.7 -8.1,-19.2 -7.3,-18.8 -6.4,-18.2 -13.9,-51.9 -5,-46.9 4.6,-41.5 15.1,-35.4 23.4,-26.4 33.2,-20.6 43.2,-14.6 53.2,-8.1 63.8,-1.2 72.9,6 80.4,13.4 86.4,20.6 89.8,27.3 91.9,33.8 92,39.6 90.4,44.9 78,43.7 74.2,46.6 69.4,48.8 63.9,50.2 49.4,43.4 44.7,43.5 39.6,43.2 34.4,42.6 28.7,41 23.5,39.7 18.5,38.1 13.4,36.2 8.8,35.7 3.6,33.1 -1.2,30.5 -5.9,27.6 -12.1,27.9 -17.3,23.9 -22,19.7 -26,15.6 -29.8,11.6 -32.9,7.5 -35.2,3.6 -37.2,-.2 -33.3,-3 -34,-5.5 -34.3,-7.8 -34.4,-10 -32.4,-11.3 -32.1,-12.8 -31.4,-14.3 -30.6,-15.5 -30.6,-17.2 -29.4,-18.1 -28.1,-18.9 -26.5,-19.6 -26.4,-21.2 -24.5,-21.5 -22.4,-21.6 -20.2,-21.6 -19.3,-22.8 -16.5,-22.3 -13.8,-21.6 -11,-20.7 -8.7,-21.1 -5.5,-19.7 -2.1,-18.1 1,-16.2 4.6,-15.5 8.1,-13.1 11.4,-10.6 14.4,-8.1 19.6,-6.1 22.6,-2.8 25,.4 26.9,3.4 27.7,6.2 28.3,8.8 28.3,11 27.7,13 24,13.1 22.8,14.1 21.1,14.9 19.3,15.4 16,14.4 14,14.3 12.1,14.2 10,13.9 8,13.3 5.8,12.7 3.8,11.8 1.7,10.9 -.2,10.5 -2.4,9.2 -4.3,7.9 -6.1,6.4 -9.4,5.9 -11.4,3.7 -12.9,1.8 -14.1,-.2 -14.4,-2 -14.8,-3.4 -14.8,-4.8 -14.7,-6.1 -13,-6.3 -12.4,-7.1 -11.7,-7.6 -10.7,-7.9 -9.6,-8 -8.4,-8 -7.4,-8 -6.1,-7.8 -5.1,-7.8 -3.7,-7.4 -2.4,-6.9 -1.1,-6.2 .2,-6 1.7,-5.1 2.9,-4.2 4,-3.2 6.1,-2.6 7.2,-1.2 8.1,0 8.7,1.2 9.3,2.3 9.3,3.3 9.1,4.2 8.7,4.8 7.3,4.7 6.6,5.1 5.7,5.1 4.9,5.1 3.8,4.8 2.9,4.6 2,4.3 1.2,3.9 .2,3.7 -.6,3.1 -1.4,2.6 -2.2,2 -3.4,1.6 -4,.8 -4.6,0 -4.9,-.7 -5.3,-1.5 -5.3,-2 -5.2,-2.5 -4.7,-3 -4,-2.8 -3.4,-2.9 -2.8,-3 -2.3,-2.9 -1.6,-2.6 -1.1,-2.5 -.4,-2.2 .1,-1.9 .7,-1.7 1.3,-1.3 1.7,-.8 2.1,-.4 3,0 3.4,.7 3.3,1.1"/>
</g>
<g fill="#ff0000">
<circle cx="497.2" cy="322.7" r="13.5"/>
<circle cx="554.1" cy="201.7" r="13.5"/>
<circle cx="611.1" cy="171.9" r="13.5"/>
<circle cx="668.1" cy="157.4" r="13.5"/>
<circle cx="725.0" cy="151.4" r="13.5"/>
<circle cx="782.0" cy="151.3" r="13.5"/>
<circle cx="839.0" cy="155.6" r="13.5"/>
<circle cx="896.0" cy="163.7" r="13.5"/>
<circle cx="953.0" cy="175.2" r="13.5"/>
<circle cx="1009.9" cy="189.5" r="13.5"/>
<circle cx="1066.9" cy="206.6" r="13.5"/>
<circle cx="1123.9" cy="226.3" r="13.5"/>
<circle cx="1180.9" cy="248.5" r="13.5"/>
<circle cx="1237.8" cy="273.1" r="13.5"/>
<circle cx="1294.8" cy="300.1" r="13.5"/>
<circle cx="1351.8" cy="329.6" r="13.5"/>
<circle cx="1408.8" cy="361.4" r="13.5"/>
<circle cx="1465.7" cy="395.8" r="13.5"/>
<circle cx="1522.7" cy="432.7" r="13.5"/>
<circle cx="1579.7" cy="472.3" r="13.5"/>
<circle cx="1636.7" cy="514.9" r="13.5"/>
<circle cx="1693.6" cy="560.7" r="13.5"/>
<circle cx="1750.6" cy="609.9" r="13.5"/>
<circle cx="1807.6" cy="663.2" r="13.5"/>
<circle cx="1864.6" cy="721.3" r="13.5"/>
<circle cx="1921.5" cy="785.2" r="13.5"/>
<circle cx="1978.5" cy="856.8" r="13.5"/>
<circle cx="2035.5" cy="939.7" r="13.5"/>
<circle cx="2092.5" cy="1043.0" r="13.5"/>
<circle cx="2135.9" cy="1160.9" r="13.5"/>
<circle cx="2149.4" cy="1262.8" r="13.5"/>
<circle cx="2138.3" cy="1336.8" r="13.5"/>
<circle cx="2092.5" cy="1412.4" r="13.5"/>
<circle cx="2035.5" cy="1450.9" r="13.5"/>
<circle cx="1978.5" cy="1469.0" r="13.5"/>
<circle cx="1921.5" cy="1475.8" r="13.5"/>
<circle cx="1864.6" cy="1474.9" r="13.5"/>
<circle cx="1807.6" cy="1468.2" r="13.5"/>
<circle cx="1750.6" cy="1456.7" r="13.5"/>
<circle cx="1693.6" cy="1441.2" r="13.5"/>
<circle cx="1636.7" cy="1422.1" r="13.5"/>
<circle cx="1579.7" cy="1399.9" r="13.5"/>
<circle cx="1522.7" cy="1374.8" r="13.5"/>
<circle cx="1465.7" cy="1346.9" r="13.5"/>
<circle cx="1408.8" cy="1316.4" r="13.5"/>
<circle cx="1351.8" cy="1283.5" r="13.5"/>
<circle cx="1294.8" cy="1248.1" r="13.5"/>
<circle cx="1237.8" cy="1210.3" r="13.5"/>
<circle cx="1180.9" cy="1170.1" r="13.5"/>
<circle cx="1123.9" cy="1127.5" r="13.5"/>
<circle cx="1066.9" cy="1082.4" r="13.5"/>
<circle cx="1009.9" cy="1034.7" r="13.5"/>
<circle cx="953.0" cy="984.3" r="13.5"/>
<circle cx="896.0" cy="930.9" r="13.5"/>
<circle cx="839.0" cy="874.3" r="13.5"/>
<circle cx="782.0" cy="813.8" r="13.5"/>
<circle cx="725.0" cy="748.9" r="13.5"/>
<circle cx="668.1" cy="678.1" r="13.5"/>
<circle cx="611.1" cy="598.8" r="13.5"/>
<circle cx="554.1" cy="504.2" r="13.5"/>
</g>
<circle cx="1393.1" cy="830.0" r="13.5" fill="#00ff00"/>
<g fill="none" stroke="#262626" stroke-width="3" stroke-linecap="butt">
<rect x="252.5" y="42.5" width="1996" height="1575"/>
<path d="M479.5,1617.5 v-19.5 M479.5,42.5 v19.5 M708,1617.5 v-19.5 M708,42.5 v19.5 M936.5,1617.5 v-19.5 M936.5,42.5 v19.5 M1164.5,1617.5 v-19.5 M1164.5,42.5 v19.5 M1392.5,1617.5 v-19.5 M1392.5,42.5 v19.5 M1620.5,1617.5 v-19.5 M1620.5,42.5 v19.5 M1849,1617.5 v-19.5 M1849,42.5 v19.5 M2077.5,1617.5 v-19.5 M2077.5,42.5 v19.5 M252.5,1460 h19.5 M2248.5,1460 h-19.5 M252.5,1302.5 h19.5 M2248.5,1302.5 h-19.5 M252.5,1145 h19.5 M2248.5,1145 h-19.5 M252.5,988.5 h19.5 M2248.5,988.5 h-19.5 M252.5,829.5 h19.5 M2248.5,829.5 h-19.5 M252.5,673 h19.5 M2248.5,673 h-19.5 M252.5,513.5 h19.5 M2248.5,513.5 h-19.5 M252.5,357.5 h19.5 M2248.5,357.5 h-19.5 M252.5,198.5 h19.5 M2248.5,198.5 h-19.5"/>
</g>
<g class="t">
<text x="250.5" y="1704.5" text-anchor="middle" letter-spacing="-2">-10</text>
<text x="478.0" y="1704.5" text-anchor="middle" letter-spacing="-2">-8</text>
<text x="707.5" y="1704.5" text-anchor="middle" letter-spacing="-2">-6</text>
<text x="934.0" y="1704.5" text-anchor="middle" letter-spacing="-2">-4</text>
<text x="1164.0" y="1704.5" text-anchor="middle" letter-spacing="-2">-2</text>
<text x="1392.0" y="1704.5" text-anchor="middle">0</text>
<text x="1621.5" y="1704.5" text-anchor="middle">2</text>
<text x="1849.0" y="1704.5" text-anchor="middle">4</text>
<text x="2078.5" y="1704.5" text-anchor="middle">6</text>
<text x="227.7" y="1644.2" text-anchor="end">-50</text>
<text x="227.7" y="1484.7" text-anchor="end">-40</text>
<text x="227.7" y="1329.0" text-anchor="end">-30</text>
<text x="227.7" y="1169.0" text-anchor="end">-20</text>
<text x="227.7" y="1012.5" text-anchor="end">-10</text>
<text x="227.7" y="853.1" text-anchor="end">0</text>
<text x="227.7" y="696.8" text-anchor="end">10</text>
<text x="227.7" y="537.3" text-anchor="end">20</text>
<text x="227.7" y="381.1" text-anchor="end">30</text>
<text x="227.7" y="222.2" text-anchor="end">40</text>
<text x="227.7" y="64.9" text-anchor="end">50</text>
</g>
<g class="l">
<text x="1002" y="1796.7" textLength="279" lengthAdjust="spacingAndGlyphs">Voltage</text>
<text x="1313" y="1796.7" font-style="italic" textLength="40" lengthAdjust="spacingAndGlyphs">v</text>
<text x="1388.8" y="1796.7" textLength="107.8" lengthAdjust="spacingAndGlyphs"><tspan font-size="103px" dy="6.3">[</tspan><tspan dy="-6.3">V</tspan><tspan font-size="103px" dy="6.3">]</tspan></text>
<g transform="translate(83,0) rotate(-90)">
<text x="-1089" y="0" textLength="289" lengthAdjust="spacingAndGlyphs">Current</text>
<text x="-769" y="0" font-style="italic" textLength="26" lengthAdjust="spacingAndGlyphs">i</text>
<text x="-741" y="14" font-style="italic" font-size="62px" textLength="27" lengthAdjust="spacingAndGlyphs">s</text>
<text x="-676.2" y="0" textLength="108.3" lengthAdjust="spacingAndGlyphs"><tspan font-size="103px" dy="6.3">[</tspan><tspan dy="-6.3">A</tspan><tspan font-size="103px" dy="6.3">]</tspan></text>
</g></g>
</svg></body></html>
